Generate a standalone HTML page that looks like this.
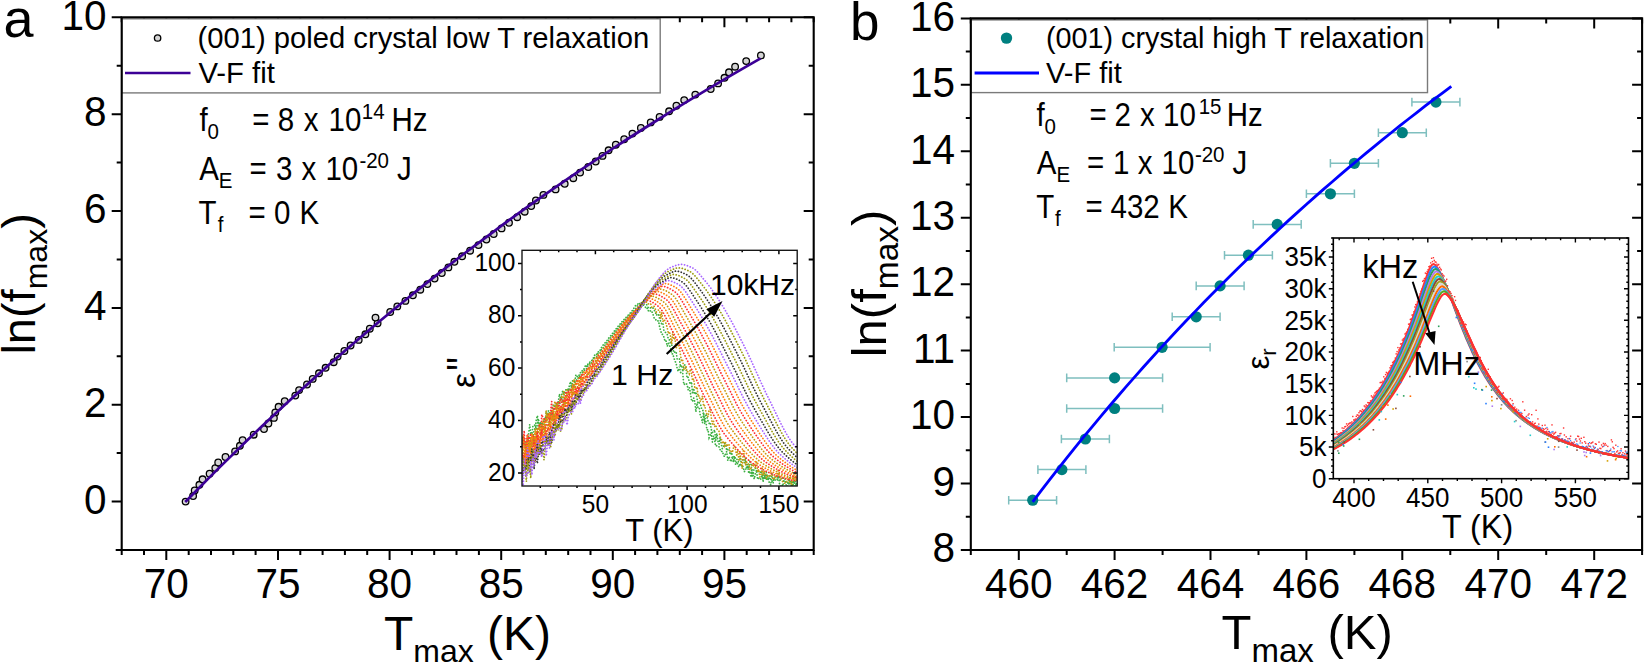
<!DOCTYPE html>
<html><head><meta charset="utf-8"><title>V-F fit figure</title>
<style>html,body{margin:0;padding:0;background:#fff;overflow:hidden}svg{display:block}</style>
</head><body>
<svg width="1644" height="663" viewBox="0 0 1644 663" font-family="'Liberation Sans', Arial, sans-serif">
<rect width="1644" height="663" fill="#fff"/>
<path d="M111.7 501.6H121.7M803.7 501.6H813.7M111.7 404.7H121.7M803.7 404.7H813.7M111.7 307.9H121.7M803.7 307.9H813.7M111.7 211.0H121.7M803.7 211.0H813.7M111.7 114.2H121.7M803.7 114.2H813.7M111.7 17.3H121.7M803.7 17.3H813.7M116.7 550.0H121.7M808.7 550.0H813.7M116.7 453.1H121.7M808.7 453.1H813.7M116.7 356.3H121.7M808.7 356.3H813.7M116.7 259.4H121.7M808.7 259.4H813.7M116.7 162.6H121.7M808.7 162.6H813.7M116.7 65.7H121.7M808.7 65.7H813.7M166.3 550.0V560.0M166.3 17.3V27.3M278.0 550.0V560.0M278.0 17.3V27.3M389.6 550.0V560.0M389.6 17.3V27.3M501.2 550.0V560.0M501.2 17.3V27.3M612.8 550.0V560.0M612.8 17.3V27.3M724.4 550.0V560.0M724.4 17.3V27.3M121.7 550.0V555.0M121.7 17.3V22.3M144.0 550.0V555.0M144.0 17.3V22.3M188.7 550.0V555.0M188.7 17.3V22.3M211.0 550.0V555.0M211.0 17.3V22.3M233.3 550.0V555.0M233.3 17.3V22.3M255.6 550.0V555.0M255.6 17.3V22.3M300.3 550.0V555.0M300.3 17.3V22.3M322.6 550.0V555.0M322.6 17.3V22.3M344.9 550.0V555.0M344.9 17.3V22.3M367.2 550.0V555.0M367.2 17.3V22.3M411.9 550.0V555.0M411.9 17.3V22.3M434.2 550.0V555.0M434.2 17.3V22.3M456.5 550.0V555.0M456.5 17.3V22.3M478.9 550.0V555.0M478.9 17.3V22.3M523.5 550.0V555.0M523.5 17.3V22.3M545.8 550.0V555.0M545.8 17.3V22.3M568.2 550.0V555.0M568.2 17.3V22.3M590.5 550.0V555.0M590.5 17.3V22.3M635.1 550.0V555.0M635.1 17.3V22.3M657.4 550.0V555.0M657.4 17.3V22.3M679.8 550.0V555.0M679.8 17.3V22.3M702.1 550.0V555.0M702.1 17.3V22.3M746.7 550.0V555.0M746.7 17.3V22.3M769.1 550.0V555.0M769.1 17.3V22.3M791.4 550.0V555.0M791.4 17.3V22.3M813.7 550.0V555.0M813.7 17.3V22.3" stroke="#000" stroke-width="2" fill="none"/>
<rect x="121.7" y="18.8" width="538.5" height="74.1" fill="#fff" stroke="#7a7a7a" stroke-width="1.4"/>
<path d="M115.7 550.0H813.7V17.3H121.7V550.5" stroke="#000" stroke-width="2.1" fill="none" stroke-linejoin="miter"/>
<g fill="#d4d4d4" stroke="#000" stroke-width="1.3"><circle cx="185.6" cy="501.6" r="3.3"/><circle cx="193.1" cy="496.0" r="3.3"/><circle cx="194.7" cy="490.4" r="3.3"/><circle cx="199.4" cy="484.8" r="3.3"/><circle cx="202.6" cy="479.3" r="3.3"/><circle cx="209.6" cy="473.7" r="3.3"/><circle cx="215.3" cy="468.1" r="3.3"/><circle cx="218.2" cy="462.5" r="3.3"/><circle cx="225.5" cy="457.0" r="3.3"/><circle cx="235.1" cy="451.4" r="3.3"/><circle cx="239.9" cy="445.8" r="3.3"/><circle cx="242.6" cy="440.2" r="3.3"/><circle cx="253.7" cy="434.7" r="3.3"/><circle cx="264.0" cy="429.1" r="3.3"/><circle cx="268.4" cy="423.5" r="3.3"/><circle cx="273.9" cy="417.9" r="3.3"/><circle cx="275.3" cy="412.4" r="3.3"/><circle cx="278.6" cy="406.8" r="3.3"/><circle cx="284.7" cy="401.2" r="3.3"/><circle cx="295.3" cy="395.6" r="3.3"/><circle cx="299.1" cy="390.1" r="3.3"/><circle cx="307.0" cy="384.5" r="3.3"/><circle cx="312.7" cy="378.9" r="3.3"/><circle cx="319.0" cy="373.3" r="3.3"/><circle cx="325.6" cy="367.8" r="3.3"/><circle cx="333.7" cy="362.2" r="3.3"/><circle cx="337.6" cy="356.6" r="3.3"/><circle cx="344.4" cy="351.0" r="3.3"/><circle cx="350.6" cy="345.5" r="3.3"/><circle cx="358.7" cy="339.9" r="3.3"/><circle cx="365.4" cy="334.3" r="3.3"/><circle cx="369.8" cy="328.7" r="3.3"/><circle cx="377.6" cy="323.2" r="3.3"/><circle cx="375.5" cy="317.6" r="3.3"/><circle cx="390.2" cy="312.0" r="3.3"/><circle cx="397.3" cy="306.4" r="3.3"/><circle cx="405.4" cy="300.9" r="3.3"/><circle cx="412.9" cy="295.3" r="3.3"/><circle cx="420.3" cy="289.7" r="3.3"/><circle cx="427.4" cy="284.1" r="3.3"/><circle cx="434.6" cy="278.6" r="3.3"/><circle cx="441.8" cy="273.0" r="3.3"/><circle cx="448.4" cy="267.4" r="3.3"/><circle cx="454.4" cy="261.8" r="3.3"/><circle cx="462.1" cy="256.3" r="3.3"/><circle cx="470.1" cy="250.7" r="3.3"/><circle cx="478.5" cy="245.1" r="3.3"/><circle cx="486.4" cy="239.5" r="3.3"/><circle cx="493.7" cy="234.0" r="3.3"/><circle cx="501.6" cy="228.4" r="3.3"/><circle cx="509.0" cy="222.8" r="3.3"/><circle cx="517.2" cy="217.2" r="3.3"/><circle cx="524.7" cy="211.7" r="3.3"/><circle cx="531.2" cy="206.1" r="3.3"/><circle cx="535.9" cy="200.5" r="3.3"/><circle cx="543.4" cy="194.9" r="3.3"/><circle cx="555.6" cy="189.4" r="3.3"/><circle cx="564.7" cy="183.8" r="3.3"/><circle cx="573.3" cy="178.2" r="3.3"/><circle cx="580.1" cy="172.6" r="3.3"/><circle cx="588.3" cy="167.0" r="3.3"/><circle cx="595.7" cy="161.5" r="3.3"/><circle cx="602.5" cy="155.9" r="3.3"/><circle cx="608.6" cy="150.3" r="3.3"/><circle cx="615.8" cy="144.7" r="3.3"/><circle cx="624.2" cy="139.2" r="3.3"/><circle cx="632.4" cy="133.6" r="3.3"/><circle cx="640.9" cy="128.0" r="3.3"/><circle cx="650.7" cy="122.4" r="3.3"/><circle cx="659.6" cy="116.9" r="3.3"/><circle cx="669.1" cy="111.3" r="3.3"/><circle cx="676.4" cy="105.7" r="3.3"/><circle cx="684.2" cy="100.1" r="3.3"/><circle cx="695.3" cy="94.6" r="3.3"/><circle cx="710.7" cy="89.0" r="3.3"/><circle cx="718.1" cy="83.4" r="3.3"/><circle cx="724.5" cy="77.8" r="3.3"/><circle cx="729.0" cy="72.3" r="3.3"/><circle cx="735.1" cy="66.7" r="3.3"/><circle cx="746.2" cy="61.1" r="3.3"/><circle cx="760.9" cy="55.5" r="3.3"/></g>
<polyline fill="none" stroke="#3c0096" stroke-width="2.7" stroke-linejoin="round" points="185.2,502.0 192.6,494.5 200.0,487.0 207.5,479.4 215.0,471.9 222.6,464.4 230.3,456.9 238.0,449.4 245.7,441.8 253.6,434.3 261.4,426.8 269.4,419.3 277.4,411.8 285.5,404.2 293.6,396.7 301.9,389.2 310.2,381.7 318.5,374.2 327.0,366.6 335.5,359.1 344.1,351.6 352.8,344.1 361.5,336.6 370.4,329.0 379.3,321.5 388.4,314.0 397.5,306.5 406.7,299.0 416.0,291.4 425.4,283.9 434.9,276.4 444.5,268.9 454.2,261.3 464.0,253.8 473.9,246.3 483.9,238.8 494.0,231.3 504.2,223.7 514.6,216.2 525.0,208.7 535.6,201.2 546.3,193.7 557.1,186.1 568.0,178.6 579.0,171.1 590.2,163.6 601.5,156.1 612.9,148.5 624.5,141.0 636.1,133.5 648.0,126.0 659.9,118.5 672.0,110.9 684.2,103.4 696.6,95.9 709.1,88.4 721.8,80.9 734.5,73.3 747.5,65.8 760.6,58.3"/>
<circle cx="157.6" cy="38" r="3.2" fill="#d4d4d4" stroke="#000" stroke-width="1.3"/>
<path d="M125 73H190.5" stroke="#3c0096" stroke-width="2.6"/>
<text x="197.6" y="47.6" font-size="29.2">(001) poled crystal low T relaxation</text>
<text x="198.4" y="83.2" font-size="29.3">V-F fit</text>
<text transform="translate(199.5,131.1) scale(1,1.12)" font-size="29.5">f</text>
<text transform="translate(207.4,139.1) scale(1,1.08)" font-size="20.5">0</text>
<text transform="translate(252.2,131.1) scale(1,1.12)" font-size="29.5">=</text>
<text transform="translate(277.7,131.1) scale(1,1.12)" font-size="29.5">8</text>
<text transform="translate(303.7,131.1) scale(1,1.12)" font-size="29.5">x</text>
<text transform="translate(328.5,131.1) scale(1,1.12)" font-size="29.5">10</text>
<text transform="translate(361.8,119.3) scale(1,1.08)" font-size="20.5">14</text>
<text transform="translate(391.4,131.1) scale(1,1.12)" font-size="29.5">Hz</text>
<text transform="translate(199.3,180.0) scale(1,1.12)" font-size="29.5">A</text>
<text transform="translate(218.7,188.0) scale(1,1.08)" font-size="20.5">E</text>
<text transform="translate(249.4,180.0) scale(1,1.12)" font-size="29.5">=</text>
<text transform="translate(275.9,180.0) scale(1,1.12)" font-size="29.5">3</text>
<text transform="translate(301.5,180.0) scale(1,1.12)" font-size="29.5">x</text>
<text transform="translate(325.4,180.0) scale(1,1.12)" font-size="29.5">10</text>
<text transform="translate(359.4,168.2) scale(1,1.08)" font-size="20.5">-20</text>
<text transform="translate(397.1,180.0) scale(1,1.12)" font-size="29.5">J</text>
<text transform="translate(198.4,223.6) scale(1,1.12)" font-size="29.5">T</text>
<text transform="translate(217.8,231.6) scale(1,1.08)" font-size="20.5">f</text>
<text transform="translate(248.4,223.6) scale(1,1.12)" font-size="29.5">=</text>
<text transform="translate(274.1,223.6) scale(1,1.12)" font-size="29.5">0</text>
<text transform="translate(299.4,223.6) scale(1,1.12)" font-size="29.5">K</text>
<rect x="522.0" y="250.3" width="275.2" height="235.7" fill="#fff"/>
<clipPath id="cia"><rect x="522.0" y="250.3" width="275.2" height="235.7"/></clipPath>
<g clip-path="url(#cia)" fill="none" stroke-width="1.75" stroke-linecap="round" stroke-dasharray="0.1 2.9"><path d="M522.0 445.2 L523.1 441.8 L524.2 444.0 L525.3 446.1 L526.4 441.2 L527.5 442.6 L528.6 434.0 L529.7 424.5 L530.8 434.0 L531.9 433.3 L533.0 425.4 L534.1 425.0 L535.2 425.2 L536.3 429.6 L537.4 423.6 L538.5 418.6 L539.6 428.1 L540.7 422.4 L541.8 428.4 L542.9 424.1 L544.0 425.4 L545.1 416.6 L546.2 420.0 L547.3 411.8 L548.4 411.0 L549.5 411.1 L550.6 419.5 L551.7 409.8 L552.8 406.3 L553.9 404.3 L555.0 409.1 L556.1 403.7 L557.2 404.0 L558.3 401.9 L559.4 394.0 L560.5 399.0 L561.6 395.1 L562.7 390.9 L563.8 394.2 L564.9 391.5 L566.0 389.6 L567.1 388.5 L568.2 390.8 L569.3 386.1 L570.4 381.6 L571.5 387.7 L572.6 380.6 L573.7 381.1 L574.8 381.6 L575.9 374.6 L577.0 376.1 L578.1 378.7 L579.2 374.9 L580.3 372.7 L581.4 372.7 L582.5 369.9 L583.6 369.8 L584.7 367.3 L585.8 364.9 L586.9 366.6 L588.0 364.0 L589.1 363.5 L590.2 361.4 L591.4 361.4 L592.5 359.4 L593.6 357.6 L594.7 355.2 L595.8 353.7 L596.9 354.3 L598.0 352.4 L599.1 350.1 L600.2 350.2 L601.3 347.9 L602.4 346.4 L603.5 344.4 L604.6 343.3 L605.7 342.2 L606.8 340.8 L607.9 339.4 L609.0 337.7 L610.1 336.6 L611.2 335.1 L612.3 333.7 L613.4 332.3 L614.5 330.9 L615.6 329.5 L616.7 328.1 L617.8 326.7 L618.9 325.4 L620.0 324.1 L621.1 322.8 L622.2 321.5 L623.3 320.3 L624.4 319.1 L625.5 318.0 L626.6 316.8 L627.7 315.7 L628.8 314.6 L629.9 313.4 L631.0 312.2 L632.1 310.9 L633.2 309.4 L634.3 307.5 L635.4 305.8 L636.5 304.5 L637.6 304.0 L638.7 304.1 L639.8 304.2 L640.9 304.6 L642.0 304.8 L643.1 304.6 L644.2 305.8 L645.3 306.9 L646.4 309.0 L647.5 308.2 L648.6 311.3 L649.7 311.8 L650.8 310.3 L651.9 311.6 L653.0 314.1 L654.1 318.0 L655.2 318.2 L656.3 320.9 L657.4 321.1 L658.5 320.8 L659.6 326.7 L660.7 331.0 L661.8 334.3 L662.9 334.6 L664.0 337.3 L665.1 341.6 L666.2 341.1 L667.3 346.3 L668.4 343.2 L669.5 345.5 L670.6 347.7 L671.7 354.1 L672.8 353.7 L673.9 357.8 L675.0 361.0 L676.1 363.2 L677.2 368.5 L678.3 371.5 L679.4 366.7 L680.5 372.3 L681.6 373.3 L682.7 373.0 L683.8 384.7 L684.9 383.9 L686.0 383.0 L687.1 384.7 L688.2 389.8 L689.3 387.5 L690.4 392.8 L691.5 400.1 L692.6 401.5 L693.7 398.0 L694.8 401.6 L695.9 412.0 L697.0 403.2 L698.1 408.0 L699.2 407.7 L700.3 415.8 L701.4 417.7 L702.5 422.8 L703.6 412.5 L704.7 424.0 L705.8 420.2 L706.9 430.0 L708.0 429.4 L709.1 437.7 L710.2 435.4 L711.3 432.6 L712.4 442.1 L713.5 435.9 L714.6 440.0 L715.7 446.2 L716.8 445.7 L717.9 446.8 L719.0 446.7 L720.1 449.5 L721.2 451.7 L722.3 451.1 L723.4 454.7 L724.5 456.7 L725.6 453.6 L726.7 451.5 L727.8 460.7 L729.0 456.5 L730.1 459.7 L731.2 461.8 L732.3 456.5 L733.4 462.1 L734.5 456.1 L735.6 464.7 L736.7 461.6 L737.8 464.5 L738.9 467.1 L740.0 463.3 L741.1 466.5 L742.2 464.7 L743.3 467.6 L744.4 471.8 L745.5 469.0 L746.6 469.1 L747.7 466.6 L748.8 473.5 L749.9 471.1 L751.0 477.3 L752.1 469.7 L753.2 476.1 L754.3 479.0 L755.4 473.5 L756.5 470.0 L757.6 479.4 L758.7 478.4 L759.8 477.6 L760.9 479.3 L762.0 474.6 L763.1 479.1 L764.2 479.1 L765.3 475.1 L766.4 480.0 L767.5 476.3 L768.6 481.5 L769.7 482.6 L770.8 485.1 L771.9 472.8 L773.0 480.5 L774.1 478.9 L775.2 480.1 L776.3 479.7 L777.4 480.3 L778.5 474.3 L779.6 484.5 L780.7 486.5 L781.8 484.8 L782.9 486.1 L784.0 479.2 L785.1 479.1 L786.2 485.3 L787.3 486.9 L788.4 483.6 L789.5 477.7 L790.6 492.2 L791.7 481.0 L792.8 486.5 L793.9 479.5 L795.0 486.8 L796.1 484.2 L797.2 488.5" stroke="#3cb043"/><path d="M522.0 453.8 L523.1 436.7 L524.2 439.4 L525.3 446.1 L526.4 447.5 L527.5 452.1 L528.6 440.8 L529.7 436.6 L530.8 435.0 L531.9 433.2 L533.0 437.4 L534.1 429.8 L535.2 428.3 L536.3 419.7 L537.4 415.5 L538.5 425.0 L539.6 427.0 L540.7 422.2 L541.8 423.8 L542.9 423.3 L544.0 418.8 L545.1 422.3 L546.2 413.5 L547.3 415.5 L548.4 412.8 L549.5 413.4 L550.6 414.3 L551.7 413.9 L552.8 409.6 L553.9 409.4 L555.0 404.9 L556.1 404.4 L557.2 407.9 L558.3 401.3 L559.4 404.8 L560.5 400.8 L561.6 398.3 L562.7 402.6 L563.8 394.4 L564.9 392.9 L566.0 392.5 L567.1 391.9 L568.2 390.5 L569.3 390.8 L570.4 387.7 L571.5 387.1 L572.6 384.3 L573.7 386.1 L574.8 381.5 L575.9 380.5 L577.0 379.8 L578.1 379.1 L579.2 375.9 L580.3 378.7 L581.4 373.5 L582.5 372.6 L583.6 371.2 L584.7 369.7 L585.8 369.9 L586.9 368.0 L588.0 365.4 L589.1 364.3 L590.2 363.2 L591.4 363.8 L592.5 360.2 L593.6 358.3 L594.7 357.1 L595.8 356.4 L596.9 356.4 L598.0 353.2 L599.1 352.6 L600.2 352.6 L601.3 349.5 L602.4 349.0 L603.5 347.4 L604.6 345.7 L605.7 343.7 L606.8 342.8 L607.9 341.2 L609.0 339.6 L610.1 338.3 L611.2 337.0 L612.3 335.6 L613.4 334.2 L614.5 332.8 L615.6 331.4 L616.7 330.0 L617.8 328.6 L618.9 327.2 L620.0 325.8 L621.1 324.5 L622.2 323.1 L623.3 321.8 L624.4 320.6 L625.5 319.4 L626.6 318.2 L627.7 317.1 L628.8 316.0 L629.9 314.9 L631.0 313.8 L632.1 312.7 L633.2 311.5 L634.3 310.3 L635.4 309.0 L636.5 307.4 L637.6 305.5 L638.7 304.3 L639.8 303.3 L640.9 302.2 L642.0 303.0 L643.1 303.9 L644.2 304.0 L645.3 304.2 L646.4 304.1 L647.5 306.1 L648.6 308.1 L649.7 307.5 L650.8 308.0 L651.9 308.8 L653.0 308.1 L654.1 310.4 L655.2 311.0 L656.3 315.4 L657.4 314.2 L658.5 314.1 L659.6 318.4 L660.7 321.6 L661.8 324.2 L662.9 323.3 L664.0 331.3 L665.1 332.0 L666.2 333.0 L667.3 334.6 L668.4 339.5 L669.5 339.9 L670.6 343.6 L671.7 344.8 L672.8 347.7 L673.9 352.8 L675.0 351.9 L676.1 351.5 L677.2 359.4 L678.3 359.5 L679.4 358.9 L680.5 367.0 L681.6 365.1 L682.7 371.7 L683.8 366.5 L684.9 364.8 L686.0 368.1 L687.1 378.1 L688.2 377.3 L689.3 381.8 L690.4 384.3 L691.5 381.8 L692.6 394.0 L693.7 388.3 L694.8 394.5 L695.9 391.9 L697.0 398.4 L698.1 403.7 L699.2 402.8 L700.3 403.5 L701.4 408.1 L702.5 408.7 L703.6 414.3 L704.7 422.0 L705.8 413.9 L706.9 416.8 L708.0 420.9 L709.1 423.4 L710.2 422.3 L711.3 429.5 L712.4 432.4 L713.5 432.6 L714.6 429.8 L715.7 440.4 L716.8 433.3 L717.9 441.1 L719.0 444.1 L720.1 437.4 L721.2 443.4 L722.3 448.7 L723.4 446.8 L724.5 443.6 L725.6 443.9 L726.7 450.6 L727.8 448.9 L729.0 449.0 L730.1 454.7 L731.2 452.4 L732.3 454.8 L733.4 457.5 L734.5 458.4 L735.6 457.5 L736.7 458.6 L737.8 461.6 L738.9 462.0 L740.0 457.6 L741.1 461.6 L742.2 460.1 L743.3 459.9 L744.4 462.7 L745.5 457.8 L746.6 469.0 L747.7 464.2 L748.8 468.7 L749.9 461.9 L751.0 463.0 L752.1 476.1 L753.2 473.3 L754.3 468.2 L755.4 468.3 L756.5 469.0 L757.6 472.3 L758.7 471.0 L759.8 470.8 L760.9 473.7 L762.0 470.4 L763.1 482.1 L764.2 472.7 L765.3 478.8 L766.4 472.4 L767.5 476.9 L768.6 479.5 L769.7 475.6 L770.8 480.3 L771.9 480.7 L773.0 483.3 L774.1 478.4 L775.2 476.9 L776.3 475.4 L777.4 479.7 L778.5 476.0 L779.6 479.7 L780.7 480.4 L781.8 478.4 L782.9 476.9 L784.0 481.9 L785.1 481.8 L786.2 481.7 L787.3 481.1 L788.4 484.6 L789.5 478.2 L790.6 483.2 L791.7 480.4 L792.8 485.0 L793.9 481.1 L795.0 481.1 L796.1 484.0 L797.2 475.9" stroke="#3cb043"/><path d="M522.0 446.5 L523.1 435.9 L524.2 440.3 L525.3 449.7 L526.4 446.7 L527.5 440.3 L528.6 441.2 L529.7 439.6 L530.8 439.8 L531.9 446.9 L533.0 435.6 L534.1 445.0 L535.2 428.6 L536.3 433.1 L537.4 431.5 L538.5 427.5 L539.6 423.6 L540.7 431.0 L541.8 431.3 L542.9 426.6 L544.0 430.0 L545.1 423.6 L546.2 410.7 L547.3 421.5 L548.4 412.8 L549.5 420.3 L550.6 412.0 L551.7 413.3 L552.8 411.0 L553.9 407.2 L555.0 401.3 L556.1 405.9 L557.2 404.8 L558.3 407.3 L559.4 400.4 L560.5 401.8 L561.6 396.9 L562.7 398.3 L563.8 391.4 L564.9 401.3 L566.0 394.9 L567.1 390.2 L568.2 392.3 L569.3 392.2 L570.4 389.5 L571.5 390.9 L572.6 385.9 L573.7 379.3 L574.8 381.1 L575.9 384.8 L577.0 383.0 L578.1 380.7 L579.2 376.7 L580.3 378.8 L581.4 377.2 L582.5 373.2 L583.6 372.0 L584.7 372.6 L585.8 372.3 L586.9 371.4 L588.0 368.8 L589.1 369.2 L590.2 364.3 L591.4 364.4 L592.5 361.9 L593.6 359.2 L594.7 358.6 L595.8 359.2 L596.9 356.2 L598.0 354.7 L599.1 354.6 L600.2 353.3 L601.3 351.4 L602.4 350.7 L603.5 348.0 L604.6 348.0 L605.7 346.1 L606.8 344.4 L607.9 342.9 L609.0 341.4 L610.1 340.0 L611.2 338.6 L612.3 337.1 L613.4 335.7 L614.5 334.3 L615.6 332.8 L616.7 331.4 L617.8 330.0 L618.9 328.6 L620.0 327.2 L621.1 325.8 L622.2 324.4 L623.3 323.1 L624.4 321.7 L625.5 320.4 L626.6 319.2 L627.7 318.0 L628.8 316.8 L629.9 315.7 L631.0 314.6 L632.1 313.5 L633.2 312.5 L634.3 311.4 L635.4 310.3 L636.5 309.2 L637.6 307.8 L638.7 306.7 L639.8 305.3 L640.9 303.9 L642.0 302.1 L643.1 301.7 L644.2 302.8 L645.3 302.8 L646.4 302.0 L647.5 302.4 L648.6 304.0 L649.7 303.3 L650.8 304.0 L651.9 307.5 L653.0 306.6 L654.1 306.4 L655.2 308.7 L656.3 312.0 L657.4 310.4 L658.5 310.1 L659.6 310.3 L660.7 319.0 L661.8 312.0 L662.9 321.5 L664.0 319.5 L665.1 321.1 L666.2 324.0 L667.3 328.2 L668.4 333.7 L669.5 331.5 L670.6 337.1 L671.7 344.1 L672.8 331.7 L673.9 339.7 L675.0 338.5 L676.1 348.8 L677.2 343.8 L678.3 345.5 L679.4 347.7 L680.5 355.1 L681.6 361.4 L682.7 360.2 L683.8 369.3 L684.9 369.9 L686.0 366.1 L687.1 372.1 L688.2 371.5 L689.3 373.7 L690.4 369.1 L691.5 373.6 L692.6 380.6 L693.7 378.7 L694.8 387.9 L695.9 388.7 L697.0 386.9 L698.1 396.6 L699.2 395.7 L700.3 401.6 L701.4 399.0 L702.5 396.1 L703.6 406.4 L704.7 405.3 L705.8 411.2 L706.9 414.3 L708.0 416.8 L709.1 409.9 L710.2 409.0 L711.3 417.6 L712.4 423.9 L713.5 421.2 L714.6 426.8 L715.7 425.0 L716.8 428.7 L717.9 430.6 L719.0 431.3 L720.1 437.0 L721.2 437.9 L722.3 443.8 L723.4 440.9 L724.5 445.5 L725.6 442.5 L726.7 446.6 L727.8 444.2 L729.0 444.3 L730.1 451.9 L731.2 451.0 L732.3 452.6 L733.4 448.0 L734.5 445.9 L735.6 449.9 L736.7 455.1 L737.8 450.0 L738.9 461.2 L740.0 451.9 L741.1 460.2 L742.2 468.4 L743.3 450.9 L744.4 455.5 L745.5 465.2 L746.6 462.0 L747.7 464.2 L748.8 463.9 L749.9 470.1 L751.0 468.1 L752.1 464.9 L753.2 466.4 L754.3 463.7 L755.4 468.1 L756.5 461.0 L757.6 472.0 L758.7 469.2 L759.8 477.1 L760.9 475.4 L762.0 467.1 L763.1 475.4 L764.2 470.9 L765.3 473.4 L766.4 477.2 L767.5 475.3 L768.6 476.3 L769.7 476.7 L770.8 472.9 L771.9 473.6 L773.0 478.2 L774.1 479.8 L775.2 476.1 L776.3 477.8 L777.4 474.3 L778.5 469.1 L779.6 475.6 L780.7 478.9 L781.8 479.6 L782.9 482.2 L784.0 482.7 L785.1 483.3 L786.2 481.4 L787.3 481.8 L788.4 478.0 L789.5 482.1 L790.6 481.6 L791.7 485.3 L792.8 475.7 L793.9 479.8 L795.0 475.6 L796.1 479.1 L797.2 476.9" stroke="#c89a10"/><path d="M522.0 452.5 L523.1 444.8 L524.2 430.6 L525.3 455.2 L526.4 438.5 L527.5 434.1 L528.6 441.0 L529.7 437.7 L530.8 433.4 L531.9 443.5 L533.0 435.4 L534.1 441.0 L535.2 437.9 L536.3 435.6 L537.4 431.2 L538.5 428.0 L539.6 424.9 L540.7 433.2 L541.8 414.5 L542.9 417.5 L544.0 418.5 L545.1 422.5 L546.2 420.0 L547.3 415.9 L548.4 415.4 L549.5 423.4 L550.6 411.7 L551.7 401.5 L552.8 420.1 L553.9 407.3 L555.0 408.5 L556.1 409.1 L557.2 402.2 L558.3 410.2 L559.4 404.0 L560.5 398.1 L561.6 402.4 L562.7 401.7 L563.8 398.5 L564.9 398.8 L566.0 391.4 L567.1 397.3 L568.2 390.8 L569.3 395.3 L570.4 388.8 L571.5 389.5 L572.6 394.3 L573.7 386.6 L574.8 387.8 L575.9 385.0 L577.0 379.5 L578.1 383.7 L579.2 382.2 L580.3 376.1 L581.4 377.3 L582.5 373.6 L583.6 374.3 L584.7 374.9 L585.8 372.3 L586.9 369.1 L588.0 368.1 L589.1 368.0 L590.2 366.6 L591.4 365.3 L592.5 364.4 L593.6 360.5 L594.7 361.0 L595.8 360.6 L596.9 358.6 L598.0 356.3 L599.1 355.1 L600.2 354.2 L601.3 353.1 L602.4 351.3 L603.5 350.6 L604.6 349.0 L605.7 346.9 L606.8 345.9 L607.9 344.3 L609.0 342.7 L610.1 341.4 L611.2 340.0 L612.3 338.5 L613.4 337.0 L614.5 335.6 L615.6 334.1 L616.7 332.6 L617.8 331.2 L618.9 329.7 L620.0 328.3 L621.1 326.9 L622.2 325.5 L623.3 324.1 L624.4 322.7 L625.5 321.4 L626.6 320.1 L627.7 318.8 L628.8 317.5 L629.9 316.3 L631.0 315.1 L632.1 314.0 L633.2 312.9 L634.3 311.8 L635.4 310.8 L636.5 309.8 L637.6 308.7 L638.7 307.7 L639.8 306.6 L640.9 305.4 L642.0 303.9 L643.1 302.3 L644.2 301.0 L645.3 300.3 L646.4 300.2 L647.5 300.4 L648.6 300.6 L649.7 301.0 L650.8 301.4 L651.9 302.0 L653.0 302.6 L654.1 303.3 L655.2 304.1 L656.3 304.8 L657.4 305.7 L658.5 306.5 L659.6 307.5 L660.7 308.8 L661.8 310.4 L662.9 312.1 L664.0 314.1 L665.1 316.1 L666.2 318.3 L667.3 320.6 L668.4 322.8 L669.5 325.1 L670.6 327.4 L671.7 329.6 L672.8 331.7 L673.9 333.8 L675.0 335.9 L676.1 338.0 L677.2 340.1 L678.3 342.3 L679.4 344.5 L680.5 346.7 L681.6 348.9 L682.7 351.1 L683.8 353.3 L684.9 355.5 L686.0 357.8 L687.1 360.0 L688.2 362.2 L689.3 364.5 L690.4 366.8 L691.5 369.0 L692.6 371.3 L693.7 373.7 L694.8 376.0 L695.9 378.4 L697.0 380.8 L698.1 383.1 L699.2 385.5 L700.3 387.9 L701.4 390.2 L702.5 392.5 L703.6 394.8 L704.7 397.1 L705.8 399.3 L706.9 401.5 L708.0 403.7 L709.1 405.8 L710.2 408.0 L711.3 410.3 L712.4 412.5 L713.5 414.7 L714.6 416.9 L715.7 419.1 L716.8 421.2 L717.9 423.3 L719.0 425.3 L720.1 427.2 L721.2 429.1 L722.3 430.9 L723.4 432.5 L724.5 434.1 L725.6 435.5 L726.7 436.9 L727.8 438.3 L729.0 439.7 L730.1 441.0 L731.2 442.3 L732.3 443.6 L733.4 444.9 L734.5 446.1 L735.6 447.3 L736.7 448.5 L737.8 449.7 L738.9 450.9 L740.0 452.0 L741.1 453.2 L742.2 454.3 L743.3 455.3 L744.4 456.4 L745.5 457.4 L746.6 458.4 L747.7 459.4 L748.8 460.3 L749.9 461.2 L751.0 462.1 L752.1 463.0 L753.2 463.8 L754.3 464.6 L755.4 465.3 L756.5 466.0 L757.6 466.7 L758.7 467.3 L759.8 467.9 L760.9 468.5 L762.0 469.1 L763.1 469.7 L764.2 470.3 L765.3 470.8 L766.4 471.4 L767.5 471.9 L768.6 472.4 L769.7 472.9 L770.8 473.4 L771.9 473.9 L773.0 474.4 L774.1 474.8 L775.2 475.3 L776.3 475.7 L777.4 476.1 L778.5 476.5 L779.6 476.9 L780.7 477.2 L781.8 477.6 L782.9 477.9 L784.0 478.2 L785.1 478.5 L786.2 478.8 L787.3 479.1 L788.4 479.4 L789.5 479.7 L790.6 479.9 L791.7 480.1 L792.8 480.4 L793.9 480.6 L795.0 480.8 L796.1 481.0 L797.2 481.2" stroke="#ff3030"/><path d="M522.0 457.2 L523.1 436.1 L524.2 449.7 L525.3 453.2 L526.4 442.7 L527.5 435.3 L528.6 442.4 L529.7 451.5 L530.8 440.7 L531.9 433.6 L533.0 443.3 L534.1 443.4 L535.2 431.7 L536.3 434.8 L537.4 439.6 L538.5 433.9 L539.6 433.9 L540.7 426.8 L541.8 426.2 L542.9 419.7 L544.0 420.6 L545.1 429.9 L546.2 419.5 L547.3 416.1 L548.4 416.9 L549.5 413.2 L550.6 418.8 L551.7 419.2 L552.8 410.4 L553.9 417.0 L555.0 419.9 L556.1 406.6 L557.2 411.8 L558.3 408.9 L559.4 411.3 L560.5 409.6 L561.6 407.5 L562.7 403.5 L563.8 399.8 L564.9 406.4 L566.0 395.9 L567.1 400.0 L568.2 398.1 L569.3 392.0 L570.4 392.6 L571.5 394.8 L572.6 385.2 L573.7 390.3 L574.8 386.4 L575.9 385.2 L577.0 381.4 L578.1 383.9 L579.2 379.7 L580.3 381.7 L581.4 377.0 L582.5 378.9 L583.6 376.9 L584.7 372.1 L585.8 373.1 L586.9 372.1 L588.0 367.9 L589.1 369.0 L590.2 369.0 L591.4 365.8 L592.5 366.4 L593.6 362.7 L594.7 361.3 L595.8 361.4 L596.9 360.0 L598.0 358.0 L599.1 356.7 L600.2 355.8 L601.3 353.6 L602.4 353.4 L603.5 351.3 L604.6 349.9 L605.7 348.5 L606.8 346.9 L607.9 345.8 L609.0 344.1 L610.1 342.8 L611.2 341.4 L612.3 339.9 L613.4 338.4 L614.5 336.9 L615.6 335.3 L616.7 333.8 L617.8 332.3 L618.9 330.8 L620.0 329.4 L621.1 327.9 L622.2 326.4 L623.3 325.0 L624.4 323.6 L625.5 322.2 L626.6 320.8 L627.7 319.5 L628.8 318.1 L629.9 316.8 L631.0 315.6 L632.1 314.3 L633.2 313.1 L634.3 312.0 L635.4 310.9 L636.5 309.9 L637.6 308.9 L638.7 307.9 L639.8 306.9 L640.9 305.9 L642.0 304.8 L643.1 303.8 L644.2 302.5 L645.3 301.0 L646.4 299.6 L647.5 298.7 L648.6 298.3 L649.7 298.4 L650.8 298.6 L651.9 298.9 L653.0 299.3 L654.1 299.8 L655.2 300.4 L656.3 301.0 L657.4 301.7 L658.5 302.5 L659.6 303.3 L660.7 304.1 L661.8 305.0 L662.9 306.1 L664.0 307.5 L665.1 309.1 L666.2 310.9 L667.3 312.9 L668.4 315.0 L669.5 317.1 L670.6 319.3 L671.7 321.6 L672.8 323.8 L673.9 325.9 L675.0 328.1 L676.1 330.1 L677.2 332.1 L678.3 334.2 L679.4 336.3 L680.5 338.4 L681.6 340.5 L682.7 342.6 L683.8 344.8 L684.9 346.9 L686.0 349.1 L687.1 351.3 L688.2 353.5 L689.3 355.7 L690.4 357.9 L691.5 360.1 L692.6 362.4 L693.7 364.6 L694.8 366.9 L695.9 369.2 L697.0 371.5 L698.1 373.8 L699.2 376.1 L700.3 378.5 L701.4 380.8 L702.5 383.2 L703.6 385.5 L704.7 387.8 L705.8 390.1 L706.9 392.4 L708.0 394.6 L709.1 396.8 L710.2 399.0 L711.3 401.2 L712.4 403.3 L713.5 405.5 L714.6 407.8 L715.7 410.0 L716.8 412.2 L717.9 414.4 L719.0 416.5 L720.1 418.7 L721.2 420.7 L722.3 422.7 L723.4 424.7 L724.5 426.5 L725.6 428.3 L726.7 429.9 L727.8 431.5 L729.0 432.9 L730.1 434.4 L731.2 435.8 L732.3 437.3 L733.4 438.6 L734.5 440.0 L735.6 441.3 L736.7 442.6 L737.8 443.9 L738.9 445.2 L740.0 446.5 L741.1 447.7 L742.2 448.9 L743.3 450.1 L744.4 451.3 L745.5 452.5 L746.6 453.6 L747.7 454.8 L748.8 455.8 L749.9 456.9 L751.0 457.9 L752.1 458.9 L753.2 459.9 L754.3 460.8 L755.4 461.7 L756.5 462.6 L757.6 463.4 L758.7 464.2 L759.8 464.9 L760.9 465.6 L762.0 466.3 L763.1 466.9 L764.2 467.5 L765.3 468.2 L766.4 468.8 L767.5 469.4 L768.6 470.0 L769.7 470.5 L770.8 471.1 L771.9 471.6 L773.0 472.2 L774.1 472.7 L775.2 473.2 L776.3 473.7 L777.4 474.2 L778.5 474.6 L779.6 475.1 L780.7 475.5 L781.8 475.9 L782.9 476.3 L784.0 476.7 L785.1 477.1 L786.2 477.4 L787.3 477.7 L788.4 478.0 L789.5 478.4 L790.6 478.6 L791.7 478.9 L792.8 479.2 L793.9 479.5 L795.0 479.7 L796.1 480.0 L797.2 480.2" stroke="#ff7f0e"/><path d="M522.0 459.7 L523.1 448.8 L524.2 462.7 L525.3 451.3 L526.4 445.0 L527.5 450.8 L528.6 445.7 L529.7 452.7 L530.8 436.9 L531.9 437.0 L533.0 440.8 L534.1 450.9 L535.2 445.5 L536.3 433.0 L537.4 427.6 L538.5 433.5 L539.6 426.8 L540.7 434.5 L541.8 430.5 L542.9 427.8 L544.0 424.2 L545.1 431.9 L546.2 419.0 L547.3 416.0 L548.4 425.7 L549.5 425.2 L550.6 416.6 L551.7 419.5 L552.8 425.1 L553.9 411.3 L555.0 412.6 L556.1 413.7 L557.2 403.1 L558.3 409.0 L559.4 410.8 L560.5 406.6 L561.6 409.0 L562.7 406.6 L563.8 401.6 L564.9 403.1 L566.0 401.3 L567.1 393.9 L568.2 394.8 L569.3 393.6 L570.4 392.9 L571.5 391.6 L572.6 387.9 L573.7 390.0 L574.8 384.5 L575.9 389.3 L577.0 386.4 L578.1 387.3 L579.2 383.8 L580.3 380.9 L581.4 377.9 L582.5 380.2 L583.6 377.7 L584.7 376.9 L585.8 376.1 L586.9 375.3 L588.0 372.2 L589.1 373.0 L590.2 369.3 L591.4 368.0 L592.5 367.2 L593.6 366.1 L594.7 364.9 L595.8 360.7 L596.9 361.8 L598.0 358.2 L599.1 357.5 L600.2 356.6 L601.3 355.6 L602.4 353.1 L603.5 351.5 L604.6 351.1 L605.7 349.5 L606.8 347.8 L607.9 346.6 L609.0 345.0 L610.1 343.9 L611.2 342.4 L612.3 341.1 L613.4 339.6 L614.5 338.1 L615.6 336.6 L616.7 335.0 L617.8 333.5 L618.9 332.0 L620.0 330.4 L621.1 328.9 L622.2 327.4 L623.3 325.9 L624.4 324.4 L625.5 322.9 L626.6 321.5 L627.7 320.1 L628.8 318.8 L629.9 317.4 L631.0 316.0 L632.1 314.7 L633.2 313.4 L634.3 312.2 L635.4 311.0 L636.5 309.8 L637.6 308.7 L638.7 307.7 L639.8 306.7 L640.9 305.8 L642.0 304.8 L643.1 303.8 L644.2 302.9 L645.3 301.9 L646.4 300.8 L647.5 299.4 L648.6 298.1 L649.7 296.9 L650.8 296.3 L651.9 296.3 L653.0 296.4 L654.1 296.6 L655.2 297.0 L656.3 297.4 L657.4 298.0 L658.5 298.6 L659.6 299.2 L660.7 299.9 L661.8 300.7 L662.9 301.5 L664.0 302.3 L665.1 303.3 L666.2 304.6 L667.3 306.0 L668.4 307.7 L669.5 309.6 L670.6 311.5 L671.7 313.6 L672.8 315.7 L673.9 317.9 L675.0 320.0 L676.1 322.1 L677.2 324.2 L678.3 326.2 L679.4 328.2 L680.5 330.2 L681.6 332.2 L682.7 334.3 L683.8 336.4 L684.9 338.5 L686.0 340.6 L687.1 342.7 L688.2 344.8 L689.3 347.0 L690.4 349.1 L691.5 351.3 L692.6 353.5 L693.7 355.6 L694.8 357.8 L695.9 360.0 L697.0 362.3 L698.1 364.5 L699.2 366.8 L700.3 369.1 L701.4 371.4 L702.5 373.7 L703.6 376.0 L704.7 378.4 L705.8 380.7 L706.9 383.0 L708.0 385.3 L709.1 387.5 L710.2 389.8 L711.3 392.0 L712.4 394.2 L713.5 396.3 L714.6 398.5 L715.7 400.7 L716.8 402.9 L717.9 405.1 L719.0 407.3 L720.1 409.5 L721.2 411.7 L722.3 413.9 L723.4 416.0 L724.5 418.1 L725.6 420.1 L726.7 422.0 L727.8 423.8 L729.0 425.6 L730.1 427.2 L731.2 428.8 L732.3 430.3 L733.4 431.8 L734.5 433.3 L735.6 434.8 L736.7 436.2 L737.8 437.6 L738.9 439.0 L740.0 440.4 L741.1 441.7 L742.2 443.1 L743.3 444.4 L744.4 445.7 L745.5 447.0 L746.6 448.3 L747.7 449.5 L748.8 450.7 L749.9 451.9 L751.0 453.1 L752.1 454.3 L753.2 455.4 L754.3 456.5 L755.4 457.5 L756.5 458.5 L757.6 459.5 L758.7 460.5 L759.8 461.4 L760.9 462.2 L762.0 463.0 L763.1 463.8 L764.2 464.5 L765.3 465.2 L766.4 465.9 L767.5 466.6 L768.6 467.2 L769.7 467.9 L770.8 468.5 L771.9 469.1 L773.0 469.7 L774.1 470.3 L775.2 470.9 L776.3 471.4 L777.4 472.0 L778.5 472.5 L779.6 473.0 L780.7 473.5 L781.8 474.0 L782.9 474.5 L784.0 474.9 L785.1 475.3 L786.2 475.8 L787.3 476.1 L788.4 476.5 L789.5 476.9 L790.6 477.2 L791.7 477.5 L792.8 477.9 L793.9 478.2 L795.0 478.5 L796.1 478.8 L797.2 479.0" stroke="#c89a10"/><path d="M522.0 455.5 L523.1 456.4 L524.2 460.3 L525.3 463.0 L526.4 457.4 L527.5 441.0 L528.6 436.8 L529.7 443.8 L530.8 439.4 L531.9 448.3 L533.0 444.4 L534.1 441.1 L535.2 447.4 L536.3 445.6 L537.4 438.3 L538.5 439.3 L539.6 441.6 L540.7 432.5 L541.8 434.0 L542.9 426.0 L544.0 429.1 L545.1 428.7 L546.2 425.0 L547.3 424.9 L548.4 425.6 L549.5 423.0 L550.6 416.7 L551.7 415.9 L552.8 412.1 L553.9 422.6 L555.0 416.2 L556.1 415.0 L557.2 411.6 L558.3 412.6 L559.4 411.5 L560.5 405.9 L561.6 406.6 L562.7 409.6 L563.8 400.5 L564.9 400.2 L566.0 403.5 L567.1 398.1 L568.2 401.0 L569.3 394.6 L570.4 396.7 L571.5 396.7 L572.6 394.1 L573.7 393.6 L574.8 389.9 L575.9 388.5 L577.0 387.4 L578.1 387.2 L579.2 391.7 L580.3 383.2 L581.4 385.3 L582.5 380.2 L583.6 377.4 L584.7 377.4 L585.8 377.0 L586.9 375.3 L588.0 373.8 L589.1 372.9 L590.2 371.4 L591.4 370.3 L592.5 366.7 L593.6 366.4 L594.7 364.1 L595.8 363.7 L596.9 361.9 L598.0 360.6 L599.1 358.7 L600.2 357.1 L601.3 356.0 L602.4 354.9 L603.5 353.5 L604.6 351.2 L605.7 350.4 L606.8 349.0 L607.9 347.3 L609.0 346.0 L610.1 344.7 L611.2 343.4 L612.3 341.9 L613.4 340.6 L614.5 339.1 L615.6 337.7 L616.7 336.2 L617.8 334.7 L618.9 333.1 L620.0 331.5 L621.1 329.9 L622.2 328.4 L623.3 326.8 L624.4 325.2 L625.5 323.7 L626.6 322.2 L627.7 320.7 L628.8 319.3 L629.9 317.9 L631.0 316.5 L632.1 315.1 L633.2 313.8 L634.3 312.4 L635.4 311.1 L636.5 309.8 L637.6 308.6 L638.7 307.5 L639.8 306.4 L640.9 305.3 L642.0 304.3 L643.1 303.4 L644.2 302.5 L645.3 301.6 L646.4 300.7 L647.5 299.7 L648.6 298.7 L649.7 297.6 L650.8 296.3 L651.9 295.1 L653.0 294.2 L654.1 294.0 L655.2 294.0 L656.3 294.2 L657.4 294.5 L658.5 294.9 L659.6 295.4 L660.7 296.0 L661.8 296.6 L662.9 297.3 L664.0 298.0 L665.1 298.7 L666.2 299.5 L667.3 300.4 L668.4 301.5 L669.5 302.9 L670.6 304.4 L671.7 306.1 L672.8 308.0 L673.9 310.0 L675.0 312.0 L676.1 314.1 L677.2 316.1 L678.3 318.2 L679.4 320.3 L680.5 322.3 L681.6 324.2 L682.7 326.1 L683.8 328.1 L684.9 330.1 L686.0 332.1 L687.1 334.2 L688.2 336.2 L689.3 338.3 L690.4 340.4 L691.5 342.5 L692.6 344.6 L693.7 346.7 L694.8 348.9 L695.9 351.0 L697.0 353.2 L698.1 355.3 L699.2 357.5 L700.3 359.7 L701.4 362.0 L702.5 364.2 L703.6 366.5 L704.7 368.8 L705.8 371.1 L706.9 373.4 L708.0 375.7 L709.1 378.0 L710.2 380.3 L711.3 382.6 L712.4 384.8 L713.5 387.0 L714.6 389.2 L715.7 391.4 L716.8 393.5 L717.9 395.7 L719.0 397.9 L720.1 400.1 L721.2 402.3 L722.3 404.6 L723.4 406.8 L724.5 409.0 L725.6 411.1 L726.7 413.2 L727.8 415.3 L729.0 417.3 L730.1 419.2 L731.2 421.1 L732.3 422.8 L733.4 424.5 L734.5 426.1 L735.6 427.7 L736.7 429.2 L737.8 430.8 L738.9 432.3 L740.0 433.8 L741.1 435.2 L742.2 436.7 L743.3 438.1 L744.4 439.5 L745.5 440.9 L746.6 442.3 L747.7 443.7 L748.8 445.0 L749.9 446.4 L751.0 447.7 L752.1 449.0 L753.2 450.2 L754.3 451.5 L755.4 452.7 L756.5 453.9 L757.6 455.0 L758.7 456.1 L759.8 457.2 L760.9 458.2 L762.0 459.2 L763.1 460.1 L764.2 461.0 L765.3 461.9 L766.4 462.6 L767.5 463.4 L768.6 464.1 L769.7 464.9 L770.8 465.6 L771.9 466.3 L773.0 466.9 L774.1 467.6 L775.2 468.3 L776.3 468.9 L777.4 469.5 L778.5 470.1 L779.6 470.7 L780.7 471.3 L781.8 471.8 L782.9 472.4 L784.0 472.9 L785.1 473.4 L786.2 473.9 L787.3 474.3 L788.4 474.8 L789.5 475.2 L790.6 475.6 L791.7 476.0 L792.8 476.3 L793.9 476.7 L795.0 477.0 L796.1 477.4 L797.2 477.7" stroke="#ff3030"/><path d="M522.0 457.5 L523.1 459.1 L524.2 458.3 L525.3 468.3 L526.4 450.5 L527.5 441.5 L528.6 462.5 L529.7 442.4 L530.8 451.7 L531.9 433.2 L533.0 443.2 L534.1 445.5 L535.2 437.0 L536.3 439.0 L537.4 443.8 L538.5 435.6 L539.6 440.7 L540.7 445.8 L541.8 425.3 L542.9 435.5 L544.0 435.0 L545.1 428.8 L546.2 435.7 L547.3 432.8 L548.4 427.2 L549.5 425.6 L550.6 421.6 L551.7 415.9 L552.8 421.0 L553.9 415.8 L555.0 414.1 L556.1 419.1 L557.2 413.0 L558.3 415.9 L559.4 407.6 L560.5 408.5 L561.6 408.7 L562.7 411.7 L563.8 405.8 L564.9 407.1 L566.0 401.4 L567.1 402.5 L568.2 403.0 L569.3 396.9 L570.4 396.1 L571.5 397.9 L572.6 392.2 L573.7 394.3 L574.8 392.8 L575.9 390.4 L577.0 390.8 L578.1 388.6 L579.2 386.6 L580.3 382.1 L581.4 380.9 L582.5 382.5 L583.6 378.1 L584.7 379.3 L585.8 377.3 L586.9 375.2 L588.0 374.6 L589.1 370.6 L590.2 371.9 L591.4 372.0 L592.5 367.9 L593.6 368.1 L594.7 366.5 L595.8 367.2 L596.9 362.5 L598.0 361.2 L599.1 359.8 L600.2 358.2 L601.3 356.4 L602.4 355.8 L603.5 353.9 L604.6 353.0 L605.7 351.4 L606.8 349.6 L607.9 348.3 L609.0 347.2 L610.1 345.5 L611.2 344.2 L612.3 342.8 L613.4 341.4 L614.5 340.0 L615.6 338.5 L616.7 337.1 L617.8 335.6 L618.9 334.1 L620.0 332.6 L621.1 331.0 L622.2 329.4 L623.3 327.8 L624.4 326.2 L625.5 324.6 L626.6 323.0 L627.7 321.4 L628.8 319.8 L629.9 318.3 L631.0 316.9 L632.1 315.5 L633.2 314.1 L634.3 312.7 L635.4 311.3 L636.5 310.0 L637.6 308.6 L638.7 307.4 L639.8 306.1 L640.9 305.0 L642.0 303.8 L643.1 302.8 L644.2 301.8 L645.3 300.9 L646.4 300.0 L647.5 299.1 L648.6 298.2 L649.7 297.3 L650.8 296.4 L651.9 295.5 L653.0 294.3 L654.1 293.1 L655.2 292.1 L656.3 291.6 L657.4 291.6 L658.5 291.7 L659.6 292.0 L660.7 292.3 L661.8 292.7 L662.9 293.2 L664.0 293.8 L665.1 294.5 L666.2 295.1 L667.3 295.8 L668.4 296.6 L669.5 297.4 L670.6 298.4 L671.7 299.6 L672.8 301.0 L673.9 302.6 L675.0 304.4 L676.1 306.2 L677.2 308.2 L678.3 310.2 L679.4 312.2 L680.5 314.2 L681.6 316.2 L682.7 318.1 L683.8 320.0 L684.9 321.9 L686.0 323.9 L687.1 325.8 L688.2 327.8 L689.3 329.7 L690.4 331.8 L691.5 333.8 L692.6 335.8 L693.7 337.9 L694.8 339.9 L695.9 342.0 L697.0 344.1 L698.1 346.2 L699.2 348.4 L700.3 350.5 L701.4 352.7 L702.5 354.8 L703.6 357.0 L704.7 359.3 L705.8 361.5 L706.9 363.8 L708.0 366.0 L709.1 368.3 L710.2 370.6 L711.3 372.9 L712.4 375.2 L713.5 377.4 L714.6 379.7 L715.7 381.9 L716.8 384.1 L717.9 386.3 L719.0 388.4 L720.1 390.6 L721.2 392.8 L722.3 395.0 L723.4 397.2 L724.5 399.4 L725.6 401.7 L726.7 403.9 L727.8 406.1 L729.0 408.2 L730.1 410.3 L731.2 412.4 L732.3 414.4 L733.4 416.3 L734.5 418.2 L735.6 419.9 L736.7 421.6 L737.8 423.3 L738.9 425.0 L740.0 426.6 L741.1 428.2 L742.2 429.7 L743.3 431.3 L744.4 432.8 L745.5 434.3 L746.6 435.8 L747.7 437.2 L748.8 438.7 L749.9 440.2 L751.0 441.6 L752.1 443.1 L753.2 444.5 L754.3 445.9 L755.4 447.2 L756.5 448.5 L757.6 449.9 L758.7 451.1 L759.8 452.4 L760.9 453.6 L762.0 454.7 L763.1 455.8 L764.2 456.9 L765.3 457.9 L766.4 458.9 L767.5 459.8 L768.6 460.7 L769.7 461.5 L770.8 462.3 L771.9 463.1 L773.0 463.8 L774.1 464.6 L775.2 465.3 L776.3 466.0 L777.4 466.7 L778.5 467.4 L779.6 468.1 L780.7 468.7 L781.8 469.4 L782.9 470.0 L784.0 470.6 L785.1 471.1 L786.2 471.7 L787.3 472.2 L788.4 472.8 L789.5 473.3 L790.6 473.7 L791.7 474.2 L792.8 474.6 L793.9 475.0 L795.0 475.4 L796.1 475.8 L797.2 476.2" stroke="#ff7f0e"/><path d="M522.0 460.5 L523.1 457.8 L524.2 461.7 L525.3 453.0 L526.4 456.4 L527.5 460.2 L528.6 452.3 L529.7 439.9 L530.8 454.1 L531.9 442.0 L533.0 439.6 L534.1 437.8 L535.2 449.6 L536.3 432.7 L537.4 441.8 L538.5 442.4 L539.6 441.0 L540.7 435.4 L541.8 436.9 L542.9 436.7 L544.0 428.3 L545.1 436.4 L546.2 436.1 L547.3 426.1 L548.4 424.8 L549.5 421.4 L550.6 428.8 L551.7 418.3 L552.8 419.2 L553.9 412.8 L555.0 423.0 L556.1 416.0 L557.2 416.5 L558.3 419.8 L559.4 415.3 L560.5 407.7 L561.6 411.7 L562.7 411.2 L563.8 404.9 L564.9 403.4 L566.0 402.1 L567.1 405.9 L568.2 402.5 L569.3 398.2 L570.4 401.3 L571.5 400.0 L572.6 394.8 L573.7 391.7 L574.8 396.4 L575.9 398.0 L577.0 393.9 L578.1 391.5 L579.2 388.3 L580.3 385.4 L581.4 385.3 L582.5 384.8 L583.6 381.9 L584.7 382.2 L585.8 379.4 L586.9 378.8 L588.0 373.0 L589.1 374.0 L590.2 374.5 L591.4 373.2 L592.5 371.1 L593.6 370.7 L594.7 368.3 L595.8 366.7 L596.9 363.9 L598.0 363.4 L599.1 362.0 L600.2 360.7 L601.3 359.0 L602.4 356.9 L603.5 355.4 L604.6 353.4 L605.7 352.5 L606.8 350.5 L607.9 349.2 L609.0 347.8 L610.1 346.5 L611.2 345.0 L612.3 343.4 L613.4 342.0 L614.5 340.6 L615.6 339.2 L616.7 337.8 L617.8 336.4 L618.9 334.9 L620.0 333.5 L621.1 332.0 L622.2 330.5 L623.3 328.9 L624.4 327.3 L625.5 325.6 L626.6 323.9 L627.7 322.3 L628.8 320.6 L629.9 319.0 L631.0 317.4 L632.1 315.8 L633.2 314.3 L634.3 312.9 L635.4 311.5 L636.5 310.1 L637.6 308.7 L638.7 307.4 L639.8 306.0 L640.9 304.7 L642.0 303.5 L643.1 302.3 L644.2 301.2 L645.3 300.1 L646.4 299.1 L647.5 298.2 L648.6 297.3 L649.7 296.5 L650.8 295.6 L651.9 294.8 L653.0 293.9 L654.1 293.1 L655.2 292.0 L656.3 290.9 L657.4 289.9 L658.5 289.2 L659.6 289.0 L660.7 289.1 L661.8 289.3 L662.9 289.6 L664.0 289.9 L665.1 290.4 L666.2 290.9 L667.3 291.5 L668.4 292.2 L669.5 292.8 L670.6 293.5 L671.7 294.3 L672.8 295.2 L673.9 296.3 L675.0 297.6 L676.1 299.0 L677.2 300.7 L678.3 302.4 L679.4 304.3 L680.5 306.2 L681.6 308.1 L682.7 310.1 L683.8 312.0 L684.9 313.9 L686.0 315.8 L687.1 317.6 L688.2 319.5 L689.3 321.4 L690.4 323.3 L691.5 325.2 L692.6 327.2 L693.7 329.2 L694.8 331.2 L695.9 333.2 L697.0 335.2 L698.1 337.2 L699.2 339.3 L700.3 341.4 L701.4 343.4 L702.5 345.5 L703.6 347.7 L704.7 349.8 L705.8 352.0 L706.9 354.2 L708.0 356.4 L709.1 358.6 L710.2 360.8 L711.3 363.1 L712.4 365.4 L713.5 367.6 L714.6 369.9 L715.7 372.1 L716.8 374.4 L717.9 376.6 L719.0 378.8 L720.1 381.0 L721.2 383.2 L722.3 385.3 L723.4 387.5 L724.5 389.7 L725.6 391.9 L726.7 394.2 L727.8 396.4 L729.0 398.6 L730.1 400.8 L731.2 403.0 L732.3 405.2 L733.4 407.3 L734.5 409.4 L735.6 411.4 L736.7 413.4 L737.8 415.2 L738.9 417.0 L740.0 418.8 L741.1 420.5 L742.2 422.2 L743.3 423.9 L744.4 425.5 L745.5 427.1 L746.6 428.7 L747.7 430.3 L748.8 431.9 L749.9 433.4 L751.0 435.0 L752.1 436.5 L753.2 438.1 L754.3 439.6 L755.4 441.1 L756.5 442.6 L757.6 444.0 L758.7 445.4 L759.8 446.9 L760.9 448.2 L762.0 449.6 L763.1 450.9 L764.2 452.1 L765.3 453.3 L766.4 454.5 L767.5 455.6 L768.6 456.7 L769.7 457.7 L770.8 458.6 L771.9 459.5 L773.0 460.3 L774.1 461.2 L775.2 462.0 L776.3 462.8 L777.4 463.6 L778.5 464.4 L779.6 465.1 L780.7 465.8 L781.8 466.6 L782.9 467.3 L784.0 467.9 L785.1 468.6 L786.2 469.2 L787.3 469.9 L788.4 470.5 L789.5 471.0 L790.6 471.6 L791.7 472.1 L792.8 472.6 L793.9 473.1 L795.0 473.6 L796.1 474.0 L797.2 474.4" stroke="#c89a10"/><path d="M522.0 455.3 L523.1 459.9 L524.2 453.3 L525.3 467.2 L526.4 466.9 L527.5 450.7 L528.6 463.0 L529.7 455.0 L530.8 452.5 L531.9 453.5 L533.0 452.0 L534.1 440.2 L535.2 460.9 L536.3 440.7 L537.4 431.9 L538.5 442.8 L539.6 441.7 L540.7 436.6 L541.8 429.8 L542.9 443.4 L544.0 435.8 L545.1 435.7 L546.2 431.0 L547.3 431.4 L548.4 427.6 L549.5 430.7 L550.6 426.9 L551.7 428.1 L552.8 426.3 L553.9 422.5 L555.0 420.9 L556.1 423.2 L557.2 411.7 L558.3 416.4 L559.4 419.3 L560.5 409.5 L561.6 414.3 L562.7 408.8 L563.8 409.2 L564.9 407.0 L566.0 406.0 L567.1 406.8 L568.2 403.7 L569.3 397.1 L570.4 406.9 L571.5 399.6 L572.6 397.3 L573.7 399.4 L574.8 398.6 L575.9 389.4 L577.0 393.4 L578.1 387.0 L579.2 388.6 L580.3 388.1 L581.4 385.9 L582.5 384.2 L583.6 381.9 L584.7 381.6 L585.8 380.6 L586.9 379.1 L588.0 376.2 L589.1 375.5 L590.2 376.2 L591.4 374.2 L592.5 371.7 L593.6 371.1 L594.7 369.4 L595.8 368.3 L596.9 366.1 L598.0 364.1 L599.1 362.2 L600.2 361.3 L601.3 358.6 L602.4 358.2 L603.5 355.3 L604.6 354.6 L605.7 353.2 L606.8 351.9 L607.9 350.8 L609.0 348.7 L610.1 347.1 L611.2 345.5 L612.3 344.2 L613.4 342.7 L614.5 341.2 L615.6 339.8 L616.7 338.4 L617.8 337.0 L618.9 335.6 L620.0 334.1 L621.1 332.7 L622.2 331.2 L623.3 329.7 L624.4 328.2 L625.5 326.6 L626.6 325.0 L627.7 323.3 L628.8 321.6 L629.9 319.9 L631.0 318.2 L632.1 316.5 L633.2 314.8 L634.3 313.2 L635.4 311.7 L636.5 310.2 L637.6 308.8 L638.7 307.4 L639.8 306.0 L640.9 304.6 L642.0 303.3 L643.1 302.0 L644.2 300.7 L645.3 299.5 L646.4 298.3 L647.5 297.2 L648.6 296.2 L649.7 295.3 L650.8 294.4 L651.9 293.6 L653.0 292.8 L654.1 292.0 L655.2 291.2 L656.3 290.4 L657.4 289.5 L658.5 288.5 L659.6 287.6 L660.7 286.8 L661.8 286.3 L662.9 286.3 L664.0 286.5 L665.1 286.7 L666.2 287.0 L667.3 287.5 L668.4 287.9 L669.5 288.5 L670.6 289.1 L671.7 289.7 L672.8 290.4 L673.9 291.1 L675.0 291.9 L676.1 292.9 L677.2 294.0 L678.3 295.4 L679.4 296.9 L680.5 298.6 L681.6 300.3 L682.7 302.1 L683.8 304.0 L684.9 305.9 L686.0 307.7 L687.1 309.6 L688.2 311.4 L689.3 313.2 L690.4 315.0 L691.5 316.9 L692.6 318.7 L693.7 320.6 L694.8 322.5 L695.9 324.4 L697.0 326.4 L698.1 328.3 L699.2 330.3 L700.3 332.3 L701.4 334.3 L702.5 336.4 L703.6 338.4 L704.7 340.5 L705.8 342.5 L706.9 344.6 L708.0 346.8 L709.1 348.9 L710.2 351.1 L711.3 353.3 L712.4 355.5 L713.5 357.7 L714.6 360.0 L715.7 362.2 L716.8 364.5 L717.9 366.7 L719.0 368.9 L720.1 371.2 L721.2 373.4 L722.3 375.6 L723.4 377.7 L724.5 379.9 L725.6 382.1 L726.7 384.3 L727.8 386.5 L729.0 388.7 L730.1 391.0 L731.2 393.2 L732.3 395.5 L733.4 397.7 L734.5 399.9 L735.6 402.1 L736.7 404.2 L737.8 406.3 L738.9 408.3 L740.0 410.3 L741.1 412.2 L742.2 414.0 L743.3 415.8 L744.4 417.6 L745.5 419.4 L746.6 421.1 L747.7 422.8 L748.8 424.5 L749.9 426.1 L751.0 427.8 L752.1 429.4 L753.2 431.0 L754.3 432.7 L755.4 434.3 L756.5 435.9 L757.6 437.5 L758.7 439.1 L759.8 440.6 L760.9 442.2 L762.0 443.7 L763.1 445.2 L764.2 446.6 L765.3 448.0 L766.4 449.3 L767.5 450.7 L768.6 451.9 L769.7 453.1 L770.8 454.3 L771.9 455.4 L773.0 456.4 L774.1 457.4 L775.2 458.3 L776.3 459.2 L777.4 460.1 L778.5 460.9 L779.6 461.8 L780.7 462.6 L781.8 463.4 L782.9 464.2 L784.0 465.0 L785.1 465.7 L786.2 466.4 L787.3 467.1 L788.4 467.8 L789.5 468.5 L790.6 469.1 L791.7 469.8 L792.8 470.4 L793.9 470.9 L795.0 471.5 L796.1 472.0 L797.2 472.5" stroke="#ff3030"/><path d="M522.0 464.0 L523.1 462.9 L524.2 463.9 L525.3 450.6 L526.4 461.4 L527.5 462.0 L528.6 448.5 L529.7 446.4 L530.8 451.7 L531.9 462.7 L533.0 454.7 L534.1 446.4 L535.2 448.5 L536.3 438.8 L537.4 453.4 L538.5 441.1 L539.6 446.6 L540.7 435.4 L541.8 441.1 L542.9 434.4 L544.0 441.1 L545.1 443.2 L546.2 440.4 L547.3 436.6 L548.4 437.0 L549.5 426.0 L550.6 424.0 L551.7 426.9 L552.8 430.5 L553.9 425.1 L555.0 425.5 L556.1 415.8 L557.2 418.4 L558.3 416.2 L559.4 417.9 L560.5 421.8 L561.6 416.1 L562.7 415.7 L563.8 409.6 L564.9 409.1 L566.0 410.3 L567.1 407.7 L568.2 401.0 L569.3 406.5 L570.4 404.9 L571.5 401.8 L572.6 401.5 L573.7 399.5 L574.8 395.9 L575.9 391.9 L577.0 397.9 L578.1 392.8 L579.2 391.2 L580.3 390.0 L581.4 388.7 L582.5 387.4 L583.6 383.8 L584.7 384.6 L585.8 382.6 L586.9 380.9 L588.0 379.3 L589.1 378.1 L590.2 375.3 L591.4 375.0 L592.5 373.3 L593.6 372.0 L594.7 371.3 L595.8 369.6 L596.9 368.2 L598.0 365.7 L599.1 364.7 L600.2 363.2 L601.3 360.9 L602.4 359.2 L603.5 358.5 L604.6 355.6 L605.7 354.6 L606.8 353.0 L607.9 351.1 L609.0 349.7 L610.1 348.2 L611.2 346.4 L612.3 345.0 L613.4 343.4 L614.5 341.9 L615.6 340.4 L616.7 338.9 L617.8 337.5 L618.9 336.0 L620.0 334.6 L621.1 333.2 L622.2 331.8 L623.3 330.3 L624.4 328.8 L625.5 327.3 L626.6 325.8 L627.7 324.2 L628.8 322.6 L629.9 320.9 L631.0 319.1 L632.1 317.4 L633.2 315.6 L634.3 313.9 L635.4 312.2 L636.5 310.5 L637.6 308.9 L638.7 307.4 L639.8 306.0 L640.9 304.6 L642.0 303.2 L643.1 301.8 L644.2 300.4 L645.3 299.1 L646.4 297.8 L647.5 296.5 L648.6 295.4 L649.7 294.3 L650.8 293.2 L651.9 292.3 L653.0 291.4 L654.1 290.6 L655.2 289.8 L656.3 289.1 L657.4 288.3 L658.5 287.6 L659.6 286.8 L660.7 286.0 L661.8 285.0 L662.9 284.2 L664.0 283.7 L665.1 283.5 L666.2 283.6 L667.3 283.8 L668.4 284.1 L669.5 284.4 L670.6 284.9 L671.7 285.4 L672.8 285.9 L673.9 286.5 L675.0 287.1 L676.1 287.8 L677.2 288.5 L678.3 289.4 L679.4 290.5 L680.5 291.7 L681.6 293.1 L682.7 294.7 L683.8 296.3 L684.9 298.1 L686.0 299.8 L687.1 301.6 L688.2 303.4 L689.3 305.2 L690.4 307.0 L691.5 308.8 L692.6 310.5 L693.7 312.3 L694.8 314.1 L695.9 315.9 L697.0 317.7 L698.1 319.6 L699.2 321.5 L700.3 323.4 L701.4 325.3 L702.5 327.3 L703.6 329.3 L704.7 331.2 L705.8 333.2 L706.9 335.3 L708.0 337.3 L709.1 339.4 L710.2 341.5 L711.3 343.6 L712.4 345.7 L713.5 347.9 L714.6 350.1 L715.7 352.3 L716.8 354.5 L717.9 356.7 L719.0 358.9 L720.1 361.2 L721.2 363.4 L722.3 365.6 L723.4 367.8 L724.5 370.0 L725.6 372.2 L726.7 374.3 L727.8 376.5 L729.0 378.7 L730.1 380.9 L731.2 383.1 L732.3 385.4 L733.4 387.6 L734.5 389.9 L735.6 392.2 L736.7 394.4 L737.8 396.6 L738.9 398.8 L740.0 401.0 L741.1 403.1 L742.2 405.1 L743.3 407.1 L744.4 409.1 L745.5 411.0 L746.6 412.8 L747.7 414.7 L748.8 416.5 L749.9 418.3 L751.0 420.1 L752.1 421.8 L753.2 423.5 L754.3 425.2 L755.4 426.9 L756.5 428.7 L757.6 430.4 L758.7 432.1 L759.8 433.8 L760.9 435.4 L762.0 437.1 L763.1 438.7 L764.2 440.3 L765.3 441.9 L766.4 443.5 L767.5 445.0 L768.6 446.4 L769.7 447.8 L770.8 449.2 L771.9 450.5 L773.0 451.8 L774.1 453.0 L775.2 454.1 L776.3 455.1 L777.4 456.1 L778.5 457.1 L779.6 458.0 L780.7 459.0 L781.8 459.9 L782.9 460.7 L784.0 461.6 L785.1 462.4 L786.2 463.3 L787.3 464.1 L788.4 464.9 L789.5 465.6 L790.6 466.4 L791.7 467.1 L792.8 467.8 L793.9 468.4 L795.0 469.1 L796.1 469.7 L797.2 470.3" stroke="#ff7f0e"/><path d="M522.0 468.2 L523.1 470.9 L524.2 458.2 L525.3 471.8 L526.4 462.7 L527.5 447.2 L528.6 457.9 L529.7 454.1 L530.8 456.5 L531.9 461.3 L533.0 453.3 L534.1 449.5 L535.2 456.2 L536.3 447.3 L537.4 441.2 L538.5 440.9 L539.6 453.4 L540.7 448.8 L541.8 450.6 L542.9 436.0 L544.0 436.9 L545.1 435.2 L546.2 441.1 L547.3 440.9 L548.4 434.0 L549.5 432.5 L550.6 435.1 L551.7 429.5 L552.8 426.1 L553.9 426.2 L555.0 429.4 L556.1 431.6 L557.2 423.0 L558.3 419.7 L559.4 419.6 L560.5 418.5 L561.6 417.8 L562.7 411.8 L563.8 412.7 L564.9 410.8 L566.0 412.5 L567.1 410.0 L568.2 406.4 L569.3 408.1 L570.4 407.3 L571.5 403.5 L572.6 398.4 L573.7 399.5 L574.8 395.3 L575.9 397.4 L577.0 396.3 L578.1 397.0 L579.2 393.9 L580.3 388.7 L581.4 389.3 L582.5 387.2 L583.6 385.8 L584.7 385.5 L585.8 384.3 L586.9 382.3 L588.0 380.1 L589.1 378.9 L590.2 377.4 L591.4 376.3 L592.5 375.7 L593.6 373.7 L594.7 372.7 L595.8 369.6 L596.9 370.4 L598.0 367.4 L599.1 364.2 L600.2 364.3 L601.3 363.0 L602.4 360.8 L603.5 358.7 L604.6 357.6 L605.7 355.7 L606.8 354.2 L607.9 352.6 L609.0 350.4 L610.1 349.2 L611.2 347.6 L612.3 345.9 L613.4 344.3 L614.5 342.7 L615.6 341.1 L616.7 339.5 L617.8 338.0 L618.9 336.5 L620.0 335.0 L621.1 333.6 L622.2 332.2 L623.3 330.7 L624.4 329.3 L625.5 327.8 L626.6 326.4 L627.7 324.9 L628.8 323.3 L629.9 321.7 L631.0 320.1 L632.1 318.4 L633.2 316.6 L634.3 314.8 L635.4 313.0 L636.5 311.2 L637.6 309.5 L638.7 307.7 L639.8 306.1 L640.9 304.5 L642.0 303.0 L643.1 301.6 L644.2 300.2 L645.3 298.8 L646.4 297.4 L647.5 296.1 L648.6 294.8 L649.7 293.5 L650.8 292.3 L651.9 291.1 L653.0 290.1 L654.1 289.1 L655.2 288.2 L656.3 287.4 L657.4 286.7 L658.5 286.0 L659.6 285.3 L660.7 284.6 L661.8 283.9 L662.9 283.1 L664.0 282.3 L665.1 281.5 L666.2 280.9 L667.3 280.6 L668.4 280.6 L669.5 280.7 L670.6 281.0 L671.7 281.3 L672.8 281.7 L673.9 282.1 L675.0 282.7 L676.1 283.2 L677.2 283.8 L678.3 284.4 L679.4 285.1 L680.5 285.9 L681.6 286.8 L682.7 288.0 L683.8 289.3 L684.9 290.7 L686.0 292.3 L687.1 293.9 L688.2 295.6 L689.3 297.3 L690.4 299.0 L691.5 300.7 L692.6 302.5 L693.7 304.2 L694.8 305.9 L695.9 307.6 L697.0 309.3 L698.1 311.1 L699.2 312.9 L700.3 314.7 L701.4 316.5 L702.5 318.4 L703.6 320.3 L704.7 322.2 L705.8 324.1 L706.9 326.0 L708.0 328.0 L709.1 330.0 L710.2 332.0 L711.3 334.0 L712.4 336.0 L713.5 338.1 L714.6 340.2 L715.7 342.3 L716.8 344.5 L717.9 346.7 L719.0 348.9 L720.1 351.0 L721.2 353.3 L722.3 355.5 L723.4 357.7 L724.5 359.9 L725.6 362.1 L726.7 364.3 L727.8 366.5 L729.0 368.6 L730.1 370.8 L731.2 373.0 L732.3 375.2 L733.4 377.4 L734.5 379.7 L735.6 381.9 L736.7 384.2 L737.8 386.5 L738.9 388.8 L740.0 391.0 L741.1 393.3 L742.2 395.5 L743.3 397.6 L744.4 399.8 L745.5 401.9 L746.6 403.9 L747.7 405.9 L748.8 407.9 L749.9 409.8 L751.0 411.7 L752.1 413.6 L753.2 415.5 L754.3 417.3 L755.4 419.1 L756.5 420.9 L757.6 422.7 L758.7 424.5 L759.8 426.3 L760.9 428.1 L762.0 429.8 L763.1 431.6 L764.2 433.4 L765.3 435.1 L766.4 436.8 L767.5 438.5 L768.6 440.2 L769.7 441.8 L770.8 443.4 L771.9 444.9 L773.0 446.3 L774.1 447.8 L775.2 449.1 L776.3 450.4 L777.4 451.6 L778.5 452.8 L779.6 453.9 L780.7 454.9 L781.8 455.9 L782.9 456.9 L784.0 457.8 L785.1 458.8 L786.2 459.7 L787.3 460.6 L788.4 461.5 L789.5 462.4 L790.6 463.2 L791.7 464.0 L792.8 464.8 L793.9 465.6 L795.0 466.3 L796.1 467.0 L797.2 467.7" stroke="#a866ff"/><path d="M522.0 476.1 L523.1 469.5 L524.2 469.0 L525.3 466.8 L526.4 470.0 L527.5 458.8 L528.6 458.8 L529.7 456.7 L530.8 460.7 L531.9 448.8 L533.0 454.0 L534.1 469.2 L535.2 456.0 L536.3 451.4 L537.4 444.6 L538.5 450.0 L539.6 448.4 L540.7 449.1 L541.8 441.1 L542.9 445.2 L544.0 444.6 L545.1 443.8 L546.2 436.4 L547.3 439.9 L548.4 443.5 L549.5 432.1 L550.6 436.2 L551.7 430.4 L552.8 429.0 L553.9 424.3 L555.0 423.6 L556.1 428.2 L557.2 425.0 L558.3 427.3 L559.4 415.3 L560.5 417.9 L561.6 413.2 L562.7 417.1 L563.8 420.9 L564.9 408.4 L566.0 411.3 L567.1 409.7 L568.2 408.4 L569.3 405.4 L570.4 404.3 L571.5 408.2 L572.6 400.2 L573.7 402.6 L574.8 401.0 L575.9 394.9 L577.0 395.3 L578.1 396.4 L579.2 397.8 L580.3 392.6 L581.4 390.5 L582.5 390.1 L583.6 390.4 L584.7 388.2 L585.8 387.3 L586.9 383.7 L588.0 381.4 L589.1 379.7 L590.2 380.3 L591.4 377.7 L592.5 375.8 L593.6 375.4 L594.7 373.5 L595.8 370.1 L596.9 370.1 L598.0 368.1 L599.1 367.4 L600.2 365.5 L601.3 364.8 L602.4 362.3 L603.5 360.2 L604.6 358.2 L605.7 356.9 L606.8 355.4 L607.9 353.9 L609.0 352.3 L610.1 350.5 L611.2 348.7 L612.3 347.1 L613.4 345.3 L614.5 343.7 L615.6 342.0 L616.7 340.3 L617.8 338.7 L618.9 337.1 L620.0 335.5 L621.1 334.0 L622.2 332.5 L623.3 331.0 L624.4 329.6 L625.5 328.1 L626.6 326.7 L627.7 325.2 L628.8 323.8 L629.9 322.3 L631.0 320.7 L632.1 319.2 L633.2 317.5 L634.3 315.8 L635.4 314.0 L636.5 312.2 L637.6 310.3 L638.7 308.5 L639.8 306.7 L640.9 304.9 L642.0 303.2 L643.1 301.5 L644.2 300.0 L645.3 298.5 L646.4 297.1 L647.5 295.7 L648.6 294.3 L649.7 292.9 L650.8 291.6 L651.9 290.3 L653.0 289.1 L654.1 287.9 L655.2 286.8 L656.3 285.8 L657.4 284.9 L658.5 284.1 L659.6 283.4 L660.7 282.7 L661.8 282.1 L662.9 281.4 L664.0 280.7 L665.1 280.1 L666.2 279.4 L667.3 278.7 L668.4 278.1 L669.5 277.7 L670.6 277.6 L671.7 277.6 L672.8 277.8 L673.9 278.1 L675.0 278.4 L676.1 278.8 L677.2 279.3 L678.3 279.8 L679.4 280.4 L680.5 281.0 L681.6 281.6 L682.7 282.3 L683.8 283.2 L684.9 284.2 L686.0 285.4 L687.1 286.7 L688.2 288.2 L689.3 289.7 L690.4 291.3 L691.5 292.9 L692.6 294.6 L693.7 296.2 L694.8 297.9 L695.9 299.5 L697.0 301.2 L698.1 302.8 L699.2 304.5 L700.3 306.2 L701.4 307.9 L702.5 309.7 L703.6 311.5 L704.7 313.3 L705.8 315.1 L706.9 316.9 L708.0 318.8 L709.1 320.7 L710.2 322.6 L711.3 324.5 L712.4 326.5 L713.5 328.5 L714.6 330.5 L715.7 332.5 L716.8 334.6 L717.9 336.7 L719.0 338.8 L720.1 340.9 L721.2 343.1 L722.3 345.3 L723.4 347.4 L724.5 349.6 L725.6 351.8 L726.7 354.0 L727.8 356.2 L729.0 358.4 L730.1 360.6 L731.2 362.8 L732.3 364.9 L733.4 367.1 L734.5 369.3 L735.6 371.5 L736.7 373.8 L737.8 376.0 L738.9 378.3 L740.0 380.6 L741.1 382.9 L742.2 385.2 L743.3 387.5 L744.4 389.8 L745.5 392.0 L746.6 394.2 L747.7 396.4 L748.8 398.5 L749.9 400.6 L751.0 402.7 L752.1 404.7 L753.2 406.7 L754.3 408.7 L755.4 410.6 L756.5 412.6 L757.6 414.4 L758.7 416.3 L759.8 418.2 L760.9 420.1 L762.0 422.0 L763.1 423.8 L764.2 425.7 L765.3 427.6 L766.4 429.5 L767.5 431.3 L768.6 433.1 L769.7 434.9 L770.8 436.7 L771.9 438.4 L773.0 440.1 L774.1 441.7 L775.2 443.3 L776.3 444.8 L777.4 446.3 L778.5 447.7 L779.6 449.0 L780.7 450.3 L781.8 451.5 L782.9 452.6 L784.0 453.6 L785.1 454.7 L786.2 455.7 L787.3 456.7 L788.4 457.7 L789.5 458.7 L790.6 459.6 L791.7 460.5 L792.8 461.4 L793.9 462.3 L795.0 463.1 L796.1 464.0 L797.2 464.8" stroke="#333333"/><path d="M522.0 475.9 L523.1 472.0 L524.2 468.5 L525.3 465.3 L526.4 475.6 L527.5 473.6 L528.6 464.3 L529.7 458.2 L530.8 457.6 L531.9 453.2 L533.0 449.6 L534.1 453.0 L535.2 454.5 L536.3 458.7 L537.4 456.8 L538.5 452.9 L539.6 447.7 L540.7 446.6 L541.8 446.3 L542.9 445.7 L544.0 440.6 L545.1 441.2 L546.2 439.4 L547.3 438.0 L548.4 440.4 L549.5 441.0 L550.6 433.1 L551.7 432.0 L552.8 433.2 L553.9 432.4 L555.0 420.7 L556.1 430.7 L557.2 427.2 L558.3 424.0 L559.4 427.3 L560.5 421.3 L561.6 414.2 L562.7 415.5 L563.8 414.8 L564.9 413.4 L566.0 413.2 L567.1 409.3 L568.2 410.9 L569.3 410.1 L570.4 407.2 L571.5 403.7 L572.6 403.7 L573.7 401.4 L574.8 406.1 L575.9 397.5 L577.0 393.8 L578.1 394.5 L579.2 396.3 L580.3 395.8 L581.4 392.4 L582.5 393.0 L583.6 388.8 L584.7 389.2 L585.8 385.6 L586.9 383.6 L588.0 386.6 L589.1 382.1 L590.2 381.7 L591.4 381.0 L592.5 378.5 L593.6 376.6 L594.7 373.9 L595.8 374.5 L596.9 370.9 L598.0 368.8 L599.1 368.2 L600.2 366.7 L601.3 365.4 L602.4 364.3 L603.5 361.9 L604.6 360.3 L605.7 358.6 L606.8 356.4 L607.9 355.2 L609.0 353.5 L610.1 351.7 L611.2 350.2 L612.3 348.4 L613.4 346.6 L614.5 344.8 L615.6 343.1 L616.7 341.3 L617.8 339.6 L618.9 337.9 L620.0 336.3 L621.1 334.6 L622.2 333.0 L623.3 331.4 L624.4 329.9 L625.5 328.4 L626.6 326.9 L627.7 325.5 L628.8 324.0 L629.9 322.6 L631.0 321.1 L632.1 319.6 L633.2 318.0 L634.3 316.5 L635.4 314.8 L636.5 313.1 L637.6 311.3 L638.7 309.5 L639.8 307.6 L640.9 305.7 L642.0 303.8 L643.1 301.9 L644.2 300.1 L645.3 298.4 L646.4 296.8 L647.5 295.3 L648.6 293.9 L649.7 292.5 L650.8 291.1 L651.9 289.7 L653.0 288.3 L654.1 287.0 L655.2 285.8 L656.3 284.6 L657.4 283.5 L658.5 282.4 L659.6 281.5 L660.7 280.7 L661.8 279.9 L662.9 279.3 L664.0 278.7 L665.1 278.1 L666.2 277.4 L667.3 276.9 L668.4 276.3 L669.5 275.6 L670.6 275.1 L671.7 274.6 L672.8 274.4 L673.9 274.4 L675.0 274.6 L676.1 274.8 L677.2 275.1 L678.3 275.5 L679.4 275.9 L680.5 276.4 L681.6 276.9 L682.7 277.5 L683.8 278.0 L684.9 278.7 L686.0 279.4 L687.1 280.4 L688.2 281.5 L689.3 282.7 L690.4 284.0 L691.5 285.5 L692.6 287.0 L693.7 288.5 L694.8 290.1 L695.9 291.7 L697.0 293.2 L698.1 294.8 L699.2 296.4 L700.3 298.0 L701.4 299.6 L702.5 301.2 L703.6 302.9 L704.7 304.6 L705.8 306.3 L706.9 308.1 L708.0 309.8 L709.1 311.6 L710.2 313.4 L711.3 315.3 L712.4 317.1 L713.5 319.0 L714.6 320.9 L715.7 322.9 L716.8 324.9 L717.9 326.8 L719.0 328.9 L720.1 330.9 L721.2 333.0 L722.3 335.1 L723.4 337.2 L724.5 339.4 L725.6 341.5 L726.7 343.7 L727.8 345.9 L729.0 348.0 L730.1 350.2 L731.2 352.4 L732.3 354.6 L733.4 356.8 L734.5 358.9 L735.6 361.1 L736.7 363.3 L737.8 365.5 L738.9 367.7 L740.0 370.0 L741.1 372.3 L742.2 374.6 L743.3 376.9 L744.4 379.2 L745.5 381.6 L746.6 383.9 L747.7 386.2 L748.8 388.4 L749.9 390.7 L751.0 392.9 L752.1 395.1 L753.2 397.3 L754.3 399.4 L755.4 401.5 L756.5 403.6 L757.6 405.6 L758.7 407.6 L759.8 409.6 L760.9 411.6 L762.0 413.5 L763.1 415.5 L764.2 417.5 L765.3 419.4 L766.4 421.4 L767.5 423.4 L768.6 425.4 L769.7 427.3 L770.8 429.3 L771.9 431.2 L773.0 433.0 L774.1 434.9 L775.2 436.7 L776.3 438.4 L777.4 440.1 L778.5 441.8 L779.6 443.3 L780.7 444.9 L781.8 446.3 L782.9 447.7 L784.0 448.9 L785.1 450.1 L786.2 451.3 L787.3 452.4 L788.4 453.5 L789.5 454.6 L790.6 455.6 L791.7 456.6 L792.8 457.6 L793.9 458.6 L795.0 459.6 L796.1 460.5 L797.2 461.4" stroke="#9a9a10"/><path d="M522.0 479.5 L523.1 468.3 L524.2 466.6 L525.3 469.8 L526.4 467.5 L527.5 458.4 L528.6 459.6 L529.7 472.1 L530.8 462.2 L531.9 460.2 L533.0 455.3 L534.1 459.3 L535.2 460.3 L536.3 457.8 L537.4 463.5 L538.5 452.7 L539.6 454.3 L540.7 447.5 L541.8 453.5 L542.9 449.2 L544.0 450.3 L545.1 449.3 L546.2 439.7 L547.3 443.5 L548.4 438.1 L549.5 443.4 L550.6 436.8 L551.7 442.7 L552.8 436.2 L553.9 434.8 L555.0 429.1 L556.1 429.2 L557.2 429.0 L558.3 423.9 L559.4 424.8 L560.5 422.1 L561.6 419.8 L562.7 421.0 L563.8 420.0 L564.9 416.5 L566.0 417.1 L567.1 413.1 L568.2 409.6 L569.3 408.8 L570.4 410.5 L571.5 411.1 L572.6 406.5 L573.7 405.2 L574.8 400.9 L575.9 402.7 L577.0 400.8 L578.1 397.4 L579.2 398.3 L580.3 396.1 L581.4 391.4 L582.5 390.4 L583.6 390.4 L584.7 389.5 L585.8 389.8 L586.9 386.2 L588.0 385.4 L589.1 383.7 L590.2 383.0 L591.4 380.9 L592.5 379.6 L593.6 377.6 L594.7 375.1 L595.8 374.5 L596.9 374.5 L598.0 372.3 L599.1 371.1 L600.2 368.9 L601.3 366.6 L602.4 365.1 L603.5 363.9 L604.6 361.9 L605.7 360.5 L606.8 359.0 L607.9 357.1 L609.0 355.2 L610.1 353.2 L611.2 351.6 L612.3 349.7 L613.4 347.9 L614.5 346.1 L615.6 344.3 L616.7 342.5 L617.8 340.7 L618.9 339.0 L620.0 337.2 L621.1 335.5 L622.2 333.7 L623.3 332.0 L624.4 330.4 L625.5 328.8 L626.6 327.2 L627.7 325.7 L628.8 324.2 L629.9 322.7 L631.0 321.2 L632.1 319.8 L633.2 318.3 L634.3 316.8 L635.4 315.3 L636.5 313.7 L637.6 312.1 L638.7 310.4 L639.8 308.6 L640.9 306.7 L642.0 304.8 L643.1 302.8 L644.2 300.9 L645.3 298.9 L646.4 297.1 L647.5 295.3 L648.6 293.6 L649.7 292.0 L650.8 290.6 L651.9 289.1 L653.0 287.7 L654.1 286.3 L655.2 284.9 L656.3 283.6 L657.4 282.3 L658.5 281.1 L659.6 280.0 L660.7 278.9 L661.8 278.0 L662.9 277.1 L664.0 276.4 L665.1 275.7 L666.2 275.1 L667.3 274.6 L668.4 274.0 L669.5 273.4 L670.6 272.9 L671.7 272.4 L672.8 271.9 L673.9 271.5 L675.0 271.2 L676.1 271.2 L677.2 271.3 L678.3 271.4 L679.4 271.7 L680.5 272.0 L681.6 272.4 L682.7 272.9 L683.8 273.3 L684.9 273.9 L686.0 274.4 L687.1 275.0 L688.2 275.7 L689.3 276.5 L690.4 277.5 L691.5 278.6 L692.6 279.9 L693.7 281.2 L694.8 282.6 L695.9 284.1 L697.0 285.6 L698.1 287.1 L699.2 288.5 L700.3 290.0 L701.4 291.5 L702.5 293.0 L703.6 294.6 L704.7 296.2 L705.8 297.8 L706.9 299.4 L708.0 301.1 L709.1 302.8 L710.2 304.5 L711.3 306.2 L712.4 308.0 L713.5 309.8 L714.6 311.6 L715.7 313.4 L716.8 315.3 L717.9 317.2 L719.0 319.1 L720.1 321.0 L721.2 323.0 L722.3 325.0 L723.4 327.1 L724.5 329.1 L725.6 331.2 L726.7 333.3 L727.8 335.4 L729.0 337.6 L730.1 339.7 L731.2 341.9 L732.3 344.1 L733.4 346.2 L734.5 348.4 L735.6 350.6 L736.7 352.8 L737.8 354.9 L738.9 357.1 L740.0 359.3 L741.1 361.5 L742.2 363.8 L743.3 366.1 L744.4 368.4 L745.5 370.7 L746.6 373.1 L747.7 375.4 L748.8 377.8 L749.9 380.1 L751.0 382.5 L752.1 384.8 L753.2 387.1 L754.3 389.4 L755.4 391.6 L756.5 393.8 L757.6 396.1 L758.7 398.2 L759.8 400.4 L760.9 402.5 L762.0 404.6 L763.1 406.6 L764.2 408.7 L765.3 410.7 L766.4 412.8 L767.5 414.8 L768.6 416.9 L769.7 419.0 L770.8 421.1 L771.9 423.1 L773.0 425.2 L774.1 427.2 L775.2 429.2 L776.3 431.1 L777.4 433.1 L778.5 434.9 L779.6 436.8 L780.7 438.5 L781.8 440.2 L782.9 441.8 L784.0 443.4 L785.1 444.9 L786.2 446.3 L787.3 447.6 L788.4 448.8 L789.5 450.0 L790.6 451.2 L791.7 452.3 L792.8 453.4 L793.9 454.5 L795.0 455.6 L796.1 456.6 L797.2 457.6" stroke="#333333"/><path d="M522.0 476.9 L523.1 457.6 L524.2 470.0 L525.3 469.9 L526.4 481.6 L527.5 459.5 L528.6 470.0 L529.7 467.4 L530.8 478.2 L531.9 458.1 L533.0 456.3 L534.1 464.0 L535.2 458.6 L536.3 455.6 L537.4 451.2 L538.5 454.4 L539.6 444.6 L540.7 453.3 L541.8 453.7 L542.9 451.5 L544.0 459.9 L545.1 450.2 L546.2 440.4 L547.3 442.3 L548.4 445.7 L549.5 439.2 L550.6 447.7 L551.7 438.9 L552.8 434.2 L553.9 432.1 L555.0 436.3 L556.1 428.4 L557.2 423.6 L558.3 430.3 L559.4 424.8 L560.5 431.0 L561.6 430.7 L562.7 420.8 L563.8 421.0 L564.9 419.0 L566.0 419.7 L567.1 417.2 L568.2 412.5 L569.3 408.6 L570.4 412.1 L571.5 414.0 L572.6 405.3 L573.7 405.4 L574.8 403.7 L575.9 403.3 L577.0 397.3 L578.1 400.4 L579.2 398.0 L580.3 400.9 L581.4 397.0 L582.5 395.6 L583.6 392.9 L584.7 390.9 L585.8 391.0 L586.9 386.0 L588.0 388.2 L589.1 385.9 L590.2 383.6 L591.4 383.7 L592.5 380.2 L593.6 378.7 L594.7 378.0 L595.8 374.6 L596.9 374.6 L598.0 372.9 L599.1 372.1 L600.2 370.9 L601.3 368.7 L602.4 366.9 L603.5 365.3 L604.6 363.2 L605.7 362.5 L606.8 360.4 L607.9 358.8 L609.0 356.5 L610.1 355.0 L611.2 353.2 L612.3 351.4 L613.4 349.5 L614.5 347.6 L615.6 345.8 L616.7 343.9 L617.8 342.1 L618.9 340.2 L620.0 338.4 L621.1 336.5 L622.2 334.7 L623.3 332.9 L624.4 331.2 L625.5 329.4 L626.6 327.7 L627.7 326.1 L628.8 324.4 L629.9 322.9 L631.0 321.4 L632.1 319.9 L633.2 318.4 L634.3 316.9 L635.4 315.4 L636.5 313.9 L637.6 312.4 L638.7 310.8 L639.8 309.2 L640.9 307.5 L642.0 305.7 L643.1 303.8 L644.2 301.9 L645.3 299.9 L646.4 297.9 L647.5 295.9 L648.6 293.9 L649.7 292.1 L650.8 290.3 L651.9 288.6 L653.0 287.1 L654.1 285.7 L655.2 284.2 L656.3 282.8 L657.4 281.4 L658.5 280.1 L659.6 278.8 L660.7 277.5 L661.8 276.4 L662.9 275.3 L664.0 274.3 L665.1 273.4 L666.2 272.6 L667.3 272.0 L668.4 271.4 L669.5 270.9 L670.6 270.4 L671.7 269.9 L672.8 269.4 L673.9 269.0 L675.0 268.6 L676.1 268.2 L677.2 268.0 L678.3 267.9 L679.4 267.9 L680.5 268.0 L681.6 268.2 L682.7 268.5 L683.8 268.9 L684.9 269.3 L686.0 269.7 L687.1 270.2 L688.2 270.7 L689.3 271.2 L690.4 271.8 L691.5 272.6 L692.6 273.5 L693.7 274.5 L694.8 275.7 L695.9 276.9 L697.0 278.3 L698.1 279.6 L699.2 281.0 L700.3 282.4 L701.4 283.8 L702.5 285.2 L703.6 286.6 L704.7 288.1 L705.8 289.5 L706.9 291.0 L708.0 292.6 L709.1 294.2 L710.2 295.8 L711.3 297.4 L712.4 299.0 L713.5 300.7 L714.6 302.4 L715.7 304.2 L716.8 305.9 L717.9 307.7 L719.0 309.5 L720.1 311.3 L721.2 313.2 L722.3 315.1 L723.4 317.1 L724.5 319.0 L725.6 321.0 L726.7 323.1 L727.8 325.1 L729.0 327.2 L730.1 329.3 L731.2 331.4 L732.3 333.5 L733.4 335.6 L734.5 337.8 L735.6 339.9 L736.7 342.1 L737.8 344.3 L738.9 346.4 L740.0 348.6 L741.1 350.8 L742.2 353.0 L743.3 355.2 L744.4 357.4 L745.5 359.7 L746.6 362.1 L747.7 364.4 L748.8 366.8 L749.9 369.1 L751.0 371.5 L752.1 373.9 L753.2 376.3 L754.3 378.7 L755.4 381.1 L756.5 383.4 L757.6 385.8 L758.7 388.1 L759.8 390.4 L760.9 392.7 L762.0 394.9 L763.1 397.1 L764.2 399.3 L765.3 401.5 L766.4 403.6 L767.5 405.7 L768.6 407.9 L769.7 410.0 L770.8 412.2 L771.9 414.4 L773.0 416.6 L774.1 418.7 L775.2 420.9 L776.3 423.0 L777.4 425.1 L778.5 427.2 L779.6 429.3 L780.7 431.3 L781.8 433.2 L782.9 435.1 L784.0 436.9 L785.1 438.7 L786.2 440.3 L787.3 441.9 L788.4 443.5 L789.5 444.9 L790.6 446.2 L791.7 447.5 L792.8 448.7 L793.9 449.9 L795.0 451.1 L796.1 452.3 L797.2 453.4" stroke="#9a9a10"/><path d="M522.0 460.5 L523.1 487.4 L524.2 467.3 L525.3 470.2 L526.4 476.4 L527.5 471.8 L528.6 472.8 L529.7 468.2 L530.8 461.3 L531.9 475.1 L533.0 457.1 L534.1 465.3 L535.2 453.2 L536.3 457.8 L537.4 452.0 L538.5 454.1 L539.6 450.1 L540.7 453.9 L541.8 456.9 L542.9 448.0 L544.0 446.5 L545.1 438.6 L546.2 456.1 L547.3 446.4 L548.4 439.4 L549.5 448.0 L550.6 442.1 L551.7 430.9 L552.8 432.5 L553.9 440.1 L555.0 429.7 L556.1 429.3 L557.2 429.4 L558.3 429.3 L559.4 428.3 L560.5 430.5 L561.6 427.7 L562.7 422.2 L563.8 422.5 L564.9 415.8 L566.0 420.8 L567.1 425.0 L568.2 417.6 L569.3 414.3 L570.4 412.5 L571.5 411.7 L572.6 412.3 L573.7 405.3 L574.8 408.6 L575.9 404.0 L577.0 404.5 L578.1 404.7 L579.2 398.1 L580.3 403.8 L581.4 399.1 L582.5 395.3 L583.6 395.0 L584.7 391.8 L585.8 391.5 L586.9 390.4 L588.0 385.4 L589.1 387.0 L590.2 385.4 L591.4 384.8 L592.5 382.9 L593.6 380.0 L594.7 378.6 L595.8 377.5 L596.9 376.5 L598.0 374.0 L599.1 373.9 L600.2 371.5 L601.3 369.9 L602.4 368.5 L603.5 366.5 L604.6 365.1 L605.7 363.5 L606.8 361.2 L607.9 359.8 L609.0 358.1 L610.1 356.5 L611.2 354.7 L612.3 352.9 L613.4 351.1 L614.5 349.3 L615.6 347.4 L616.7 345.5 L617.8 343.6 L618.9 341.7 L620.0 339.8 L621.1 337.8 L622.2 335.9 L623.3 334.1 L624.4 332.2 L625.5 330.3 L626.6 328.5 L627.7 326.7 L628.8 325.0 L629.9 323.3 L631.0 321.6 L632.1 320.0 L633.2 318.4 L634.3 316.9 L635.4 315.4 L636.5 313.9 L637.6 312.4 L638.7 310.9 L639.8 309.4 L640.9 307.8 L642.0 306.2 L643.1 304.5 L644.2 302.8 L645.3 300.9 L646.4 298.9 L647.5 296.9 L648.6 294.8 L649.7 292.8 L650.8 290.8 L651.9 288.8 L653.0 286.9 L654.1 285.2 L655.2 283.6 L656.3 282.1 L657.4 280.7 L658.5 279.3 L659.6 277.8 L660.7 276.5 L661.8 275.1 L662.9 273.9 L664.0 272.7 L665.1 271.5 L666.2 270.5 L667.3 269.6 L668.4 268.8 L669.5 268.1 L670.6 267.6 L671.7 267.1 L672.8 266.6 L673.9 266.2 L675.0 265.7 L676.1 265.4 L677.2 265.0 L678.3 264.8 L679.4 264.6 L680.5 264.5 L681.6 264.4 L682.7 264.5 L683.8 264.7 L684.9 264.9 L686.0 265.2 L687.1 265.6 L688.2 266.0 L689.3 266.5 L690.4 266.9 L691.5 267.4 L692.6 267.9 L693.7 268.6 L694.8 269.4 L695.9 270.4 L697.0 271.4 L698.1 272.6 L699.2 273.8 L700.3 275.1 L701.4 276.4 L702.5 277.8 L703.6 279.1 L704.7 280.4 L705.8 281.7 L706.9 283.0 L708.0 284.4 L709.1 285.9 L710.2 287.3 L711.3 288.8 L712.4 290.4 L713.5 291.9 L714.6 293.5 L715.7 295.1 L716.8 296.8 L717.9 298.5 L719.0 300.2 L720.1 301.9 L721.2 303.6 L722.3 305.4 L723.4 307.2 L724.5 309.1 L725.6 311.0 L726.7 312.9 L727.8 314.9 L729.0 316.9 L730.1 318.9 L731.2 320.9 L732.3 322.9 L733.4 325.0 L734.5 327.1 L735.6 329.2 L736.7 331.3 L737.8 333.5 L738.9 335.6 L740.0 337.8 L741.1 340.0 L742.2 342.1 L743.3 344.3 L744.4 346.5 L745.5 348.7 L746.6 350.9 L747.7 353.2 L748.8 355.5 L749.9 357.9 L751.0 360.2 L752.1 362.6 L753.2 365.1 L754.3 367.5 L755.4 369.9 L756.5 372.4 L757.6 374.8 L758.7 377.2 L759.8 379.7 L760.9 382.1 L762.0 384.5 L763.1 386.9 L764.2 389.2 L765.3 391.6 L766.4 393.9 L767.5 396.1 L768.6 398.3 L769.7 400.5 L770.8 402.8 L771.9 405.0 L773.0 407.3 L774.1 409.6 L775.2 411.9 L776.3 414.1 L777.4 416.4 L778.5 418.7 L779.6 420.9 L780.7 423.1 L781.8 425.3 L782.9 427.4 L784.0 429.5 L785.1 431.5 L786.2 433.4 L787.3 435.3 L788.4 437.1 L789.5 438.8 L790.6 440.5 L791.7 442.0 L792.8 443.5 L793.9 444.8 L795.0 446.1 L796.1 447.4 L797.2 448.7" stroke="#a866ff"/></g>
<path d="M518.0 472.9H522.0M793.2 472.9H797.2M518.0 420.5H522.0M793.2 420.5H797.2M518.0 368.1H522.0M793.2 368.1H797.2M518.0 315.8H522.0M793.2 315.8H797.2M518.0 263.4H522.0M793.2 263.4H797.2M520.0 446.7H522.0M795.2 446.7H797.2M520.0 394.3H522.0M795.2 394.3H797.2M520.0 342.0H522.0M795.2 342.0H797.2M520.0 289.6H522.0M795.2 289.6H797.2M595.4 486.0V490.0M595.4 250.3V254.3M687.1 486.0V490.0M687.1 250.3V254.3M778.9 486.0V490.0M778.9 250.3V254.3M540.3 486.0V488.0M540.3 250.3V252.3M558.7 486.0V488.0M558.7 250.3V252.3M577.0 486.0V488.0M577.0 250.3V252.3M613.7 486.0V488.0M613.7 250.3V252.3M632.1 486.0V488.0M632.1 250.3V252.3M650.4 486.0V488.0M650.4 250.3V252.3M668.8 486.0V488.0M668.8 250.3V252.3M705.5 486.0V488.0M705.5 250.3V252.3M723.8 486.0V488.0M723.8 250.3V252.3M742.2 486.0V488.0M742.2 250.3V252.3M760.5 486.0V488.0M760.5 250.3V252.3" stroke="#000" stroke-width="1.5" fill="none"/>
<rect x="522.0" y="250.3" width="275.2" height="235.7" fill="none" stroke="#111" stroke-width="1.35"/>
<text transform="translate(515.3,480.5) scale(1,1.035)" font-size="24.5" text-anchor="end">20</text>
<text transform="translate(515.3,428.1) scale(1,1.035)" font-size="24.5" text-anchor="end">40</text>
<text transform="translate(515.3,375.8) scale(1,1.035)" font-size="24.5" text-anchor="end">60</text>
<text transform="translate(515.3,323.4) scale(1,1.035)" font-size="24.5" text-anchor="end">80</text>
<text transform="translate(515.3,271.0) scale(1,1.035)" font-size="24.5" text-anchor="end">100</text>
<text transform="translate(595.4,512.9) scale(1,1.035)" font-size="24.5" text-anchor="middle">50</text>
<text transform="translate(687.1,512.9) scale(1,1.035)" font-size="24.5" text-anchor="middle">100</text>
<text transform="translate(778.9,512.9) scale(1,1.035)" font-size="24.5" text-anchor="middle">150</text>
<text x="659.4" y="540.9" font-size="31" text-anchor="middle">T (K)</text>
<text transform="translate(475,388) rotate(-90)" font-size="34">ε</text>
<text transform="translate(478.8,371.1) rotate(-90) scale(1,1.25)" font-size="37">''</text>
<path d="M666.7 354L711 312.5" stroke="#000" stroke-width="2.2"/>
<path d="M722.5 301L706.3 309.2L714.2 316.8Z" fill="#000"/>
<text x="710.0" y="295.3" font-size="30">10kHz</text>
<text x="611.0" y="384.8" font-size="30.3">1 Hz</text>
<text transform="translate(106.5,513.8) scale(1,1.035)" font-size="40.5" text-anchor="end">0</text>
<text transform="translate(106.5,416.9) scale(1,1.035)" font-size="40.5" text-anchor="end">2</text>
<text transform="translate(106.5,320.1) scale(1,1.035)" font-size="40.5" text-anchor="end">4</text>
<text transform="translate(106.5,223.2) scale(1,1.035)" font-size="40.5" text-anchor="end">6</text>
<text transform="translate(106.5,126.4) scale(1,1.035)" font-size="40.5" text-anchor="end">8</text>
<text transform="translate(106.5,29.5) scale(1,1.035)" font-size="40.5" text-anchor="end">10</text>
<text transform="translate(166.3,598.4) scale(1,1.035)" font-size="40.5" text-anchor="middle">70</text>
<text transform="translate(278.0,598.4) scale(1,1.035)" font-size="40.5" text-anchor="middle">75</text>
<text transform="translate(389.6,598.4) scale(1,1.035)" font-size="40.5" text-anchor="middle">80</text>
<text transform="translate(501.2,598.4) scale(1,1.035)" font-size="40.5" text-anchor="middle">85</text>
<text transform="translate(612.8,598.4) scale(1,1.035)" font-size="40.5" text-anchor="middle">90</text>
<text transform="translate(724.4,598.4) scale(1,1.035)" font-size="40.5" text-anchor="middle">95</text>
<text x="384" y="649.7" font-size="48">T<tspan font-size="32" dy="12">max</tspan><tspan dy="-12"> (K)</tspan></text>
<text transform="translate(34.8,354.6) rotate(-90)" font-size="47">ln(f<tspan font-size="32" dy="12">max</tspan><tspan dy="-12">)</tspan></text>
<text x="3.5" y="36.5" font-size="54">a</text>
<path d="M960.8 550.0H970.8M1632.1 550.0H1642.1M960.8 483.6H970.8M1632.1 483.6H1642.1M960.8 417.1H970.8M1632.1 417.1H1642.1M960.8 350.6H970.8M1632.1 350.6H1642.1M960.8 284.2H970.8M1632.1 284.2H1642.1M960.8 217.8H970.8M1632.1 217.8H1642.1M960.8 151.3H970.8M1632.1 151.3H1642.1M960.8 84.8H970.8M1632.1 84.8H1642.1M960.8 18.4H970.8M1632.1 18.4H1642.1M965.8 516.8H970.8M1637.1 516.8H1642.1M965.8 450.3H970.8M1637.1 450.3H1642.1M965.8 383.9H970.8M1637.1 383.9H1642.1M965.8 317.4H970.8M1637.1 317.4H1642.1M965.8 251.0H970.8M1637.1 251.0H1642.1M965.8 184.5H970.8M1637.1 184.5H1642.1M965.8 118.1H970.8M1637.1 118.1H1642.1M965.8 51.6H970.8M1637.1 51.6H1642.1M1018.8 550.0V560.0M1018.8 18.4V28.4M1114.6 550.0V560.0M1114.6 18.4V28.4M1210.5 550.0V560.0M1210.5 18.4V28.4M1306.4 550.0V560.0M1306.4 18.4V28.4M1402.3 550.0V560.0M1402.3 18.4V28.4M1498.2 550.0V560.0M1498.2 18.4V28.4M1594.2 550.0V560.0M1594.2 18.4V28.4M970.8 550.0V555.0M970.8 18.4V23.4M1066.7 550.0V555.0M1066.7 18.4V23.4M1162.6 550.0V555.0M1162.6 18.4V23.4M1258.5 550.0V555.0M1258.5 18.4V23.4M1354.4 550.0V555.0M1354.4 18.4V23.4M1450.3 550.0V555.0M1450.3 18.4V23.4M1546.2 550.0V555.0M1546.2 18.4V23.4M1642.1 550.0V555.0M1642.1 18.4V23.4" stroke="#000" stroke-width="2" fill="none"/>
<rect x="970.8" y="19.9" width="456.7" height="72.7" fill="#fff" stroke="#7a7a7a" stroke-width="1.4"/>
<path d="M964.8 550.0H1642.1V18.4H970.8V550.5" stroke="#000" stroke-width="2.1" fill="none"/>
<path d="M1411.9 102.1H1459.9M1411.9 97.8V106.4M1459.9 97.8V106.4M1378.4 132.7H1426.3M1378.4 128.4V137.0M1426.3 128.4V137.0M1330.4 163.3H1378.4M1330.4 159.0V167.6M1378.4 159.0V167.6M1306.4 193.8H1354.4M1306.4 189.5V198.1M1354.4 189.5V198.1M1253.2 224.4H1301.2M1253.2 220.1V228.7M1301.2 220.1V228.7M1224.5 255.2H1272.4M1224.5 250.9V259.5M1272.4 250.9V259.5M1196.2 285.9H1244.1M1196.2 281.6V290.2M1244.1 281.6V290.2M1172.2 316.8H1220.1M1172.2 312.5V321.1M1220.1 312.5V321.1M1114.2 347.3H1210.1M1114.2 343.0V351.6M1210.1 343.0V351.6M1066.7 377.9H1162.6M1066.7 373.6V382.2M1162.6 373.6V382.2M1066.7 408.5H1162.6M1066.7 404.2V412.8M1162.6 404.2V412.8M1061.4 439.0H1109.4M1061.4 434.7V443.3M1109.4 434.7V443.3M1037.9 469.6H1085.9M1037.9 465.3V473.9M1085.9 465.3V473.9M1008.7 500.2H1056.6M1008.7 495.9V504.5M1056.6 495.9V504.5" stroke="#7fbfbf" stroke-width="1.5" fill="none"/>
<g fill="#008080"><circle cx="1435.9" cy="102.1" r="5.6"/><circle cx="1402.3" cy="132.7" r="5.6"/><circle cx="1354.4" cy="163.3" r="5.6"/><circle cx="1330.4" cy="193.8" r="5.6"/><circle cx="1277.2" cy="224.4" r="5.6"/><circle cx="1248.4" cy="255.2" r="5.6"/><circle cx="1220.1" cy="285.9" r="5.6"/><circle cx="1196.2" cy="316.8" r="5.6"/><circle cx="1162.1" cy="347.3" r="5.6"/><circle cx="1114.6" cy="377.9" r="5.6"/><circle cx="1114.6" cy="408.5" r="5.6"/><circle cx="1085.4" cy="439.0" r="5.6"/><circle cx="1061.9" cy="469.6" r="5.6"/><circle cx="1032.7" cy="500.2" r="5.6"/></g>
<polyline fill="none" stroke="#0000ff" stroke-width="2.8" stroke-linejoin="round" points="1032.7,501.9 1041.2,490.7 1049.7,479.6 1058.3,468.6 1066.8,457.8 1075.4,447.2 1083.9,436.7 1092.5,426.3 1101.0,416.1 1109.5,406.0 1118.1,396.0 1126.6,386.1 1135.2,376.4 1143.7,366.8 1152.3,357.3 1160.8,347.9 1169.3,338.7 1177.9,329.5 1186.4,320.5 1195.0,311.6 1203.5,302.8 1212.1,294.1 1220.6,285.5 1229.1,277.0 1237.7,268.6 1246.2,260.2 1254.8,252.0 1263.3,243.9 1271.9,235.9 1280.4,228.0 1288.9,220.1 1297.5,212.4 1306.0,204.7 1314.6,197.1 1323.1,189.6 1331.7,182.2 1340.2,174.9 1348.7,167.6 1357.3,160.5 1365.8,153.4 1374.4,146.3 1382.9,139.4 1391.5,132.5 1400.0,125.7 1408.5,119.0 1417.1,112.3 1425.6,105.7 1434.2,99.2 1442.7,92.8 1451.3,86.4"/>
<circle cx="1006.5" cy="38.1" r="5.7" fill="#008080"/>
<path d="M974.6 73H1039" stroke="#0000ff" stroke-width="2.8"/>
<text x="1045.9" y="47.6" font-size="28.8">(001) crystal high T relaxation</text>
<text x="1046.1" y="82.6" font-size="29">V-F fit</text>
<text transform="translate(1036.4,126.0) scale(1,1.12)" font-size="29.5">f</text>
<text transform="translate(1044.4,134.0) scale(1,1.08)" font-size="20.5">0</text>
<text transform="translate(1089.4,126.0) scale(1,1.12)" font-size="29.5">=</text>
<text transform="translate(1114.4,126.0) scale(1,1.12)" font-size="29.5">2</text>
<text transform="translate(1139.9,126.0) scale(1,1.12)" font-size="29.5">x</text>
<text transform="translate(1163.1,126.0) scale(1,1.12)" font-size="29.5">10</text>
<text transform="translate(1198.7,114.2) scale(1,1.08)" font-size="20.5">15</text>
<text transform="translate(1226.8,126.0) scale(1,1.12)" font-size="29.5">Hz</text>
<text transform="translate(1036.7,173.9) scale(1,1.12)" font-size="29.5">A</text>
<text transform="translate(1056.4,181.9) scale(1,1.08)" font-size="20.5">E</text>
<text transform="translate(1087.1,173.9) scale(1,1.12)" font-size="29.5">=</text>
<text transform="translate(1113.0,173.9) scale(1,1.12)" font-size="29.5">1</text>
<text transform="translate(1137.7,173.9) scale(1,1.12)" font-size="29.5">x</text>
<text transform="translate(1161.6,173.9) scale(1,1.12)" font-size="29.5">10</text>
<text transform="translate(1194.9,162.1) scale(1,1.08)" font-size="20.5">-20</text>
<text transform="translate(1232.5,173.9) scale(1,1.12)" font-size="29.5">J</text>
<text transform="translate(1036.3,217.6) scale(1,1.12)" font-size="29.5">T</text>
<text transform="translate(1055.0,225.6) scale(1,1.08)" font-size="20.5">f</text>
<text transform="translate(1085.5,217.6) scale(1,1.12)" font-size="29.5">=</text>
<text transform="translate(1110.5,217.6) scale(1,1.12)" font-size="29.5">432</text>
<text transform="translate(1168.2,217.6) scale(1,1.12)" font-size="29.5">K</text>
<rect x="1333.3" y="238.0" width="295.2" height="240.7" fill="#fff"/>
<clipPath id="cib"><rect x="1333.3" y="238.0" width="295.2" height="240.7"/></clipPath>
<g clip-path="url(#cib)" fill="none" stroke-width="2" stroke-linejoin="round"><path d="M1333.3 439.9 L1334.8 438.9 L1336.3 437.8 L1337.7 436.7 L1339.2 435.6 L1340.7 434.4 L1342.2 433.2 L1343.6 432.0 L1345.1 430.7 L1346.6 429.5 L1348.1 428.1 L1349.5 426.8 L1351.0 425.4 L1352.5 423.9 L1354.0 422.4 L1355.4 420.9 L1356.9 419.4 L1358.4 417.8 L1359.9 416.1 L1361.3 414.4 L1362.8 412.7 L1364.3 410.9 L1365.8 409.1 L1367.2 407.2 L1368.7 405.3 L1370.2 403.3 L1371.7 401.3 L1373.2 399.2 L1374.6 397.1 L1376.1 394.9 L1377.6 392.6 L1379.1 390.3 L1380.5 388.0 L1382.0 385.5 L1383.5 383.0 L1385.0 380.4 L1386.4 377.8 L1387.9 375.1 L1389.4 372.3 L1390.9 369.5 L1392.3 366.5 L1393.8 363.5 L1395.3 360.5 L1396.8 357.3 L1398.2 354.1 L1399.7 350.7 L1401.2 347.3 L1402.7 343.8 L1404.1 340.3 L1405.6 336.6 L1407.1 332.8 L1408.6 329.0 L1410.1 325.0 L1411.5 321.0 L1413.0 316.9 L1414.5 312.7 L1416.0 308.4 L1417.4 304.0 L1418.9 299.6 L1420.4 295.1 L1421.9 290.6 L1423.3 286.1 L1424.8 281.6 L1426.3 277.3 L1427.8 273.2 L1429.2 269.5 L1430.7 266.5 L1432.2 264.6 L1433.7 264.0 L1435.1 264.9 L1436.6 266.6 L1438.1 268.8 L1439.6 271.4 L1441.0 274.3 L1442.5 277.5 L1444.0 281.0 L1445.5 284.6 L1447.0 288.3 L1448.4 292.2 L1449.9 296.1 L1451.4 300.0 L1452.9 304.0 L1454.3 308.0 L1455.8 311.9 L1457.3 315.9 L1458.8 319.8 L1460.2 323.6 L1461.7 327.4 L1463.2 331.1 L1464.7 334.7 L1466.1 338.3 L1467.6 341.7 L1469.1 345.1 L1470.6 348.4 L1472.0 351.7 L1473.5 354.8 L1475.0 357.9 L1476.5 360.8 L1477.9 363.7 L1479.4 366.5 L1480.9 369.2 L1482.4 371.9 L1483.9 374.4 L1485.3 376.9 L1486.8 379.3 L1488.3 381.6 L1489.8 383.9 L1491.2 386.1 L1492.7 388.2 L1494.2 390.2 L1495.7 392.2 L1497.1 394.2 L1498.6 396.0 L1500.1 397.9 L1501.6 399.6 L1503.0 401.3 L1504.5 403.0 L1506.0 404.6 L1507.5 406.2 L1508.9 407.7 L1510.4 409.1 L1511.9 410.6 L1513.4 411.9 L1514.8 413.3 L1516.3 414.6 L1517.8 415.8 L1519.3 417.1 L1520.8 418.3 L1522.2 419.4 L1523.7 420.5 L1525.2 421.6 L1526.7 422.7 L1528.1 423.7 L1529.6 424.7 L1531.1 425.7 L1532.6 426.7 L1534.0 427.6 L1535.5 428.5 L1537.0 429.4 L1538.5 430.2 L1539.9 431.1 L1541.4 431.9 L1542.9 432.7 L1544.4 433.5 L1545.8 434.2 L1547.3 434.9 L1548.8 435.6 L1550.3 436.3 L1551.7 437.0 L1553.2 437.7 L1554.7 438.3 L1556.2 439.0 L1557.7 439.6 L1559.1 440.2 L1560.6 440.8 L1562.1 441.3 L1563.6 441.9 L1565.0 442.5 L1566.5 443.0 L1568.0 443.5 L1569.5 444.0 L1570.9 444.5 L1572.4 445.0 L1573.9 445.5 L1575.4 446.0 L1576.8 446.4 L1578.3 446.9 L1579.8 447.3 L1581.3 447.7 L1582.7 448.1 L1584.2 448.6 L1585.7 449.0 L1587.2 449.3 L1588.6 449.7 L1590.1 450.1 L1591.6 450.5 L1593.1 450.8 L1594.6 451.2 L1596.0 451.5 L1597.5 451.9 L1599.0 452.2 L1600.5 452.6 L1601.9 452.9 L1603.4 453.2 L1604.9 453.5 L1606.4 453.8 L1607.8 454.1 L1609.3 454.4 L1610.8 454.7 L1612.3 455.0 L1613.7 455.2 L1615.2 455.5 L1616.7 455.8 L1618.2 456.0 L1619.6 456.3 L1621.1 456.5 L1622.6 456.8 L1624.1 457.0 L1625.5 457.3 L1627.0 457.5 L1628.5 457.7" stroke="#ff3333"/><path d="M1333.3 440.8 L1334.8 439.8 L1336.3 438.7 L1337.7 437.7 L1339.2 436.6 L1340.7 435.4 L1342.2 434.3 L1343.6 433.1 L1345.1 431.8 L1346.6 430.6 L1348.1 429.3 L1349.5 427.9 L1351.0 426.6 L1352.5 425.2 L1354.0 423.7 L1355.4 422.3 L1356.9 420.7 L1358.4 419.2 L1359.9 417.6 L1361.3 415.9 L1362.8 414.2 L1364.3 412.5 L1365.8 410.7 L1367.2 408.9 L1368.7 407.0 L1370.2 405.1 L1371.7 403.1 L1373.2 401.1 L1374.6 399.0 L1376.1 396.9 L1377.6 394.7 L1379.1 392.4 L1380.5 390.1 L1382.0 387.7 L1383.5 385.3 L1385.0 382.8 L1386.4 380.2 L1387.9 377.6 L1389.4 374.8 L1390.9 372.1 L1392.3 369.2 L1393.8 366.3 L1395.3 363.3 L1396.8 360.2 L1398.2 357.0 L1399.7 353.8 L1401.2 350.5 L1402.7 347.1 L1404.1 343.6 L1405.6 340.0 L1407.1 336.4 L1408.6 332.6 L1410.1 328.8 L1411.5 324.8 L1413.0 320.8 L1414.5 316.7 L1416.0 312.5 L1417.4 308.3 L1418.9 304.0 L1420.4 299.6 L1421.9 295.2 L1423.3 290.7 L1424.8 286.3 L1426.3 282.0 L1427.8 277.8 L1429.2 274.0 L1430.7 270.7 L1432.2 268.1 L1433.7 266.7 L1435.1 266.7 L1436.6 267.9 L1438.1 269.7 L1439.6 272.0 L1441.0 274.7 L1442.5 277.7 L1444.0 280.9 L1445.5 284.4 L1447.0 288.0 L1448.4 291.7 L1449.9 295.5 L1451.4 299.4 L1452.9 303.3 L1454.3 307.2 L1455.8 311.1 L1457.3 315.0 L1458.8 318.9 L1460.2 322.7 L1461.7 326.5 L1463.2 330.2 L1464.7 333.8 L1466.1 337.4 L1467.6 340.9 L1469.1 344.3 L1470.6 347.6 L1472.0 350.8 L1473.5 354.0 L1475.0 357.0 L1476.5 360.0 L1477.9 362.9 L1479.4 365.8 L1480.9 368.5 L1482.4 371.1 L1483.9 373.7 L1485.3 376.2 L1486.8 378.7 L1488.3 381.0 L1489.8 383.3 L1491.2 385.5 L1492.7 387.6 L1494.2 389.7 L1495.7 391.7 L1497.1 393.7 L1498.6 395.6 L1500.1 397.4 L1501.6 399.2 L1503.0 400.9 L1504.5 402.6 L1506.0 404.2 L1507.5 405.8 L1508.9 407.3 L1510.4 408.8 L1511.9 410.2 L1513.4 411.6 L1514.8 413.0 L1516.3 414.3 L1517.8 415.6 L1519.3 416.8 L1520.8 418.0 L1522.2 419.2 L1523.7 420.3 L1525.2 421.4 L1526.7 422.5 L1528.1 423.5 L1529.6 424.5 L1531.1 425.5 L1532.6 426.5 L1534.0 427.4 L1535.5 428.3 L1537.0 429.2 L1538.5 430.1 L1539.9 430.9 L1541.4 431.7 L1542.9 432.5 L1544.4 433.3 L1545.8 434.1 L1547.3 434.8 L1548.8 435.5 L1550.3 436.2 L1551.7 436.9 L1553.2 437.6 L1554.7 438.2 L1556.2 438.9 L1557.7 439.5 L1559.1 440.1 L1560.6 440.7 L1562.1 441.3 L1563.6 441.8 L1565.0 442.4 L1566.5 442.9 L1568.0 443.4 L1569.5 444.0 L1570.9 444.5 L1572.4 445.0 L1573.9 445.4 L1575.4 445.9 L1576.8 446.4 L1578.3 446.8 L1579.8 447.3 L1581.3 447.7 L1582.7 448.1 L1584.2 448.5 L1585.7 448.9 L1587.2 449.3 L1588.6 449.7 L1590.1 450.1 L1591.6 450.5 L1593.1 450.8 L1594.6 451.2 L1596.0 451.5 L1597.5 451.9 L1599.0 452.2 L1600.5 452.5 L1601.9 452.9 L1603.4 453.2 L1604.9 453.5 L1606.4 453.8 L1607.8 454.1 L1609.3 454.4 L1610.8 454.7 L1612.3 455.0 L1613.7 455.2 L1615.2 455.5 L1616.7 455.8 L1618.2 456.0 L1619.6 456.3 L1621.1 456.5 L1622.6 456.8 L1624.1 457.0 L1625.5 457.3 L1627.0 457.5 L1628.5 457.7" stroke="#2a7fff"/><path d="M1333.3 441.7 L1334.8 440.7 L1336.3 439.6 L1337.7 438.6 L1339.2 437.5 L1340.7 436.4 L1342.2 435.3 L1343.6 434.1 L1345.1 432.9 L1346.6 431.7 L1348.1 430.4 L1349.5 429.1 L1351.0 427.8 L1352.5 426.4 L1354.0 425.0 L1355.4 423.6 L1356.9 422.1 L1358.4 420.5 L1359.9 419.0 L1361.3 417.4 L1362.8 415.7 L1364.3 414.0 L1365.8 412.3 L1367.2 410.5 L1368.7 408.7 L1370.2 406.8 L1371.7 404.9 L1373.2 402.9 L1374.6 400.9 L1376.1 398.8 L1377.6 396.6 L1379.1 394.4 L1380.5 392.2 L1382.0 389.9 L1383.5 387.5 L1385.0 385.0 L1386.4 382.5 L1387.9 380.0 L1389.4 377.3 L1390.9 374.6 L1392.3 371.8 L1393.8 369.0 L1395.3 366.1 L1396.8 363.1 L1398.2 360.0 L1399.7 356.8 L1401.2 353.6 L1402.7 350.3 L1404.1 346.9 L1405.6 343.4 L1407.1 339.8 L1408.6 336.2 L1410.1 332.4 L1411.5 328.6 L1413.0 324.7 L1414.5 320.7 L1416.0 316.6 L1417.4 312.5 L1418.9 308.2 L1420.4 304.0 L1421.9 299.6 L1423.3 295.3 L1424.8 290.9 L1426.3 286.7 L1427.8 282.5 L1429.2 278.5 L1430.7 275.0 L1432.2 272.0 L1433.7 269.9 L1435.1 269.0 L1436.6 269.5 L1438.1 270.9 L1439.6 272.9 L1441.0 275.3 L1442.5 278.0 L1444.0 281.1 L1445.5 284.3 L1447.0 287.8 L1448.4 291.4 L1449.9 295.1 L1451.4 298.9 L1452.9 302.7 L1454.3 306.5 L1455.8 310.4 L1457.3 314.3 L1458.8 318.1 L1460.2 321.9 L1461.7 325.6 L1463.2 329.3 L1464.7 333.0 L1466.1 336.5 L1467.6 340.0 L1469.1 343.4 L1470.6 346.7 L1472.0 350.0 L1473.5 353.2 L1475.0 356.3 L1476.5 359.3 L1477.9 362.2 L1479.4 365.0 L1480.9 367.8 L1482.4 370.5 L1483.9 373.1 L1485.3 375.6 L1486.8 378.0 L1488.3 380.4 L1489.8 382.7 L1491.2 384.9 L1492.7 387.1 L1494.2 389.2 L1495.7 391.2 L1497.1 393.2 L1498.6 395.1 L1500.1 396.9 L1501.6 398.7 L1503.0 400.5 L1504.5 402.2 L1506.0 403.8 L1507.5 405.4 L1508.9 406.9 L1510.4 408.4 L1511.9 409.9 L1513.4 411.3 L1514.8 412.7 L1516.3 414.0 L1517.8 415.3 L1519.3 416.5 L1520.8 417.7 L1522.2 418.9 L1523.7 420.1 L1525.2 421.2 L1526.7 422.3 L1528.1 423.3 L1529.6 424.3 L1531.1 425.3 L1532.6 426.3 L1534.0 427.2 L1535.5 428.2 L1537.0 429.1 L1538.5 429.9 L1539.9 430.8 L1541.4 431.6 L1542.9 432.4 L1544.4 433.2 L1545.8 433.9 L1547.3 434.7 L1548.8 435.4 L1550.3 436.1 L1551.7 436.8 L1553.2 437.5 L1554.7 438.1 L1556.2 438.8 L1557.7 439.4 L1559.1 440.0 L1560.6 440.6 L1562.1 441.2 L1563.6 441.8 L1565.0 442.3 L1566.5 442.9 L1568.0 443.4 L1569.5 443.9 L1570.9 444.4 L1572.4 444.9 L1573.9 445.4 L1575.4 445.9 L1576.8 446.3 L1578.3 446.8 L1579.8 447.2 L1581.3 447.7 L1582.7 448.1 L1584.2 448.5 L1585.7 448.9 L1587.2 449.3 L1588.6 449.7 L1590.1 450.1 L1591.6 450.4 L1593.1 450.8 L1594.6 451.2 L1596.0 451.5 L1597.5 451.9 L1599.0 452.2 L1600.5 452.5 L1601.9 452.9 L1603.4 453.2 L1604.9 453.5 L1606.4 453.8 L1607.8 454.1 L1609.3 454.4 L1610.8 454.7 L1612.3 455.0 L1613.7 455.2 L1615.2 455.5 L1616.7 455.8 L1618.2 456.0 L1619.6 456.3 L1621.1 456.6 L1622.6 456.8 L1624.1 457.1 L1625.5 457.3 L1627.0 457.5 L1628.5 457.8" stroke="#2ca05a"/><path d="M1333.3 442.5 L1334.8 441.5 L1336.3 440.5 L1337.7 439.5 L1339.2 438.5 L1340.7 437.4 L1342.2 436.3 L1343.6 435.1 L1345.1 433.9 L1346.6 432.7 L1348.1 431.5 L1349.5 430.2 L1351.0 428.9 L1352.5 427.6 L1354.0 426.2 L1355.4 424.8 L1356.9 423.4 L1358.4 421.9 L1359.9 420.4 L1361.3 418.8 L1362.8 417.2 L1364.3 415.5 L1365.8 413.9 L1367.2 412.1 L1368.7 410.3 L1370.2 408.5 L1371.7 406.6 L1373.2 404.7 L1374.6 402.7 L1376.1 400.7 L1377.6 398.6 L1379.1 396.4 L1380.5 394.2 L1382.0 392.0 L1383.5 389.6 L1385.0 387.3 L1386.4 384.8 L1387.9 382.3 L1389.4 379.7 L1390.9 377.1 L1392.3 374.4 L1393.8 371.6 L1395.3 368.8 L1396.8 365.8 L1398.2 362.8 L1399.7 359.8 L1401.2 356.6 L1402.7 353.4 L1404.1 350.1 L1405.6 346.7 L1407.1 343.2 L1408.6 339.6 L1410.1 336.0 L1411.5 332.3 L1413.0 328.5 L1414.5 324.6 L1416.0 320.6 L1417.4 316.5 L1418.9 312.4 L1420.4 308.3 L1421.9 304.0 L1423.3 299.8 L1424.8 295.5 L1426.3 291.3 L1427.8 287.1 L1429.2 283.1 L1430.7 279.4 L1432.2 276.1 L1433.7 273.5 L1435.1 271.9 L1436.6 271.4 L1438.1 272.3 L1439.6 273.9 L1441.0 276.0 L1442.5 278.5 L1444.0 281.4 L1445.5 284.4 L1447.0 287.7 L1448.4 291.2 L1449.9 294.7 L1451.4 298.4 L1452.9 302.1 L1454.3 305.9 L1455.8 309.7 L1457.3 313.5 L1458.8 317.3 L1460.2 321.1 L1461.7 324.8 L1463.2 328.5 L1464.7 332.1 L1466.1 335.7 L1467.6 339.2 L1469.1 342.6 L1470.6 345.9 L1472.0 349.2 L1473.5 352.4 L1475.0 355.5 L1476.5 358.5 L1477.9 361.4 L1479.4 364.3 L1480.9 367.1 L1482.4 369.8 L1483.9 372.4 L1485.3 374.9 L1486.8 377.4 L1488.3 379.8 L1489.8 382.1 L1491.2 384.4 L1492.7 386.5 L1494.2 388.7 L1495.7 390.7 L1497.1 392.7 L1498.6 394.6 L1500.1 396.5 L1501.6 398.3 L1503.0 400.1 L1504.5 401.8 L1506.0 403.4 L1507.5 405.0 L1508.9 406.6 L1510.4 408.1 L1511.9 409.5 L1513.4 411.0 L1514.8 412.3 L1516.3 413.7 L1517.8 415.0 L1519.3 416.3 L1520.8 417.5 L1522.2 418.7 L1523.7 419.8 L1525.2 420.9 L1526.7 422.0 L1528.1 423.1 L1529.6 424.1 L1531.1 425.1 L1532.6 426.1 L1534.0 427.1 L1535.5 428.0 L1537.0 428.9 L1538.5 429.8 L1539.9 430.6 L1541.4 431.5 L1542.9 432.3 L1544.4 433.1 L1545.8 433.8 L1547.3 434.6 L1548.8 435.3 L1550.3 436.0 L1551.7 436.7 L1553.2 437.4 L1554.7 438.1 L1556.2 438.7 L1557.7 439.3 L1559.1 439.9 L1560.6 440.5 L1562.1 441.1 L1563.6 441.7 L1565.0 442.3 L1566.5 442.8 L1568.0 443.3 L1569.5 443.9 L1570.9 444.4 L1572.4 444.9 L1573.9 445.3 L1575.4 445.8 L1576.8 446.3 L1578.3 446.7 L1579.8 447.2 L1581.3 447.6 L1582.7 448.0 L1584.2 448.5 L1585.7 448.9 L1587.2 449.3 L1588.6 449.7 L1590.1 450.0 L1591.6 450.4 L1593.1 450.8 L1594.6 451.2 L1596.0 451.5 L1597.5 451.8 L1599.0 452.2 L1600.5 452.5 L1601.9 452.8 L1603.4 453.2 L1604.9 453.5 L1606.4 453.8 L1607.8 454.1 L1609.3 454.4 L1610.8 454.7 L1612.3 455.0 L1613.7 455.2 L1615.2 455.5 L1616.7 455.8 L1618.2 456.1 L1619.6 456.3 L1621.1 456.6 L1622.6 456.8 L1624.1 457.1 L1625.5 457.3 L1627.0 457.5 L1628.5 457.8" stroke="#b07cf0"/><path d="M1333.3 443.3 L1334.8 442.4 L1336.3 441.4 L1337.7 440.4 L1339.2 439.4 L1340.7 438.3 L1342.2 437.2 L1343.6 436.1 L1345.1 435.0 L1346.6 433.8 L1348.1 432.6 L1349.5 431.4 L1351.0 430.1 L1352.5 428.8 L1354.0 427.5 L1355.4 426.1 L1356.9 424.7 L1358.4 423.2 L1359.9 421.7 L1361.3 420.2 L1362.8 418.6 L1364.3 417.0 L1365.8 415.4 L1367.2 413.7 L1368.7 411.9 L1370.2 410.1 L1371.7 408.3 L1373.2 406.4 L1374.6 404.5 L1376.1 402.5 L1377.6 400.5 L1379.1 398.4 L1380.5 396.2 L1382.0 394.0 L1383.5 391.8 L1385.0 389.5 L1386.4 387.1 L1387.9 384.6 L1389.4 382.1 L1390.9 379.5 L1392.3 376.9 L1393.8 374.2 L1395.3 371.4 L1396.8 368.6 L1398.2 365.7 L1399.7 362.7 L1401.2 359.6 L1402.7 356.4 L1404.1 353.2 L1405.6 349.9 L1407.1 346.5 L1408.6 343.1 L1410.1 339.5 L1411.5 335.9 L1413.0 332.2 L1414.5 328.4 L1416.0 324.5 L1417.4 320.6 L1418.9 316.5 L1420.4 312.5 L1421.9 308.3 L1423.3 304.2 L1424.8 300.0 L1426.3 295.8 L1427.8 291.7 L1429.2 287.7 L1430.7 283.9 L1432.2 280.4 L1433.7 277.5 L1435.1 275.3 L1436.6 274.1 L1438.1 274.1 L1439.6 275.3 L1441.0 277.0 L1442.5 279.2 L1444.0 281.8 L1445.5 284.7 L1447.0 287.8 L1448.4 291.1 L1449.9 294.5 L1451.4 298.1 L1452.9 301.7 L1454.3 305.4 L1455.8 309.2 L1457.3 312.9 L1458.8 316.7 L1460.2 320.4 L1461.7 324.1 L1463.2 327.7 L1464.7 331.4 L1466.1 334.9 L1467.6 338.4 L1469.1 341.8 L1470.6 345.2 L1472.0 348.4 L1473.5 351.6 L1475.0 354.7 L1476.5 357.8 L1477.9 360.7 L1479.4 363.6 L1480.9 366.4 L1482.4 369.1 L1483.9 371.7 L1485.3 374.3 L1486.8 376.8 L1488.3 379.2 L1489.8 381.5 L1491.2 383.8 L1492.7 386.0 L1494.2 388.1 L1495.7 390.2 L1497.1 392.2 L1498.6 394.2 L1500.1 396.0 L1501.6 397.9 L1503.0 399.7 L1504.5 401.4 L1506.0 403.0 L1507.5 404.7 L1508.9 406.2 L1510.4 407.7 L1511.9 409.2 L1513.4 410.7 L1514.8 412.1 L1516.3 413.4 L1517.8 414.7 L1519.3 416.0 L1520.8 417.2 L1522.2 418.4 L1523.7 419.6 L1525.2 420.7 L1526.7 421.8 L1528.1 422.9 L1529.6 423.9 L1531.1 425.0 L1532.6 425.9 L1534.0 426.9 L1535.5 427.8 L1537.0 428.7 L1538.5 429.6 L1539.9 430.5 L1541.4 431.3 L1542.9 432.1 L1544.4 432.9 L1545.8 433.7 L1547.3 434.5 L1548.8 435.2 L1550.3 435.9 L1551.7 436.6 L1553.2 437.3 L1554.7 438.0 L1556.2 438.6 L1557.7 439.2 L1559.1 439.9 L1560.6 440.5 L1562.1 441.1 L1563.6 441.6 L1565.0 442.2 L1566.5 442.7 L1568.0 443.3 L1569.5 443.8 L1570.9 444.3 L1572.4 444.8 L1573.9 445.3 L1575.4 445.8 L1576.8 446.3 L1578.3 446.7 L1579.8 447.2 L1581.3 447.6 L1582.7 448.0 L1584.2 448.4 L1585.7 448.9 L1587.2 449.3 L1588.6 449.6 L1590.1 450.0 L1591.6 450.4 L1593.1 450.8 L1594.6 451.1 L1596.0 451.5 L1597.5 451.8 L1599.0 452.2 L1600.5 452.5 L1601.9 452.8 L1603.4 453.2 L1604.9 453.5 L1606.4 453.8 L1607.8 454.1 L1609.3 454.4 L1610.8 454.7 L1612.3 455.0 L1613.7 455.2 L1615.2 455.5 L1616.7 455.8 L1618.2 456.1 L1619.6 456.3 L1621.1 456.6 L1622.6 456.8 L1624.1 457.1 L1625.5 457.3 L1627.0 457.6 L1628.5 457.8" stroke="#d4a000"/><path d="M1333.3 444.1 L1334.8 443.2 L1336.3 442.3 L1337.7 441.3 L1339.2 440.3 L1340.7 439.2 L1342.2 438.2 L1343.6 437.1 L1345.1 436.0 L1346.6 434.8 L1348.1 433.7 L1349.5 432.5 L1351.0 431.2 L1352.5 430.0 L1354.0 428.6 L1355.4 427.3 L1356.9 425.9 L1358.4 424.5 L1359.9 423.1 L1361.3 421.6 L1362.8 420.0 L1364.3 418.5 L1365.8 416.9 L1367.2 415.2 L1368.7 413.5 L1370.2 411.8 L1371.7 410.0 L1373.2 408.1 L1374.6 406.3 L1376.1 404.3 L1377.6 402.3 L1379.1 400.3 L1380.5 398.2 L1382.0 396.1 L1383.5 393.9 L1385.0 391.6 L1386.4 389.3 L1387.9 386.9 L1389.4 384.5 L1390.9 381.9 L1392.3 379.4 L1393.8 376.7 L1395.3 374.0 L1396.8 371.3 L1398.2 368.4 L1399.7 365.5 L1401.2 362.5 L1402.7 359.4 L1404.1 356.3 L1405.6 353.1 L1407.1 349.8 L1408.6 346.4 L1410.1 342.9 L1411.5 339.4 L1413.0 335.8 L1414.5 332.1 L1416.0 328.3 L1417.4 324.5 L1418.9 320.6 L1420.4 316.6 L1421.9 312.6 L1423.3 308.5 L1424.8 304.4 L1426.3 300.3 L1427.8 296.2 L1429.2 292.2 L1430.7 288.3 L1432.2 284.7 L1433.7 281.6 L1435.1 279.0 L1436.6 277.2 L1438.1 276.4 L1439.6 276.9 L1441.0 278.3 L1442.5 280.2 L1444.0 282.5 L1445.5 285.1 L1447.0 288.0 L1448.4 291.1 L1449.9 294.4 L1451.4 297.9 L1452.9 301.4 L1454.3 305.0 L1455.8 308.7 L1457.3 312.3 L1458.8 316.0 L1460.2 319.7 L1461.7 323.4 L1463.2 327.0 L1464.7 330.6 L1466.1 334.2 L1467.6 337.6 L1469.1 341.1 L1470.6 344.4 L1472.0 347.7 L1473.5 350.9 L1475.0 354.0 L1476.5 357.1 L1477.9 360.0 L1479.4 362.9 L1480.9 365.7 L1482.4 368.5 L1483.9 371.1 L1485.3 373.7 L1486.8 376.2 L1488.3 378.6 L1489.8 381.0 L1491.2 383.3 L1492.7 385.5 L1494.2 387.6 L1495.7 389.7 L1497.1 391.7 L1498.6 393.7 L1500.1 395.6 L1501.6 397.5 L1503.0 399.2 L1504.5 401.0 L1506.0 402.7 L1507.5 404.3 L1508.9 405.9 L1510.4 407.4 L1511.9 408.9 L1513.4 410.4 L1514.8 411.8 L1516.3 413.1 L1517.8 414.4 L1519.3 415.7 L1520.8 417.0 L1522.2 418.2 L1523.7 419.4 L1525.2 420.5 L1526.7 421.6 L1528.1 422.7 L1529.6 423.8 L1531.1 424.8 L1532.6 425.8 L1534.0 426.7 L1535.5 427.7 L1537.0 428.6 L1538.5 429.5 L1539.9 430.4 L1541.4 431.2 L1542.9 432.0 L1544.4 432.8 L1545.8 433.6 L1547.3 434.4 L1548.8 435.1 L1550.3 435.8 L1551.7 436.5 L1553.2 437.2 L1554.7 437.9 L1556.2 438.5 L1557.7 439.2 L1559.1 439.8 L1560.6 440.4 L1562.1 441.0 L1563.6 441.6 L1565.0 442.1 L1566.5 442.7 L1568.0 443.2 L1569.5 443.8 L1570.9 444.3 L1572.4 444.8 L1573.9 445.3 L1575.4 445.8 L1576.8 446.2 L1578.3 446.7 L1579.8 447.1 L1581.3 447.6 L1582.7 448.0 L1584.2 448.4 L1585.7 448.8 L1587.2 449.2 L1588.6 449.6 L1590.1 450.0 L1591.6 450.4 L1593.1 450.8 L1594.6 451.1 L1596.0 451.5 L1597.5 451.8 L1599.0 452.2 L1600.5 452.5 L1601.9 452.8 L1603.4 453.2 L1604.9 453.5 L1606.4 453.8 L1607.8 454.1 L1609.3 454.4 L1610.8 454.7 L1612.3 455.0 L1613.7 455.3 L1615.2 455.5 L1616.7 455.8 L1618.2 456.1 L1619.6 456.3 L1621.1 456.6 L1622.6 456.8 L1624.1 457.1 L1625.5 457.3 L1627.0 457.6 L1628.5 457.8" stroke="#22cccc"/><path d="M1333.3 444.9 L1334.8 444.0 L1336.3 443.1 L1337.7 442.1 L1339.2 441.2 L1340.7 440.2 L1342.2 439.1 L1343.6 438.1 L1345.1 437.0 L1346.6 435.9 L1348.1 434.7 L1349.5 433.5 L1351.0 432.3 L1352.5 431.1 L1354.0 429.8 L1355.4 428.5 L1356.9 427.2 L1358.4 425.8 L1359.9 424.4 L1361.3 422.9 L1362.8 421.4 L1364.3 419.9 L1365.8 418.3 L1367.2 416.7 L1368.7 415.1 L1370.2 413.4 L1371.7 411.6 L1373.2 409.8 L1374.6 408.0 L1376.1 406.1 L1377.6 404.2 L1379.1 402.2 L1380.5 400.1 L1382.0 398.1 L1383.5 395.9 L1385.0 393.7 L1386.4 391.4 L1387.9 389.1 L1389.4 386.7 L1390.9 384.3 L1392.3 381.8 L1393.8 379.2 L1395.3 376.6 L1396.8 373.9 L1398.2 371.1 L1399.7 368.3 L1401.2 365.4 L1402.7 362.4 L1404.1 359.3 L1405.6 356.2 L1407.1 353.0 L1408.6 349.7 L1410.1 346.3 L1411.5 342.9 L1413.0 339.3 L1414.5 335.8 L1416.0 332.1 L1417.4 328.3 L1418.9 324.5 L1420.4 320.6 L1421.9 316.7 L1423.3 312.7 L1424.8 308.7 L1426.3 304.6 L1427.8 300.6 L1429.2 296.7 L1430.7 292.8 L1432.2 289.1 L1433.7 285.8 L1435.1 282.9 L1436.6 280.6 L1438.1 279.2 L1439.6 278.9 L1441.0 279.8 L1442.5 281.3 L1444.0 283.3 L1445.5 285.7 L1447.0 288.4 L1448.4 291.3 L1449.9 294.5 L1451.4 297.8 L1452.9 301.2 L1454.3 304.7 L1455.8 308.2 L1457.3 311.9 L1458.8 315.5 L1460.2 319.1 L1461.7 322.8 L1463.2 326.4 L1464.7 329.9 L1466.1 333.5 L1467.6 336.9 L1469.1 340.3 L1470.6 343.7 L1472.0 347.0 L1473.5 350.2 L1475.0 353.3 L1476.5 356.4 L1477.9 359.3 L1479.4 362.3 L1480.9 365.1 L1482.4 367.8 L1483.9 370.5 L1485.3 373.1 L1486.8 375.6 L1488.3 378.1 L1489.8 380.4 L1491.2 382.7 L1492.7 385.0 L1494.2 387.1 L1495.7 389.2 L1497.1 391.3 L1498.6 393.3 L1500.1 395.2 L1501.6 397.1 L1503.0 398.9 L1504.5 400.6 L1506.0 402.3 L1507.5 404.0 L1508.9 405.5 L1510.4 407.1 L1511.9 408.6 L1513.4 410.1 L1514.8 411.5 L1516.3 412.9 L1517.8 414.2 L1519.3 415.5 L1520.8 416.7 L1522.2 418.0 L1523.7 419.2 L1525.2 420.3 L1526.7 421.4 L1528.1 422.5 L1529.6 423.6 L1531.1 424.6 L1532.6 425.6 L1534.0 426.6 L1535.5 427.5 L1537.0 428.5 L1538.5 429.4 L1539.9 430.2 L1541.4 431.1 L1542.9 431.9 L1544.4 432.7 L1545.8 433.5 L1547.3 434.3 L1548.8 435.0 L1550.3 435.7 L1551.7 436.4 L1553.2 437.1 L1554.7 437.8 L1556.2 438.5 L1557.7 439.1 L1559.1 439.7 L1560.6 440.3 L1562.1 440.9 L1563.6 441.5 L1565.0 442.1 L1566.5 442.6 L1568.0 443.2 L1569.5 443.7 L1570.9 444.2 L1572.4 444.7 L1573.9 445.2 L1575.4 445.7 L1576.8 446.2 L1578.3 446.7 L1579.8 447.1 L1581.3 447.6 L1582.7 448.0 L1584.2 448.4 L1585.7 448.8 L1587.2 449.2 L1588.6 449.6 L1590.1 450.0 L1591.6 450.4 L1593.1 450.8 L1594.6 451.1 L1596.0 451.5 L1597.5 451.8 L1599.0 452.2 L1600.5 452.5 L1601.9 452.9 L1603.4 453.2 L1604.9 453.5 L1606.4 453.8 L1607.8 454.1 L1609.3 454.4 L1610.8 454.7 L1612.3 455.0 L1613.7 455.3 L1615.2 455.6 L1616.7 455.8 L1618.2 456.1 L1619.6 456.4 L1621.1 456.6 L1622.6 456.9 L1624.1 457.1 L1625.5 457.4 L1627.0 457.6 L1628.5 457.8" stroke="#8b4a3a"/><path d="M1333.3 445.7 L1334.8 444.8 L1336.3 443.9 L1337.7 443.0 L1339.2 442.0 L1340.7 441.1 L1342.2 440.0 L1343.6 439.0 L1345.1 438.0 L1346.6 436.9 L1348.1 435.7 L1349.5 434.6 L1351.0 433.4 L1352.5 432.2 L1354.0 431.0 L1355.4 429.7 L1356.9 428.4 L1358.4 427.0 L1359.9 425.7 L1361.3 424.2 L1362.8 422.8 L1364.3 421.3 L1365.8 419.8 L1367.2 418.2 L1368.7 416.6 L1370.2 414.9 L1371.7 413.2 L1373.2 411.5 L1374.6 409.7 L1376.1 407.9 L1377.6 406.0 L1379.1 404.0 L1380.5 402.0 L1382.0 400.0 L1383.5 397.9 L1385.0 395.8 L1386.4 393.6 L1387.9 391.3 L1389.4 389.0 L1390.9 386.6 L1392.3 384.2 L1393.8 381.7 L1395.3 379.1 L1396.8 376.5 L1398.2 373.8 L1399.7 371.0 L1401.2 368.2 L1402.7 365.3 L1404.1 362.3 L1405.6 359.2 L1407.1 356.1 L1408.6 352.9 L1410.1 349.6 L1411.5 346.3 L1413.0 342.8 L1414.5 339.3 L1416.0 335.8 L1417.4 332.1 L1418.9 328.4 L1420.4 324.6 L1421.9 320.7 L1423.3 316.9 L1424.8 312.9 L1426.3 309.0 L1427.8 305.0 L1429.2 301.1 L1430.7 297.2 L1432.2 293.5 L1433.7 290.1 L1435.1 287.0 L1436.6 284.4 L1438.1 282.5 L1439.6 281.5 L1441.0 281.6 L1442.5 282.7 L1444.0 284.4 L1445.5 286.5 L1447.0 288.9 L1448.4 291.7 L1449.9 294.6 L1451.4 297.8 L1452.9 301.1 L1454.3 304.5 L1455.8 307.9 L1457.3 311.5 L1458.8 315.0 L1460.2 318.6 L1461.7 322.2 L1463.2 325.8 L1464.7 329.3 L1466.1 332.8 L1467.6 336.3 L1469.1 339.7 L1470.6 343.0 L1472.0 346.3 L1473.5 349.5 L1475.0 352.6 L1476.5 355.7 L1477.9 358.7 L1479.4 361.6 L1480.9 364.4 L1482.4 367.2 L1483.9 369.9 L1485.3 372.5 L1486.8 375.0 L1488.3 377.5 L1489.8 379.9 L1491.2 382.2 L1492.7 384.5 L1494.2 386.7 L1495.7 388.8 L1497.1 390.8 L1498.6 392.8 L1500.1 394.8 L1501.6 396.7 L1503.0 398.5 L1504.5 400.2 L1506.0 401.9 L1507.5 403.6 L1508.9 405.2 L1510.4 406.8 L1511.9 408.3 L1513.4 409.8 L1514.8 411.2 L1516.3 412.6 L1517.8 413.9 L1519.3 415.2 L1520.8 416.5 L1522.2 417.7 L1523.7 418.9 L1525.2 420.1 L1526.7 421.2 L1528.1 422.3 L1529.6 423.4 L1531.1 424.4 L1532.6 425.4 L1534.0 426.4 L1535.5 427.4 L1537.0 428.3 L1538.5 429.2 L1539.9 430.1 L1541.4 431.0 L1542.9 431.8 L1544.4 432.6 L1545.8 433.4 L1547.3 434.2 L1548.8 434.9 L1550.3 435.7 L1551.7 436.4 L1553.2 437.1 L1554.7 437.7 L1556.2 438.4 L1557.7 439.0 L1559.1 439.7 L1560.6 440.3 L1562.1 440.9 L1563.6 441.5 L1565.0 442.0 L1566.5 442.6 L1568.0 443.2 L1569.5 443.7 L1570.9 444.2 L1572.4 444.7 L1573.9 445.2 L1575.4 445.7 L1576.8 446.2 L1578.3 446.6 L1579.8 447.1 L1581.3 447.5 L1582.7 448.0 L1584.2 448.4 L1585.7 448.8 L1587.2 449.2 L1588.6 449.6 L1590.1 450.0 L1591.6 450.4 L1593.1 450.8 L1594.6 451.1 L1596.0 451.5 L1597.5 451.8 L1599.0 452.2 L1600.5 452.5 L1601.9 452.9 L1603.4 453.2 L1604.9 453.5 L1606.4 453.8 L1607.8 454.1 L1609.3 454.4 L1610.8 454.7 L1612.3 455.0 L1613.7 455.3 L1615.2 455.6 L1616.7 455.8 L1618.2 456.1 L1619.6 456.4 L1621.1 456.6 L1622.6 456.9 L1624.1 457.1 L1625.5 457.4 L1627.0 457.6 L1628.5 457.9" stroke="#a0a020"/><path d="M1333.3 446.5 L1334.8 445.6 L1336.3 444.7 L1337.7 443.8 L1339.2 442.9 L1340.7 441.9 L1342.2 441.0 L1343.6 439.9 L1345.1 438.9 L1346.6 437.9 L1348.1 436.8 L1349.5 435.6 L1351.0 434.5 L1352.5 433.3 L1354.0 432.1 L1355.4 430.9 L1356.9 429.6 L1358.4 428.3 L1359.9 426.9 L1361.3 425.5 L1362.8 424.1 L1364.3 422.7 L1365.8 421.2 L1367.2 419.7 L1368.7 418.1 L1370.2 416.5 L1371.7 414.8 L1373.2 413.1 L1374.6 411.4 L1376.1 409.6 L1377.6 407.7 L1379.1 405.8 L1380.5 403.9 L1382.0 401.9 L1383.5 399.9 L1385.0 397.8 L1386.4 395.7 L1387.9 393.5 L1389.4 391.2 L1390.9 388.9 L1392.3 386.5 L1393.8 384.1 L1395.3 381.6 L1396.8 379.0 L1398.2 376.4 L1399.7 373.7 L1401.2 370.9 L1402.7 368.1 L1404.1 365.2 L1405.6 362.2 L1407.1 359.2 L1408.6 356.0 L1410.1 352.9 L1411.5 349.6 L1413.0 346.2 L1414.5 342.8 L1416.0 339.4 L1417.4 335.8 L1418.9 332.2 L1420.4 328.5 L1421.9 324.7 L1423.3 320.9 L1424.8 317.1 L1426.3 313.2 L1427.8 309.3 L1429.2 305.4 L1430.7 301.6 L1432.2 297.9 L1433.7 294.4 L1435.1 291.1 L1436.6 288.3 L1438.1 286.0 L1439.6 284.5 L1441.0 283.8 L1442.5 284.3 L1444.0 285.7 L1445.5 287.5 L1447.0 289.7 L1448.4 292.2 L1449.9 295.0 L1451.4 297.9 L1452.9 301.1 L1454.3 304.3 L1455.8 307.7 L1457.3 311.2 L1458.8 314.7 L1460.2 318.2 L1461.7 321.7 L1463.2 325.2 L1464.7 328.7 L1466.1 332.2 L1467.6 335.7 L1469.1 339.0 L1470.6 342.4 L1472.0 345.6 L1473.5 348.9 L1475.0 352.0 L1476.5 355.1 L1477.9 358.1 L1479.4 361.0 L1480.9 363.8 L1482.4 366.6 L1483.9 369.3 L1485.3 371.9 L1486.8 374.5 L1488.3 377.0 L1489.8 379.4 L1491.2 381.7 L1492.7 384.0 L1494.2 386.2 L1495.7 388.3 L1497.1 390.4 L1498.6 392.4 L1500.1 394.4 L1501.6 396.3 L1503.0 398.1 L1504.5 399.9 L1506.0 401.6 L1507.5 403.3 L1508.9 404.9 L1510.4 406.5 L1511.9 408.0 L1513.4 409.5 L1514.8 410.9 L1516.3 412.3 L1517.8 413.7 L1519.3 415.0 L1520.8 416.3 L1522.2 417.5 L1523.7 418.7 L1525.2 419.9 L1526.7 421.0 L1528.1 422.2 L1529.6 423.2 L1531.1 424.3 L1532.6 425.3 L1534.0 426.3 L1535.5 427.2 L1537.0 428.2 L1538.5 429.1 L1539.9 430.0 L1541.4 430.8 L1542.9 431.7 L1544.4 432.5 L1545.8 433.3 L1547.3 434.1 L1548.8 434.8 L1550.3 435.6 L1551.7 436.3 L1553.2 437.0 L1554.7 437.7 L1556.2 438.3 L1557.7 439.0 L1559.1 439.6 L1560.6 440.2 L1562.1 440.8 L1563.6 441.4 L1565.0 442.0 L1566.5 442.6 L1568.0 443.1 L1569.5 443.7 L1570.9 444.2 L1572.4 444.7 L1573.9 445.2 L1575.4 445.7 L1576.8 446.2 L1578.3 446.6 L1579.8 447.1 L1581.3 447.5 L1582.7 448.0 L1584.2 448.4 L1585.7 448.8 L1587.2 449.2 L1588.6 449.6 L1590.1 450.0 L1591.6 450.4 L1593.1 450.8 L1594.6 451.1 L1596.0 451.5 L1597.5 451.9 L1599.0 452.2 L1600.5 452.5 L1601.9 452.9 L1603.4 453.2 L1604.9 453.5 L1606.4 453.8 L1607.8 454.1 L1609.3 454.4 L1610.8 454.7 L1612.3 455.0 L1613.7 455.3 L1615.2 455.6 L1616.7 455.9 L1618.2 456.1 L1619.6 456.4 L1621.1 456.7 L1622.6 456.9 L1624.1 457.2 L1625.5 457.4 L1627.0 457.6 L1628.5 457.9" stroke="#d8d8d8"/><path d="M1333.3 447.2 L1334.8 446.4 L1336.3 445.5 L1337.7 444.6 L1339.2 443.7 L1340.7 442.8 L1342.2 441.8 L1343.6 440.9 L1345.1 439.9 L1346.6 438.8 L1348.1 437.8 L1349.5 436.7 L1351.0 435.5 L1352.5 434.4 L1354.0 433.2 L1355.4 432.0 L1356.9 430.8 L1358.4 429.5 L1359.9 428.2 L1361.3 426.8 L1362.8 425.4 L1364.3 424.0 L1365.8 422.6 L1367.2 421.1 L1368.7 419.5 L1370.2 418.0 L1371.7 416.4 L1373.2 414.7 L1374.6 413.0 L1376.1 411.3 L1377.6 409.5 L1379.1 407.6 L1380.5 405.7 L1382.0 403.8 L1383.5 401.8 L1385.0 399.8 L1386.4 397.7 L1387.9 395.6 L1389.4 393.4 L1390.9 391.1 L1392.3 388.8 L1393.8 386.4 L1395.3 384.0 L1396.8 381.5 L1398.2 378.9 L1399.7 376.3 L1401.2 373.6 L1402.7 370.8 L1404.1 368.0 L1405.6 365.1 L1407.1 362.2 L1408.6 359.1 L1410.1 356.0 L1411.5 352.8 L1413.0 349.6 L1414.5 346.3 L1416.0 342.9 L1417.4 339.4 L1418.9 335.9 L1420.4 332.3 L1421.9 328.6 L1423.3 324.9 L1424.8 321.2 L1426.3 317.4 L1427.8 313.6 L1429.2 309.7 L1430.7 306.0 L1432.2 302.3 L1433.7 298.7 L1435.1 295.4 L1436.6 292.3 L1438.1 289.8 L1439.6 287.8 L1441.0 286.6 L1442.5 286.3 L1444.0 287.2 L1445.5 288.7 L1447.0 290.6 L1448.4 292.9 L1449.9 295.4 L1451.4 298.2 L1452.9 301.2 L1454.3 304.4 L1455.8 307.6 L1457.3 311.0 L1458.8 314.4 L1460.2 317.8 L1461.7 321.3 L1463.2 324.8 L1464.7 328.2 L1466.1 331.7 L1467.6 335.1 L1469.1 338.5 L1470.6 341.8 L1472.0 345.0 L1473.5 348.2 L1475.0 351.4 L1476.5 354.5 L1477.9 357.5 L1479.4 360.4 L1480.9 363.3 L1482.4 366.0 L1483.9 368.8 L1485.3 371.4 L1486.8 374.0 L1488.3 376.5 L1489.8 378.9 L1491.2 381.2 L1492.7 383.5 L1494.2 385.7 L1495.7 387.9 L1497.1 390.0 L1498.6 392.0 L1500.1 394.0 L1501.6 395.9 L1503.0 397.7 L1504.5 399.5 L1506.0 401.3 L1507.5 403.0 L1508.9 404.6 L1510.4 406.2 L1511.9 407.7 L1513.4 409.2 L1514.8 410.7 L1516.3 412.1 L1517.8 413.5 L1519.3 414.8 L1520.8 416.1 L1522.2 417.3 L1523.7 418.5 L1525.2 419.7 L1526.7 420.9 L1528.1 422.0 L1529.6 423.1 L1531.1 424.1 L1532.6 425.2 L1534.0 426.1 L1535.5 427.1 L1537.0 428.1 L1538.5 429.0 L1539.9 429.9 L1541.4 430.7 L1542.9 431.6 L1544.4 432.4 L1545.8 433.2 L1547.3 434.0 L1548.8 434.8 L1550.3 435.5 L1551.7 436.2 L1553.2 436.9 L1554.7 437.6 L1556.2 438.3 L1557.7 438.9 L1559.1 439.6 L1560.6 440.2 L1562.1 440.8 L1563.6 441.4 L1565.0 442.0 L1566.5 442.5 L1568.0 443.1 L1569.5 443.6 L1570.9 444.2 L1572.4 444.7 L1573.9 445.2 L1575.4 445.7 L1576.8 446.1 L1578.3 446.6 L1579.8 447.1 L1581.3 447.5 L1582.7 448.0 L1584.2 448.4 L1585.7 448.8 L1587.2 449.2 L1588.6 449.6 L1590.1 450.0 L1591.6 450.4 L1593.1 450.8 L1594.6 451.2 L1596.0 451.5 L1597.5 451.9 L1599.0 452.2 L1600.5 452.6 L1601.9 452.9 L1603.4 453.2 L1604.9 453.5 L1606.4 453.9 L1607.8 454.2 L1609.3 454.5 L1610.8 454.8 L1612.3 455.1 L1613.7 455.3 L1615.2 455.6 L1616.7 455.9 L1618.2 456.2 L1619.6 456.4 L1621.1 456.7 L1622.6 456.9 L1624.1 457.2 L1625.5 457.4 L1627.0 457.7 L1628.5 457.9" stroke="#ff6a00"/><path d="M1333.3 448.0 L1334.8 447.2 L1336.3 446.3 L1337.7 445.4 L1339.2 444.6 L1340.7 443.7 L1342.2 442.7 L1343.6 441.8 L1345.1 440.8 L1346.6 439.8 L1348.1 438.7 L1349.5 437.7 L1351.0 436.6 L1352.5 435.5 L1354.0 434.3 L1355.4 433.1 L1356.9 431.9 L1358.4 430.7 L1359.9 429.4 L1361.3 428.1 L1362.8 426.7 L1364.3 425.4 L1365.8 423.9 L1367.2 422.5 L1368.7 421.0 L1370.2 419.5 L1371.7 417.9 L1373.2 416.3 L1374.6 414.6 L1376.1 412.9 L1377.6 411.2 L1379.1 409.4 L1380.5 407.5 L1382.0 405.7 L1383.5 403.7 L1385.0 401.7 L1386.4 399.7 L1387.9 397.6 L1389.4 395.5 L1390.9 393.3 L1392.3 391.0 L1393.8 388.7 L1395.3 386.3 L1396.8 383.9 L1398.2 381.4 L1399.7 378.9 L1401.2 376.2 L1402.7 373.6 L1404.1 370.8 L1405.6 368.0 L1407.1 365.1 L1408.6 362.2 L1410.1 359.1 L1411.5 356.0 L1413.0 352.9 L1414.5 349.6 L1416.0 346.3 L1417.4 343.0 L1418.9 339.5 L1420.4 336.0 L1421.9 332.4 L1423.3 328.8 L1424.8 325.2 L1426.3 321.4 L1427.8 317.7 L1429.2 314.0 L1430.7 310.3 L1432.2 306.6 L1433.7 303.0 L1435.1 299.6 L1436.6 296.5 L1438.1 293.7 L1439.6 291.4 L1441.0 289.7 L1442.5 288.9 L1444.0 289.0 L1445.5 290.1 L1447.0 291.7 L1448.4 293.7 L1449.9 296.1 L1451.4 298.7 L1452.9 301.5 L1454.3 304.5 L1455.8 307.6 L1457.3 310.9 L1458.8 314.2 L1460.2 317.5 L1461.7 320.9 L1463.2 324.4 L1464.7 327.8 L1466.1 331.2 L1467.6 334.6 L1469.1 337.9 L1470.6 341.2 L1472.0 344.5 L1473.5 347.7 L1475.0 350.8 L1476.5 353.9 L1477.9 356.9 L1479.4 359.8 L1480.9 362.7 L1482.4 365.5 L1483.9 368.2 L1485.3 370.9 L1486.8 373.4 L1488.3 376.0 L1489.8 378.4 L1491.2 380.8 L1492.7 383.1 L1494.2 385.3 L1495.7 387.5 L1497.1 389.6 L1498.6 391.6 L1500.1 393.6 L1501.6 395.5 L1503.0 397.4 L1504.5 399.2 L1506.0 400.9 L1507.5 402.6 L1508.9 404.3 L1510.4 405.9 L1511.9 407.5 L1513.4 409.0 L1514.8 410.4 L1516.3 411.8 L1517.8 413.2 L1519.3 414.6 L1520.8 415.9 L1522.2 417.1 L1523.7 418.4 L1525.2 419.5 L1526.7 420.7 L1528.1 421.8 L1529.6 422.9 L1531.1 424.0 L1532.6 425.0 L1534.0 426.0 L1535.5 427.0 L1537.0 427.9 L1538.5 428.9 L1539.9 429.8 L1541.4 430.6 L1542.9 431.5 L1544.4 432.3 L1545.8 433.1 L1547.3 433.9 L1548.8 434.7 L1550.3 435.4 L1551.7 436.2 L1553.2 436.9 L1554.7 437.6 L1556.2 438.2 L1557.7 438.9 L1559.1 439.5 L1560.6 440.2 L1562.1 440.8 L1563.6 441.4 L1565.0 441.9 L1566.5 442.5 L1568.0 443.1 L1569.5 443.6 L1570.9 444.1 L1572.4 444.7 L1573.9 445.2 L1575.4 445.7 L1576.8 446.1 L1578.3 446.6 L1579.8 447.1 L1581.3 447.5 L1582.7 448.0 L1584.2 448.4 L1585.7 448.8 L1587.2 449.2 L1588.6 449.6 L1590.1 450.0 L1591.6 450.4 L1593.1 450.8 L1594.6 451.2 L1596.0 451.5 L1597.5 451.9 L1599.0 452.2 L1600.5 452.6 L1601.9 452.9 L1603.4 453.2 L1604.9 453.6 L1606.4 453.9 L1607.8 454.2 L1609.3 454.5 L1610.8 454.8 L1612.3 455.1 L1613.7 455.4 L1615.2 455.6 L1616.7 455.9 L1618.2 456.2 L1619.6 456.5 L1621.1 456.7 L1622.6 457.0 L1624.1 457.2 L1625.5 457.5 L1627.0 457.7 L1628.5 458.0" stroke="#5aa0ff"/><path d="M1333.3 448.7 L1334.8 447.9 L1336.3 447.1 L1337.7 446.2 L1339.2 445.4 L1340.7 444.5 L1342.2 443.6 L1343.6 442.6 L1345.1 441.7 L1346.6 440.7 L1348.1 439.7 L1349.5 438.7 L1351.0 437.6 L1352.5 436.5 L1354.0 435.4 L1355.4 434.2 L1356.9 433.0 L1358.4 431.8 L1359.9 430.6 L1361.3 429.3 L1362.8 428.0 L1364.3 426.7 L1365.8 425.3 L1367.2 423.9 L1368.7 422.4 L1370.2 420.9 L1371.7 419.4 L1373.2 417.8 L1374.6 416.2 L1376.1 414.5 L1377.6 412.8 L1379.1 411.1 L1380.5 409.3 L1382.0 407.5 L1383.5 405.6 L1385.0 403.7 L1386.4 401.7 L1387.9 399.6 L1389.4 397.6 L1390.9 395.4 L1392.3 393.2 L1393.8 391.0 L1395.3 388.7 L1396.8 386.3 L1398.2 383.9 L1399.7 381.4 L1401.2 378.8 L1402.7 376.2 L1404.1 373.5 L1405.6 370.8 L1407.1 368.0 L1408.6 365.1 L1410.1 362.2 L1411.5 359.2 L1413.0 356.1 L1414.5 352.9 L1416.0 349.7 L1417.4 346.4 L1418.9 343.1 L1420.4 339.7 L1421.9 336.2 L1423.3 332.7 L1424.8 329.1 L1426.3 325.5 L1427.8 321.8 L1429.2 318.1 L1430.7 314.5 L1432.2 310.8 L1433.7 307.3 L1435.1 303.9 L1436.6 300.6 L1438.1 297.7 L1439.6 295.1 L1441.0 293.1 L1442.5 291.8 L1444.0 291.3 L1445.5 291.8 L1447.0 293.0 L1448.4 294.8 L1449.9 296.9 L1451.4 299.3 L1452.9 301.9 L1454.3 304.7 L1455.8 307.7 L1457.3 310.9 L1458.8 314.1 L1460.2 317.4 L1461.7 320.7 L1463.2 324.0 L1464.7 327.4 L1466.1 330.8 L1467.6 334.1 L1469.1 337.4 L1470.6 340.7 L1472.0 344.0 L1473.5 347.1 L1475.0 350.3 L1476.5 353.4 L1477.9 356.4 L1479.4 359.3 L1480.9 362.2 L1482.4 365.0 L1483.9 367.7 L1485.3 370.4 L1486.8 373.0 L1488.3 375.5 L1489.8 377.9 L1491.2 380.3 L1492.7 382.6 L1494.2 384.9 L1495.7 387.1 L1497.1 389.2 L1498.6 391.2 L1500.1 393.2 L1501.6 395.2 L1503.0 397.0 L1504.5 398.9 L1506.0 400.6 L1507.5 402.3 L1508.9 404.0 L1510.4 405.6 L1511.9 407.2 L1513.4 408.7 L1514.8 410.2 L1516.3 411.6 L1517.8 413.0 L1519.3 414.4 L1520.8 415.7 L1522.2 416.9 L1523.7 418.2 L1525.2 419.4 L1526.7 420.5 L1528.1 421.7 L1529.6 422.8 L1531.1 423.8 L1532.6 424.9 L1534.0 425.9 L1535.5 426.9 L1537.0 427.8 L1538.5 428.8 L1539.9 429.7 L1541.4 430.5 L1542.9 431.4 L1544.4 432.2 L1545.8 433.1 L1547.3 433.8 L1548.8 434.6 L1550.3 435.4 L1551.7 436.1 L1553.2 436.8 L1554.7 437.5 L1556.2 438.2 L1557.7 438.8 L1559.1 439.5 L1560.6 440.1 L1562.1 440.7 L1563.6 441.3 L1565.0 441.9 L1566.5 442.5 L1568.0 443.1 L1569.5 443.6 L1570.9 444.1 L1572.4 444.6 L1573.9 445.2 L1575.4 445.6 L1576.8 446.1 L1578.3 446.6 L1579.8 447.1 L1581.3 447.5 L1582.7 448.0 L1584.2 448.4 L1585.7 448.8 L1587.2 449.2 L1588.6 449.6 L1590.1 450.0 L1591.6 450.4 L1593.1 450.8 L1594.6 451.2 L1596.0 451.5 L1597.5 451.9 L1599.0 452.3 L1600.5 452.6 L1601.9 452.9 L1603.4 453.3 L1604.9 453.6 L1606.4 453.9 L1607.8 454.2 L1609.3 454.5 L1610.8 454.8 L1612.3 455.1 L1613.7 455.4 L1615.2 455.7 L1616.7 456.0 L1618.2 456.2 L1619.6 456.5 L1621.1 456.8 L1622.6 457.0 L1624.1 457.3 L1625.5 457.5 L1627.0 457.7 L1628.5 458.0" stroke="#55aa22"/><path d="M1333.3 449.4 L1334.8 448.6 L1336.3 447.8 L1337.7 447.0 L1339.2 446.2 L1340.7 445.3 L1342.2 444.4 L1343.6 443.5 L1345.1 442.6 L1346.6 441.6 L1348.1 440.6 L1349.5 439.6 L1351.0 438.6 L1352.5 437.5 L1354.0 436.4 L1355.4 435.3 L1356.9 434.2 L1358.4 433.0 L1359.9 431.8 L1361.3 430.5 L1362.8 429.2 L1364.3 427.9 L1365.8 426.6 L1367.2 425.2 L1368.7 423.8 L1370.2 422.3 L1371.7 420.8 L1373.2 419.3 L1374.6 417.7 L1376.1 416.1 L1377.6 414.5 L1379.1 412.8 L1380.5 411.0 L1382.0 409.2 L1383.5 407.4 L1385.0 405.5 L1386.4 403.6 L1387.9 401.6 L1389.4 399.6 L1390.9 397.5 L1392.3 395.4 L1393.8 393.2 L1395.3 390.9 L1396.8 388.6 L1398.2 386.3 L1399.7 383.9 L1401.2 381.4 L1402.7 378.8 L1404.1 376.2 L1405.6 373.6 L1407.1 370.8 L1408.6 368.0 L1410.1 365.2 L1411.5 362.2 L1413.0 359.2 L1414.5 356.2 L1416.0 353.0 L1417.4 349.8 L1418.9 346.6 L1420.4 343.3 L1421.9 339.9 L1423.3 336.4 L1424.8 332.9 L1426.3 329.4 L1427.8 325.8 L1429.2 322.2 L1430.7 318.6 L1432.2 315.0 L1433.7 311.5 L1435.1 308.1 L1436.6 304.8 L1438.1 301.8 L1439.6 299.0 L1441.0 296.7 L1442.5 295.0 L1444.0 294.0 L1445.5 293.8 L1447.0 294.6 L1448.4 296.0 L1449.9 297.9 L1451.4 300.0 L1452.9 302.5 L1454.3 305.1 L1455.8 308.0 L1457.3 311.0 L1458.8 314.1 L1460.2 317.3 L1461.7 320.5 L1463.2 323.8 L1464.7 327.1 L1466.1 330.4 L1467.6 333.7 L1469.1 337.0 L1470.6 340.3 L1472.0 343.5 L1473.5 346.7 L1475.0 349.8 L1476.5 352.8 L1477.9 355.9 L1479.4 358.8 L1480.9 361.7 L1482.4 364.5 L1483.9 367.2 L1485.3 369.9 L1486.8 372.5 L1488.3 375.0 L1489.8 377.5 L1491.2 379.9 L1492.7 382.2 L1494.2 384.5 L1495.7 386.7 L1497.1 388.8 L1498.6 390.9 L1500.1 392.9 L1501.6 394.8 L1503.0 396.7 L1504.5 398.5 L1506.0 400.3 L1507.5 402.0 L1508.9 403.7 L1510.4 405.4 L1511.9 406.9 L1513.4 408.5 L1514.8 409.9 L1516.3 411.4 L1517.8 412.8 L1519.3 414.1 L1520.8 415.5 L1522.2 416.8 L1523.7 418.0 L1525.2 419.2 L1526.7 420.4 L1528.1 421.5 L1529.6 422.6 L1531.1 423.7 L1532.6 424.8 L1534.0 425.8 L1535.5 426.8 L1537.0 427.7 L1538.5 428.7 L1539.9 429.6 L1541.4 430.5 L1542.9 431.3 L1544.4 432.2 L1545.8 433.0 L1547.3 433.8 L1548.8 434.6 L1550.3 435.3 L1551.7 436.0 L1553.2 436.8 L1554.7 437.5 L1556.2 438.1 L1557.7 438.8 L1559.1 439.5 L1560.6 440.1 L1562.1 440.7 L1563.6 441.3 L1565.0 441.9 L1566.5 442.5 L1568.0 443.0 L1569.5 443.6 L1570.9 444.1 L1572.4 444.6 L1573.9 445.2 L1575.4 445.6 L1576.8 446.1 L1578.3 446.6 L1579.8 447.1 L1581.3 447.5 L1582.7 448.0 L1584.2 448.4 L1585.7 448.8 L1587.2 449.3 L1588.6 449.7 L1590.1 450.1 L1591.6 450.4 L1593.1 450.8 L1594.6 451.2 L1596.0 451.6 L1597.5 451.9 L1599.0 452.3 L1600.5 452.6 L1601.9 453.0 L1603.4 453.3 L1604.9 453.6 L1606.4 453.9 L1607.8 454.2 L1609.3 454.6 L1610.8 454.8 L1612.3 455.1 L1613.7 455.4 L1615.2 455.7 L1616.7 456.0 L1618.2 456.3 L1619.6 456.5 L1621.1 456.8 L1622.6 457.0 L1624.1 457.3 L1625.5 457.5 L1627.0 457.8 L1628.5 458.0" stroke="#ff3030"/></g>
<g clip-path="url(#cib)" fill="#ff3333"><rect x="1332.6" y="437.2" width="1.4" height="1.4"/><rect x="1333.5" y="433.2" width="1.4" height="1.4"/><rect x="1334.4" y="436.7" width="1.4" height="1.4"/><rect x="1335.3" y="433.3" width="1.4" height="1.4"/><rect x="1336.1" y="431.1" width="1.4" height="1.4"/><rect x="1337.0" y="433.6" width="1.4" height="1.4"/><rect x="1337.9" y="433.1" width="1.4" height="1.4"/><rect x="1338.8" y="433.1" width="1.4" height="1.4"/><rect x="1339.7" y="432.2" width="1.4" height="1.4"/><rect x="1340.6" y="431.9" width="1.4" height="1.4"/><rect x="1341.5" y="427.3" width="1.4" height="1.4"/><rect x="1342.3" y="429.9" width="1.4" height="1.4"/><rect x="1343.2" y="427.6" width="1.4" height="1.4"/><rect x="1344.1" y="426.1" width="1.4" height="1.4"/><rect x="1345.0" y="425.8" width="1.4" height="1.4"/><rect x="1345.9" y="423.2" width="1.4" height="1.4"/><rect x="1346.8" y="424.9" width="1.4" height="1.4"/><rect x="1347.7" y="423.4" width="1.4" height="1.4"/><rect x="1348.5" y="422.9" width="1.4" height="1.4"/><rect x="1349.4" y="422.1" width="1.4" height="1.4"/><rect x="1350.3" y="422.3" width="1.4" height="1.4"/><rect x="1351.2" y="421.2" width="1.4" height="1.4"/><rect x="1352.1" y="415.8" width="1.4" height="1.4"/><rect x="1353.0" y="419.3" width="1.4" height="1.4"/><rect x="1353.9" y="419.3" width="1.4" height="1.4"/><rect x="1354.7" y="418.4" width="1.4" height="1.4"/><rect x="1355.6" y="415.7" width="1.4" height="1.4"/><rect x="1356.5" y="414.2" width="1.4" height="1.4"/><rect x="1357.4" y="414.6" width="1.4" height="1.4"/><rect x="1358.3" y="412.0" width="1.4" height="1.4"/><rect x="1359.2" y="410.4" width="1.4" height="1.4"/><rect x="1360.1" y="410.1" width="1.4" height="1.4"/><rect x="1360.9" y="411.0" width="1.4" height="1.4"/><rect x="1361.8" y="408.8" width="1.4" height="1.4"/><rect x="1362.7" y="409.8" width="1.4" height="1.4"/><rect x="1363.6" y="405.3" width="1.4" height="1.4"/><rect x="1364.5" y="406.2" width="1.4" height="1.4"/><rect x="1365.4" y="404.2" width="1.4" height="1.4"/><rect x="1366.3" y="405.0" width="1.4" height="1.4"/><rect x="1367.1" y="401.9" width="1.4" height="1.4"/><rect x="1368.0" y="402.1" width="1.4" height="1.4"/><rect x="1368.9" y="402.0" width="1.4" height="1.4"/><rect x="1369.8" y="400.2" width="1.4" height="1.4"/><rect x="1370.7" y="395.2" width="1.4" height="1.4"/><rect x="1371.6" y="396.5" width="1.4" height="1.4"/><rect x="1372.5" y="396.3" width="1.4" height="1.4"/><rect x="1373.3" y="394.5" width="1.4" height="1.4"/><rect x="1374.2" y="392.3" width="1.4" height="1.4"/><rect x="1375.1" y="391.5" width="1.4" height="1.4"/><rect x="1376.0" y="390.6" width="1.4" height="1.4"/><rect x="1376.9" y="390.0" width="1.4" height="1.4"/><rect x="1377.8" y="389.1" width="1.4" height="1.4"/><rect x="1378.7" y="387.5" width="1.4" height="1.4"/><rect x="1379.5" y="381.9" width="1.4" height="1.4"/><rect x="1380.4" y="381.7" width="1.4" height="1.4"/><rect x="1381.3" y="381.8" width="1.4" height="1.4"/><rect x="1382.2" y="380.5" width="1.4" height="1.4"/><rect x="1383.1" y="376.1" width="1.4" height="1.4"/><rect x="1384.0" y="378.2" width="1.4" height="1.4"/><rect x="1384.9" y="373.9" width="1.4" height="1.4"/><rect x="1385.7" y="371.7" width="1.4" height="1.4"/><rect x="1386.6" y="372.9" width="1.4" height="1.4"/><rect x="1387.5" y="372.0" width="1.4" height="1.4"/><rect x="1388.4" y="370.7" width="1.4" height="1.4"/><rect x="1389.3" y="367.1" width="1.4" height="1.4"/><rect x="1390.2" y="365.1" width="1.4" height="1.4"/><rect x="1391.0" y="364.8" width="1.4" height="1.4"/><rect x="1391.9" y="361.8" width="1.4" height="1.4"/><rect x="1392.8" y="361.1" width="1.4" height="1.4"/><rect x="1393.7" y="359.9" width="1.4" height="1.4"/><rect x="1394.6" y="357.4" width="1.4" height="1.4"/><rect x="1395.5" y="353.2" width="1.4" height="1.4"/><rect x="1396.4" y="350.9" width="1.4" height="1.4"/><rect x="1397.2" y="346.9" width="1.4" height="1.4"/><rect x="1398.1" y="349.2" width="1.4" height="1.4"/><rect x="1399.0" y="347.3" width="1.4" height="1.4"/><rect x="1399.9" y="343.3" width="1.4" height="1.4"/><rect x="1400.8" y="343.1" width="1.4" height="1.4"/><rect x="1401.7" y="339.4" width="1.4" height="1.4"/><rect x="1402.6" y="338.3" width="1.4" height="1.4"/><rect x="1403.4" y="337.7" width="1.4" height="1.4"/><rect x="1404.3" y="333.3" width="1.4" height="1.4"/><rect x="1405.2" y="332.5" width="1.4" height="1.4"/><rect x="1406.1" y="331.3" width="1.4" height="1.4"/><rect x="1407.0" y="328.7" width="1.4" height="1.4"/><rect x="1407.9" y="323.5" width="1.4" height="1.4"/><rect x="1408.8" y="323.4" width="1.4" height="1.4"/><rect x="1409.6" y="318.8" width="1.4" height="1.4"/><rect x="1410.5" y="318.2" width="1.4" height="1.4"/><rect x="1411.4" y="314.4" width="1.4" height="1.4"/><rect x="1412.3" y="314.2" width="1.4" height="1.4"/><rect x="1413.2" y="311.1" width="1.4" height="1.4"/><rect x="1414.1" y="306.3" width="1.4" height="1.4"/><rect x="1415.0" y="303.9" width="1.4" height="1.4"/><rect x="1415.8" y="304.5" width="1.4" height="1.4"/><rect x="1416.7" y="301.1" width="1.4" height="1.4"/><rect x="1417.6" y="297.2" width="1.4" height="1.4"/><rect x="1418.5" y="296.5" width="1.4" height="1.4"/><rect x="1419.4" y="293.2" width="1.4" height="1.4"/><rect x="1420.3" y="290.6" width="1.4" height="1.4"/><rect x="1421.2" y="288.4" width="1.4" height="1.4"/><rect x="1422.0" y="280.6" width="1.4" height="1.4"/><rect x="1422.9" y="279.7" width="1.4" height="1.4"/><rect x="1423.8" y="277.8" width="1.4" height="1.4"/><rect x="1424.7" y="272.4" width="1.4" height="1.4"/><rect x="1425.6" y="272.9" width="1.4" height="1.4"/><rect x="1426.5" y="270.8" width="1.4" height="1.4"/><rect x="1427.4" y="269.0" width="1.4" height="1.4"/><rect x="1428.2" y="266.0" width="1.4" height="1.4"/><rect x="1429.1" y="265.5" width="1.4" height="1.4"/><rect x="1430.0" y="262.2" width="1.4" height="1.4"/><rect x="1430.9" y="257.6" width="1.4" height="1.4"/><rect x="1431.8" y="260.9" width="1.4" height="1.4"/><rect x="1432.7" y="257.0" width="1.4" height="1.4"/><rect x="1433.6" y="259.7" width="1.4" height="1.4"/><rect x="1434.4" y="261.2" width="1.4" height="1.4"/><rect x="1435.3" y="261.5" width="1.4" height="1.4"/><rect x="1436.2" y="263.5" width="1.4" height="1.4"/><rect x="1437.1" y="264.6" width="1.4" height="1.4"/><rect x="1438.0" y="263.8" width="1.4" height="1.4"/><rect x="1438.9" y="266.6" width="1.4" height="1.4"/><rect x="1439.8" y="268.2" width="1.4" height="1.4"/><rect x="1440.6" y="269.2" width="1.4" height="1.4"/><rect x="1441.5" y="273.1" width="1.4" height="1.4"/><rect x="1442.4" y="274.5" width="1.4" height="1.4"/><rect x="1443.3" y="275.4" width="1.4" height="1.4"/><rect x="1444.2" y="280.9" width="1.4" height="1.4"/><rect x="1445.1" y="280.3" width="1.4" height="1.4"/><rect x="1446.0" y="278.6" width="1.4" height="1.4"/><rect x="1446.8" y="285.0" width="1.4" height="1.4"/><rect x="1447.7" y="290.1" width="1.4" height="1.4"/><rect x="1448.6" y="291.4" width="1.4" height="1.4"/><rect x="1449.5" y="291.2" width="1.4" height="1.4"/><rect x="1450.4" y="292.8" width="1.4" height="1.4"/><rect x="1451.3" y="295.0" width="1.4" height="1.4"/><rect x="1452.2" y="298.3" width="1.4" height="1.4"/><rect x="1453.0" y="303.4" width="1.4" height="1.4"/><rect x="1453.9" y="296.0" width="1.4" height="1.4"/><rect x="1454.8" y="299.7" width="1.4" height="1.4"/><rect x="1455.7" y="309.4" width="1.4" height="1.4"/><rect x="1456.6" y="313.3" width="1.4" height="1.4"/><rect x="1457.5" y="309.8" width="1.4" height="1.4"/><rect x="1458.4" y="314.3" width="1.4" height="1.4"/><rect x="1459.2" y="318.7" width="1.4" height="1.4"/><rect x="1460.1" y="322.8" width="1.4" height="1.4"/><rect x="1461.0" y="321.7" width="1.4" height="1.4"/><rect x="1461.9" y="326.4" width="1.4" height="1.4"/><rect x="1462.8" y="321.4" width="1.4" height="1.4"/><rect x="1463.7" y="329.2" width="1.4" height="1.4"/><rect x="1464.6" y="323.5" width="1.4" height="1.4"/><rect x="1465.4" y="324.0" width="1.4" height="1.4"/><rect x="1466.3" y="330.2" width="1.4" height="1.4"/><rect x="1467.2" y="333.8" width="1.4" height="1.4"/><rect x="1468.1" y="340.8" width="1.4" height="1.4"/><rect x="1469.0" y="339.1" width="1.4" height="1.4"/><rect x="1469.9" y="339.6" width="1.4" height="1.4"/><rect x="1470.8" y="342.9" width="1.4" height="1.4"/><rect x="1471.6" y="345.4" width="1.4" height="1.4"/><rect x="1472.5" y="347.4" width="1.4" height="1.4"/><rect x="1473.4" y="351.7" width="1.4" height="1.4"/><rect x="1474.3" y="353.1" width="1.4" height="1.4"/><rect x="1475.2" y="351.4" width="1.4" height="1.4"/><rect x="1476.1" y="353.3" width="1.4" height="1.4"/><rect x="1477.0" y="358.8" width="1.4" height="1.4"/><rect x="1477.8" y="357.2" width="1.4" height="1.4"/><rect x="1478.7" y="357.2" width="1.4" height="1.4"/><rect x="1479.6" y="356.8" width="1.4" height="1.4"/><rect x="1480.5" y="359.9" width="1.4" height="1.4"/><rect x="1481.4" y="367.3" width="1.4" height="1.4"/><rect x="1482.3" y="368.5" width="1.4" height="1.4"/><rect x="1483.2" y="372.1" width="1.4" height="1.4"/><rect x="1484.0" y="368.6" width="1.4" height="1.4"/><rect x="1484.9" y="373.4" width="1.4" height="1.4"/><rect x="1485.8" y="370.9" width="1.4" height="1.4"/><rect x="1486.7" y="376.4" width="1.4" height="1.4"/><rect x="1487.6" y="368.6" width="1.4" height="1.4"/><rect x="1488.5" y="380.3" width="1.4" height="1.4"/><rect x="1489.4" y="376.1" width="1.4" height="1.4"/><rect x="1490.2" y="382.0" width="1.4" height="1.4"/><rect x="1491.1" y="380.8" width="1.4" height="1.4"/><rect x="1492.0" y="383.6" width="1.4" height="1.4"/><rect x="1492.9" y="383.5" width="1.4" height="1.4"/><rect x="1493.8" y="387.9" width="1.4" height="1.4"/><rect x="1494.7" y="385.4" width="1.4" height="1.4"/><rect x="1495.6" y="389.8" width="1.4" height="1.4"/><rect x="1496.4" y="391.8" width="1.4" height="1.4"/><rect x="1497.3" y="386.6" width="1.4" height="1.4"/><rect x="1498.2" y="385.7" width="1.4" height="1.4"/><rect x="1499.1" y="393.3" width="1.4" height="1.4"/><rect x="1500.0" y="392.6" width="1.4" height="1.4"/><rect x="1500.9" y="393.7" width="1.4" height="1.4"/><rect x="1501.7" y="397.7" width="1.4" height="1.4"/><rect x="1502.6" y="392.2" width="1.4" height="1.4"/><rect x="1503.5" y="398.9" width="1.4" height="1.4"/><rect x="1504.4" y="401.4" width="1.4" height="1.4"/><rect x="1505.3" y="398.5" width="1.4" height="1.4"/><rect x="1506.2" y="398.8" width="1.4" height="1.4"/><rect x="1507.1" y="402.9" width="1.4" height="1.4"/><rect x="1507.9" y="405.1" width="1.4" height="1.4"/><rect x="1508.8" y="405.7" width="1.4" height="1.4"/><rect x="1509.7" y="398.1" width="1.4" height="1.4"/><rect x="1510.6" y="407.2" width="1.4" height="1.4"/><rect x="1511.5" y="399.8" width="1.4" height="1.4"/><rect x="1512.4" y="403.0" width="1.4" height="1.4"/><rect x="1513.3" y="410.2" width="1.4" height="1.4"/><rect x="1514.1" y="406.5" width="1.4" height="1.4"/><rect x="1515.0" y="411.4" width="1.4" height="1.4"/><rect x="1515.9" y="408.4" width="1.4" height="1.4"/><rect x="1516.8" y="412.2" width="1.4" height="1.4"/><rect x="1517.7" y="409.5" width="1.4" height="1.4"/><rect x="1518.6" y="412.3" width="1.4" height="1.4"/><rect x="1519.5" y="415.7" width="1.4" height="1.4"/><rect x="1520.3" y="413.5" width="1.4" height="1.4"/><rect x="1521.2" y="412.8" width="1.4" height="1.4"/><rect x="1522.1" y="401.1" width="1.4" height="1.4"/><rect x="1523.0" y="416.9" width="1.4" height="1.4"/><rect x="1523.9" y="409.5" width="1.4" height="1.4"/><rect x="1524.8" y="419.0" width="1.4" height="1.4"/><rect x="1525.7" y="415.8" width="1.4" height="1.4"/><rect x="1526.5" y="420.6" width="1.4" height="1.4"/><rect x="1527.4" y="414.4" width="1.4" height="1.4"/><rect x="1528.3" y="413.2" width="1.4" height="1.4"/><rect x="1529.2" y="422.0" width="1.4" height="1.4"/><rect x="1530.1" y="423.1" width="1.4" height="1.4"/><rect x="1531.0" y="414.0" width="1.4" height="1.4"/><rect x="1531.9" y="421.2" width="1.4" height="1.4"/><rect x="1532.7" y="425.1" width="1.4" height="1.4"/><rect x="1533.6" y="423.1" width="1.4" height="1.4"/><rect x="1534.5" y="422.5" width="1.4" height="1.4"/><rect x="1535.4" y="409.6" width="1.4" height="1.4"/><rect x="1536.3" y="425.3" width="1.4" height="1.4"/><rect x="1537.2" y="418.2" width="1.4" height="1.4"/><rect x="1538.1" y="423.4" width="1.4" height="1.4"/><rect x="1538.9" y="427.0" width="1.4" height="1.4"/><rect x="1539.8" y="427.4" width="1.4" height="1.4"/><rect x="1540.7" y="429.5" width="1.4" height="1.4"/><rect x="1541.6" y="424.8" width="1.4" height="1.4"/><rect x="1542.5" y="428.0" width="1.4" height="1.4"/><rect x="1543.4" y="428.7" width="1.4" height="1.4"/><rect x="1544.3" y="424.5" width="1.4" height="1.4"/><rect x="1545.1" y="427.8" width="1.4" height="1.4"/><rect x="1546.0" y="430.6" width="1.4" height="1.4"/><rect x="1546.9" y="428.5" width="1.4" height="1.4"/><rect x="1547.8" y="430.9" width="1.4" height="1.4"/><rect x="1548.7" y="432.1" width="1.4" height="1.4"/><rect x="1549.6" y="434.3" width="1.4" height="1.4"/><rect x="1550.5" y="433.6" width="1.4" height="1.4"/><rect x="1551.3" y="424.2" width="1.4" height="1.4"/><rect x="1552.2" y="432.3" width="1.4" height="1.4"/><rect x="1553.1" y="433.5" width="1.4" height="1.4"/><rect x="1554.0" y="432.5" width="1.4" height="1.4"/><rect x="1554.9" y="431.6" width="1.4" height="1.4"/><rect x="1555.8" y="436.1" width="1.4" height="1.4"/><rect x="1556.7" y="436.6" width="1.4" height="1.4"/><rect x="1557.5" y="435.3" width="1.4" height="1.4"/><rect x="1558.4" y="435.2" width="1.4" height="1.4"/><rect x="1559.3" y="433.0" width="1.4" height="1.4"/><rect x="1560.2" y="432.8" width="1.4" height="1.4"/><rect x="1561.1" y="438.2" width="1.4" height="1.4"/><rect x="1562.0" y="438.6" width="1.4" height="1.4"/><rect x="1562.9" y="427.3" width="1.4" height="1.4"/><rect x="1563.7" y="434.3" width="1.4" height="1.4"/><rect x="1564.6" y="439.4" width="1.4" height="1.4"/><rect x="1565.5" y="436.1" width="1.4" height="1.4"/><rect x="1566.4" y="440.4" width="1.4" height="1.4"/><rect x="1567.3" y="438.0" width="1.4" height="1.4"/><rect x="1568.2" y="440.9" width="1.4" height="1.4"/><rect x="1569.1" y="438.1" width="1.4" height="1.4"/><rect x="1569.9" y="435.5" width="1.4" height="1.4"/><rect x="1570.8" y="441.6" width="1.4" height="1.4"/><rect x="1571.7" y="442.0" width="1.4" height="1.4"/><rect x="1572.6" y="443.0" width="1.4" height="1.4"/><rect x="1573.5" y="441.4" width="1.4" height="1.4"/><rect x="1574.4" y="443.8" width="1.4" height="1.4"/><rect x="1575.3" y="438.1" width="1.4" height="1.4"/><rect x="1576.1" y="440.4" width="1.4" height="1.4"/><rect x="1577.0" y="435.5" width="1.4" height="1.4"/><rect x="1577.9" y="435.8" width="1.4" height="1.4"/><rect x="1578.8" y="438.4" width="1.4" height="1.4"/><rect x="1579.7" y="440.3" width="1.4" height="1.4"/><rect x="1580.6" y="437.6" width="1.4" height="1.4"/><rect x="1581.5" y="442.2" width="1.4" height="1.4"/><rect x="1582.3" y="446.0" width="1.4" height="1.4"/><rect x="1583.2" y="436.6" width="1.4" height="1.4"/><rect x="1584.1" y="441.0" width="1.4" height="1.4"/><rect x="1585.0" y="442.5" width="1.4" height="1.4"/><rect x="1585.9" y="445.7" width="1.4" height="1.4"/><rect x="1586.8" y="446.6" width="1.4" height="1.4"/><rect x="1587.7" y="443.0" width="1.4" height="1.4"/><rect x="1588.5" y="445.6" width="1.4" height="1.4"/><rect x="1589.4" y="445.6" width="1.4" height="1.4"/><rect x="1590.3" y="442.7" width="1.4" height="1.4"/><rect x="1591.2" y="442.0" width="1.4" height="1.4"/><rect x="1592.1" y="441.4" width="1.4" height="1.4"/><rect x="1593.0" y="446.3" width="1.4" height="1.4"/><rect x="1593.9" y="447.5" width="1.4" height="1.4"/><rect x="1594.7" y="443.1" width="1.4" height="1.4"/><rect x="1595.6" y="443.6" width="1.4" height="1.4"/><rect x="1596.5" y="449.4" width="1.4" height="1.4"/><rect x="1597.4" y="448.9" width="1.4" height="1.4"/><rect x="1598.3" y="441.4" width="1.4" height="1.4"/><rect x="1599.2" y="447.6" width="1.4" height="1.4"/><rect x="1600.1" y="447.9" width="1.4" height="1.4"/><rect x="1600.9" y="444.3" width="1.4" height="1.4"/><rect x="1601.8" y="446.1" width="1.4" height="1.4"/><rect x="1602.7" y="442.7" width="1.4" height="1.4"/><rect x="1603.6" y="444.3" width="1.4" height="1.4"/><rect x="1604.5" y="442.9" width="1.4" height="1.4"/><rect x="1605.4" y="444.5" width="1.4" height="1.4"/><rect x="1606.3" y="449.9" width="1.4" height="1.4"/><rect x="1607.1" y="445.7" width="1.4" height="1.4"/><rect x="1608.0" y="450.9" width="1.4" height="1.4"/><rect x="1608.9" y="450.1" width="1.4" height="1.4"/><rect x="1609.8" y="449.6" width="1.4" height="1.4"/><rect x="1610.7" y="439.2" width="1.4" height="1.4"/><rect x="1611.6" y="441.1" width="1.4" height="1.4"/><rect x="1612.4" y="446.6" width="1.4" height="1.4"/><rect x="1613.3" y="447.9" width="1.4" height="1.4"/><rect x="1614.2" y="452.7" width="1.4" height="1.4"/><rect x="1615.1" y="444.5" width="1.4" height="1.4"/><rect x="1616.0" y="451.2" width="1.4" height="1.4"/><rect x="1616.9" y="450.2" width="1.4" height="1.4"/><rect x="1617.8" y="452.8" width="1.4" height="1.4"/><rect x="1618.6" y="452.5" width="1.4" height="1.4"/><rect x="1619.5" y="452.1" width="1.4" height="1.4"/><rect x="1620.4" y="448.1" width="1.4" height="1.4"/><rect x="1621.3" y="453.9" width="1.4" height="1.4"/><rect x="1622.2" y="452.0" width="1.4" height="1.4"/><rect x="1623.1" y="454.8" width="1.4" height="1.4"/><rect x="1624.0" y="453.1" width="1.4" height="1.4"/><rect x="1624.8" y="450.4" width="1.4" height="1.4"/><rect x="1625.7" y="454.1" width="1.4" height="1.4"/><rect x="1626.6" y="454.0" width="1.4" height="1.4"/><rect x="1627.5" y="454.4" width="1.4" height="1.4"/></g>
<g clip-path="url(#cib)" fill="#2a7fff"><rect x="1456.7" y="311.3" width="1.2" height="1.2"/><rect x="1457.9" y="315.8" width="1.2" height="1.2"/><rect x="1459.0" y="317.7" width="1.2" height="1.2"/><rect x="1460.2" y="318.5" width="1.2" height="1.2"/><rect x="1461.4" y="324.7" width="1.2" height="1.2"/><rect x="1462.6" y="327.5" width="1.2" height="1.2"/><rect x="1463.8" y="329.8" width="1.2" height="1.2"/><rect x="1464.9" y="332.5" width="1.2" height="1.2"/><rect x="1466.1" y="334.2" width="1.2" height="1.2"/><rect x="1467.3" y="338.2" width="1.2" height="1.2"/><rect x="1468.5" y="341.2" width="1.2" height="1.2"/><rect x="1469.7" y="342.6" width="1.2" height="1.2"/><rect x="1470.9" y="348.7" width="1.2" height="1.2"/><rect x="1472.0" y="349.9" width="1.2" height="1.2"/><rect x="1473.2" y="348.6" width="1.2" height="1.2"/><rect x="1474.4" y="351.7" width="1.2" height="1.2"/><rect x="1475.6" y="352.9" width="1.2" height="1.2"/><rect x="1476.8" y="360.2" width="1.2" height="1.2"/><rect x="1477.9" y="363.3" width="1.2" height="1.2"/><rect x="1479.1" y="365.1" width="1.2" height="1.2"/><rect x="1480.3" y="365.4" width="1.2" height="1.2"/><rect x="1481.5" y="363.3" width="1.2" height="1.2"/><rect x="1482.7" y="370.9" width="1.2" height="1.2"/><rect x="1483.8" y="372.3" width="1.2" height="1.2"/><rect x="1485.0" y="370.4" width="1.2" height="1.2"/><rect x="1486.2" y="377.2" width="1.2" height="1.2"/><rect x="1487.4" y="377.1" width="1.2" height="1.2"/><rect x="1488.6" y="380.8" width="1.2" height="1.2"/><rect x="1489.7" y="379.7" width="1.2" height="1.2"/><rect x="1490.9" y="385.1" width="1.2" height="1.2"/><rect x="1492.1" y="382.1" width="1.2" height="1.2"/><rect x="1493.3" y="387.5" width="1.2" height="1.2"/><rect x="1494.5" y="386.9" width="1.2" height="1.2"/><rect x="1495.7" y="389.8" width="1.2" height="1.2"/><rect x="1496.8" y="388.5" width="1.2" height="1.2"/><rect x="1498.0" y="389.4" width="1.2" height="1.2"/><rect x="1499.2" y="395.5" width="1.2" height="1.2"/><rect x="1500.4" y="395.0" width="1.2" height="1.2"/><rect x="1501.6" y="393.0" width="1.2" height="1.2"/><rect x="1502.7" y="400.4" width="1.2" height="1.2"/><rect x="1503.9" y="401.1" width="1.2" height="1.2"/><rect x="1505.1" y="399.7" width="1.2" height="1.2"/><rect x="1506.3" y="401.3" width="1.2" height="1.2"/><rect x="1507.5" y="404.5" width="1.2" height="1.2"/><rect x="1508.6" y="405.0" width="1.2" height="1.2"/><rect x="1509.8" y="405.9" width="1.2" height="1.2"/><rect x="1511.0" y="407.5" width="1.2" height="1.2"/><rect x="1512.2" y="404.5" width="1.2" height="1.2"/><rect x="1513.4" y="409.1" width="1.2" height="1.2"/><rect x="1514.5" y="412.1" width="1.2" height="1.2"/><rect x="1515.7" y="412.4" width="1.2" height="1.2"/><rect x="1516.9" y="413.3" width="1.2" height="1.2"/><rect x="1518.1" y="410.1" width="1.2" height="1.2"/><rect x="1519.3" y="411.8" width="1.2" height="1.2"/><rect x="1520.4" y="411.8" width="1.2" height="1.2"/><rect x="1521.6" y="414.9" width="1.2" height="1.2"/><rect x="1522.8" y="417.4" width="1.2" height="1.2"/><rect x="1524.0" y="417.5" width="1.2" height="1.2"/><rect x="1525.2" y="417.4" width="1.2" height="1.2"/><rect x="1526.4" y="419.8" width="1.2" height="1.2"/><rect x="1527.5" y="417.2" width="1.2" height="1.2"/><rect x="1528.7" y="417.8" width="1.2" height="1.2"/><rect x="1529.9" y="421.1" width="1.2" height="1.2"/><rect x="1531.1" y="423.8" width="1.2" height="1.2"/><rect x="1532.3" y="425.3" width="1.2" height="1.2"/><rect x="1533.4" y="425.5" width="1.2" height="1.2"/><rect x="1534.6" y="426.3" width="1.2" height="1.2"/><rect x="1535.8" y="426.3" width="1.2" height="1.2"/><rect x="1537.0" y="426.7" width="1.2" height="1.2"/><rect x="1538.2" y="425.7" width="1.2" height="1.2"/><rect x="1539.3" y="428.7" width="1.2" height="1.2"/><rect x="1540.5" y="428.2" width="1.2" height="1.2"/><rect x="1541.7" y="427.5" width="1.2" height="1.2"/><rect x="1542.9" y="431.8" width="1.2" height="1.2"/><rect x="1544.1" y="431.1" width="1.2" height="1.2"/><rect x="1545.2" y="432.1" width="1.2" height="1.2"/><rect x="1546.4" y="426.9" width="1.2" height="1.2"/><rect x="1547.6" y="432.9" width="1.2" height="1.2"/><rect x="1548.8" y="430.9" width="1.2" height="1.2"/><rect x="1550.0" y="432.3" width="1.2" height="1.2"/><rect x="1551.1" y="431.4" width="1.2" height="1.2"/><rect x="1552.3" y="430.9" width="1.2" height="1.2"/><rect x="1553.5" y="436.4" width="1.2" height="1.2"/><rect x="1554.7" y="436.5" width="1.2" height="1.2"/><rect x="1555.9" y="438.0" width="1.2" height="1.2"/><rect x="1557.1" y="435.0" width="1.2" height="1.2"/><rect x="1558.2" y="436.5" width="1.2" height="1.2"/><rect x="1559.4" y="435.2" width="1.2" height="1.2"/><rect x="1560.6" y="438.8" width="1.2" height="1.2"/><rect x="1561.8" y="438.3" width="1.2" height="1.2"/><rect x="1563.0" y="440.0" width="1.2" height="1.2"/><rect x="1564.1" y="439.0" width="1.2" height="1.2"/><rect x="1565.3" y="440.1" width="1.2" height="1.2"/><rect x="1566.5" y="440.7" width="1.2" height="1.2"/><rect x="1567.7" y="440.7" width="1.2" height="1.2"/><rect x="1568.9" y="437.9" width="1.2" height="1.2"/><rect x="1570.0" y="440.1" width="1.2" height="1.2"/><rect x="1571.2" y="442.9" width="1.2" height="1.2"/><rect x="1572.4" y="442.7" width="1.2" height="1.2"/><rect x="1573.6" y="443.9" width="1.2" height="1.2"/><rect x="1574.8" y="439.2" width="1.2" height="1.2"/><rect x="1575.9" y="443.4" width="1.2" height="1.2"/><rect x="1577.1" y="443.7" width="1.2" height="1.2"/><rect x="1578.3" y="445.9" width="1.2" height="1.2"/><rect x="1579.5" y="442.4" width="1.2" height="1.2"/><rect x="1580.7" y="447.1" width="1.2" height="1.2"/><rect x="1581.8" y="445.7" width="1.2" height="1.2"/><rect x="1583.0" y="446.0" width="1.2" height="1.2"/><rect x="1584.2" y="447.8" width="1.2" height="1.2"/><rect x="1585.4" y="446.1" width="1.2" height="1.2"/><rect x="1586.6" y="447.3" width="1.2" height="1.2"/><rect x="1587.8" y="444.5" width="1.2" height="1.2"/><rect x="1588.9" y="442.0" width="1.2" height="1.2"/><rect x="1590.1" y="446.4" width="1.2" height="1.2"/><rect x="1591.3" y="448.4" width="1.2" height="1.2"/><rect x="1592.5" y="445.4" width="1.2" height="1.2"/><rect x="1593.7" y="448.2" width="1.2" height="1.2"/><rect x="1594.8" y="446.9" width="1.2" height="1.2"/><rect x="1596.0" y="450.8" width="1.2" height="1.2"/><rect x="1597.2" y="448.4" width="1.2" height="1.2"/><rect x="1598.4" y="450.2" width="1.2" height="1.2"/><rect x="1599.6" y="451.3" width="1.2" height="1.2"/><rect x="1600.7" y="451.8" width="1.2" height="1.2"/><rect x="1601.9" y="451.2" width="1.2" height="1.2"/><rect x="1603.1" y="445.8" width="1.2" height="1.2"/><rect x="1604.3" y="452.9" width="1.2" height="1.2"/><rect x="1605.5" y="450.1" width="1.2" height="1.2"/><rect x="1606.6" y="450.4" width="1.2" height="1.2"/><rect x="1607.8" y="451.0" width="1.2" height="1.2"/><rect x="1609.0" y="450.0" width="1.2" height="1.2"/><rect x="1610.2" y="448.4" width="1.2" height="1.2"/><rect x="1611.4" y="451.3" width="1.2" height="1.2"/><rect x="1612.5" y="451.2" width="1.2" height="1.2"/><rect x="1613.7" y="451.1" width="1.2" height="1.2"/><rect x="1614.9" y="455.0" width="1.2" height="1.2"/><rect x="1616.1" y="454.4" width="1.2" height="1.2"/><rect x="1617.3" y="445.9" width="1.2" height="1.2"/><rect x="1618.5" y="453.8" width="1.2" height="1.2"/><rect x="1619.6" y="450.1" width="1.2" height="1.2"/><rect x="1620.8" y="450.3" width="1.2" height="1.2"/><rect x="1622.0" y="454.5" width="1.2" height="1.2"/><rect x="1623.2" y="455.5" width="1.2" height="1.2"/><rect x="1624.4" y="454.8" width="1.2" height="1.2"/><rect x="1625.5" y="451.6" width="1.2" height="1.2"/><rect x="1626.7" y="451.4" width="1.2" height="1.2"/></g>
<path clip-path="url(#cib)" fill="none" stroke="#ff3030" stroke-width="2.2" d="M1445.5 293.8 L1447.0 294.6 L1448.4 296.0 L1449.9 297.9 L1451.4 300.0 L1452.9 302.5 L1454.3 305.1 L1455.8 308.0 L1457.3 311.0 L1458.8 314.1 L1460.2 317.3 L1461.7 320.5 L1463.2 323.8 L1464.7 327.1 L1466.1 330.4 L1467.6 333.7 L1469.1 337.0 L1470.6 340.3 L1472.0 343.5 L1473.5 346.7 L1475.0 349.8 L1476.5 352.8 L1477.9 355.9 L1479.4 358.8 L1480.9 361.7 L1482.4 364.5 L1483.9 367.2 L1485.3 369.9 L1486.8 372.5 L1488.3 375.0 L1489.8 377.5 L1491.2 379.9 L1492.7 382.2 L1494.2 384.5 L1495.7 386.7 L1497.1 388.8 L1498.6 390.9 L1500.1 392.9 L1501.6 394.8 L1503.0 396.7 L1504.5 398.5 L1506.0 400.3 L1507.5 402.0 L1508.9 403.7 L1510.4 405.4 L1511.9 406.9 L1513.4 408.5 L1514.8 409.9 L1516.3 411.4 L1517.8 412.8 L1519.3 414.1 L1520.8 415.5 L1522.2 416.8 L1523.7 418.0 L1525.2 419.2 L1526.7 420.4 L1528.1 421.5 L1529.6 422.6 L1531.1 423.7 L1532.6 424.8 L1534.0 425.8 L1535.5 426.8 L1537.0 427.7 L1538.5 428.7 L1539.9 429.6 L1541.4 430.5 L1542.9 431.3 L1544.4 432.2 L1545.8 433.0 L1547.3 433.8 L1548.8 434.6 L1550.3 435.3 L1551.7 436.0 L1553.2 436.8 L1554.7 437.5 L1556.2 438.1 L1557.7 438.8 L1559.1 439.5 L1560.6 440.1 L1562.1 440.7 L1563.6 441.3 L1565.0 441.9 L1566.5 442.5 L1568.0 443.0 L1569.5 443.6 L1570.9 444.1 L1572.4 444.6 L1573.9 445.2 L1575.4 445.6 L1576.8 446.1 L1578.3 446.6 L1579.8 447.1 L1581.3 447.5 L1582.7 448.0 L1584.2 448.4 L1585.7 448.8 L1587.2 449.3 L1588.6 449.7 L1590.1 450.1 L1591.6 450.4 L1593.1 450.8 L1594.6 451.2 L1596.0 451.6 L1597.5 451.9 L1599.0 452.3 L1600.5 452.6 L1601.9 453.0 L1603.4 453.3 L1604.9 453.6 L1606.4 453.9 L1607.8 454.2 L1609.3 454.6 L1610.8 454.8 L1612.3 455.1 L1613.7 455.4 L1615.2 455.7 L1616.7 456.0 L1618.2 456.3 L1619.6 456.5 L1621.1 456.8 L1622.6 457.0 L1624.1 457.3 L1625.5 457.5 L1627.0 457.8 L1628.5 458.0"/>
<g clip-path="url(#cib)"><rect x="1481.6" y="389.3" width="1.6" height="1.6" fill="#2a7fff"/><rect x="1338.0" y="452.4" width="1.6" height="1.6" fill="#2ca05a"/><rect x="1583.9" y="454.7" width="1.6" height="1.6" fill="#b07cf0"/><rect x="1491.1" y="399.8" width="1.6" height="1.6" fill="#d4a000"/><rect x="1475.2" y="388.3" width="1.6" height="1.6" fill="#22cccc"/><rect x="1419.3" y="346.0" width="1.6" height="1.6" fill="#8b4a3a"/><rect x="1409.6" y="395.4" width="1.6" height="1.6" fill="#ff6a00"/><rect x="1544.4" y="441.3" width="1.6" height="1.6" fill="#888888"/><rect x="1455.5" y="316.7" width="1.6" height="1.6" fill="#2a7fff"/><rect x="1437.9" y="325.5" width="1.6" height="1.6" fill="#2ca05a"/><rect x="1553.3" y="448.7" width="1.6" height="1.6" fill="#b07cf0"/><rect x="1392.3" y="408.2" width="1.6" height="1.6" fill="#d4a000"/><rect x="1378.5" y="419.1" width="1.6" height="1.6" fill="#22cccc"/><rect x="1496.2" y="397.8" width="1.6" height="1.6" fill="#8b4a3a"/><rect x="1491.0" y="396.0" width="1.6" height="1.6" fill="#ff6a00"/><rect x="1467.1" y="340.3" width="1.6" height="1.6" fill="#888888"/><rect x="1544.7" y="441.3" width="1.6" height="1.6" fill="#2a7fff"/><rect x="1338.0" y="441.4" width="1.6" height="1.6" fill="#2ca05a"/><rect x="1477.6" y="371.3" width="1.6" height="1.6" fill="#b07cf0"/><rect x="1500.1" y="407.8" width="1.6" height="1.6" fill="#d4a000"/><rect x="1529.5" y="434.5" width="1.6" height="1.6" fill="#22cccc"/><rect x="1557.9" y="440.5" width="1.6" height="1.6" fill="#8b4a3a"/><rect x="1614.8" y="458.9" width="1.6" height="1.6" fill="#ff6a00"/><rect x="1466.3" y="360.8" width="1.6" height="1.6" fill="#888888"/><rect x="1399.9" y="381.6" width="1.6" height="1.6" fill="#2a7fff"/><rect x="1481.0" y="388.9" width="1.6" height="1.6" fill="#2ca05a"/><rect x="1585.4" y="451.7" width="1.6" height="1.6" fill="#b07cf0"/><rect x="1615.4" y="457.6" width="1.6" height="1.6" fill="#d4a000"/><rect x="1473.0" y="387.0" width="1.6" height="1.6" fill="#22cccc"/><rect x="1576.2" y="449.3" width="1.6" height="1.6" fill="#8b4a3a"/><rect x="1382.0" y="405.2" width="1.6" height="1.6" fill="#ff6a00"/><rect x="1515.2" y="419.9" width="1.6" height="1.6" fill="#888888"/><rect x="1473.8" y="382.5" width="1.6" height="1.6" fill="#2a7fff"/><rect x="1417.1" y="354.6" width="1.6" height="1.6" fill="#2ca05a"/><rect x="1599.8" y="454.8" width="1.6" height="1.6" fill="#b07cf0"/><rect x="1606.7" y="460.1" width="1.6" height="1.6" fill="#d4a000"/><rect x="1380.5" y="410.8" width="1.6" height="1.6" fill="#22cccc"/><rect x="1343.4" y="441.2" width="1.6" height="1.6" fill="#8b4a3a"/><rect x="1585.8" y="455.9" width="1.6" height="1.6" fill="#ff6a00"/><rect x="1599.7" y="452.8" width="1.6" height="1.6" fill="#888888"/><rect x="1342.3" y="443.8" width="1.6" height="1.6" fill="#2a7fff"/><rect x="1490.8" y="389.3" width="1.6" height="1.6" fill="#2ca05a"/><rect x="1491.5" y="405.4" width="1.6" height="1.6" fill="#b07cf0"/><rect x="1546.9" y="438.0" width="1.6" height="1.6" fill="#d4a000"/><rect x="1396.5" y="393.8" width="1.6" height="1.6" fill="#22cccc"/><rect x="1372.6" y="429.0" width="1.6" height="1.6" fill="#8b4a3a"/><rect x="1554.0" y="446.0" width="1.6" height="1.6" fill="#ff6a00"/><rect x="1337.1" y="450.1" width="1.6" height="1.6" fill="#888888"/><rect x="1589.6" y="452.3" width="1.6" height="1.6" fill="#2a7fff"/><rect x="1342.9" y="445.2" width="1.6" height="1.6" fill="#2ca05a"/><rect x="1583.2" y="451.2" width="1.6" height="1.6" fill="#b07cf0"/><rect x="1359.4" y="423.6" width="1.6" height="1.6" fill="#d4a000"/><rect x="1513.8" y="420.8" width="1.6" height="1.6" fill="#22cccc"/><rect x="1395.1" y="407.6" width="1.6" height="1.6" fill="#8b4a3a"/><rect x="1384.9" y="418.3" width="1.6" height="1.6" fill="#ff6a00"/><rect x="1557.8" y="446.3" width="1.6" height="1.6" fill="#888888"/><rect x="1485.2" y="402.8" width="1.6" height="1.6" fill="#2a7fff"/><rect x="1358.6" y="438.5" width="1.6" height="1.6" fill="#2ca05a"/><rect x="1389.4" y="393.5" width="1.6" height="1.6" fill="#b07cf0"/><rect x="1485.4" y="385.8" width="1.6" height="1.6" fill="#d4a000"/><rect x="1566.4" y="446.1" width="1.6" height="1.6" fill="#22cccc"/><rect x="1409.1" y="375.7" width="1.6" height="1.6" fill="#8b4a3a"/><rect x="1387.1" y="404.3" width="1.6" height="1.6" fill="#ff6a00"/><rect x="1500.8" y="404.0" width="1.6" height="1.6" fill="#888888"/><rect x="1547.7" y="446.4" width="1.6" height="1.6" fill="#2a7fff"/><rect x="1402.9" y="395.1" width="1.6" height="1.6" fill="#2ca05a"/><rect x="1519.5" y="425.6" width="1.6" height="1.6" fill="#b07cf0"/><rect x="1512.5" y="410.9" width="1.6" height="1.6" fill="#d4a000"/><rect x="1468.0" y="375.9" width="1.6" height="1.6" fill="#22cccc"/><rect x="1432.7" y="290.3" width="1.6" height="1.6" fill="#8b4a3a"/></g>
<path d="M1328.8 478.7H1333.3M1624.0 478.7H1628.5M1331.1 472.4H1333.3M1626.3 472.4H1628.5M1331.1 466.0H1333.3M1626.3 466.0H1628.5M1331.1 459.7H1333.3M1626.3 459.7H1628.5M1331.1 453.4H1333.3M1626.3 453.4H1628.5M1328.8 447.0H1333.3M1624.0 447.0H1628.5M1331.1 440.7H1333.3M1626.3 440.7H1628.5M1331.1 434.4H1333.3M1626.3 434.4H1628.5M1331.1 428.0H1333.3M1626.3 428.0H1628.5M1331.1 421.7H1333.3M1626.3 421.7H1628.5M1328.8 415.4H1333.3M1624.0 415.4H1628.5M1331.1 409.0H1333.3M1626.3 409.0H1628.5M1331.1 402.7H1333.3M1626.3 402.7H1628.5M1331.1 396.4H1333.3M1626.3 396.4H1628.5M1331.1 390.0H1333.3M1626.3 390.0H1628.5M1328.8 383.7H1333.3M1624.0 383.7H1628.5M1331.1 377.4H1333.3M1626.3 377.4H1628.5M1331.1 371.0H1333.3M1626.3 371.0H1628.5M1331.1 364.7H1333.3M1626.3 364.7H1628.5M1331.1 358.3H1333.3M1626.3 358.3H1628.5M1328.8 352.0H1333.3M1624.0 352.0H1628.5M1331.1 345.7H1333.3M1626.3 345.7H1628.5M1331.1 339.3H1333.3M1626.3 339.3H1628.5M1331.1 333.0H1333.3M1626.3 333.0H1628.5M1331.1 326.7H1333.3M1626.3 326.7H1628.5M1328.8 320.3H1333.3M1624.0 320.3H1628.5M1331.1 314.0H1333.3M1626.3 314.0H1628.5M1331.1 307.7H1333.3M1626.3 307.7H1628.5M1331.1 301.3H1333.3M1626.3 301.3H1628.5M1331.1 295.0H1333.3M1626.3 295.0H1628.5M1328.8 288.7H1333.3M1624.0 288.7H1628.5M1331.1 282.3H1333.3M1626.3 282.3H1628.5M1331.1 276.0H1333.3M1626.3 276.0H1628.5M1331.1 269.7H1333.3M1626.3 269.7H1628.5M1331.1 263.3H1333.3M1626.3 263.3H1628.5M1328.8 257.0H1333.3M1624.0 257.0H1628.5M1331.1 250.7H1333.3M1626.3 250.7H1628.5M1331.1 244.3H1333.3M1626.3 244.3H1628.5M1331.1 238.0H1333.3M1626.3 238.0H1628.5M1339.2 478.7V480.9M1339.2 238.0V240.2M1354.0 478.7V483.2M1354.0 238.0V242.5M1368.7 478.7V480.9M1368.7 238.0V240.2M1383.5 478.7V480.9M1383.5 238.0V240.2M1398.2 478.7V480.9M1398.2 238.0V240.2M1413.0 478.7V480.9M1413.0 238.0V240.2M1427.8 478.7V483.2M1427.8 238.0V242.5M1442.5 478.7V480.9M1442.5 238.0V240.2M1457.3 478.7V480.9M1457.3 238.0V240.2M1472.0 478.7V480.9M1472.0 238.0V240.2M1486.8 478.7V480.9M1486.8 238.0V240.2M1501.6 478.7V483.2M1501.6 238.0V242.5M1516.3 478.7V480.9M1516.3 238.0V240.2M1531.1 478.7V480.9M1531.1 238.0V240.2M1545.8 478.7V480.9M1545.8 238.0V240.2M1560.6 478.7V480.9M1560.6 238.0V240.2M1575.4 478.7V483.2M1575.4 238.0V242.5M1590.1 478.7V480.9M1590.1 238.0V240.2M1604.9 478.7V480.9M1604.9 238.0V240.2M1619.6 478.7V480.9M1619.6 238.0V240.2" stroke="#000" stroke-width="1.4" fill="none"/>
<rect x="1333.3" y="238.0" width="295.2" height="240.7" fill="none" stroke="#000" stroke-width="1.6"/>
<text transform="translate(1326.4,487.9) scale(1,1.035)" font-size="26" text-anchor="end">0</text>
<text transform="translate(1326.4,456.2) scale(1,1.035)" font-size="26" text-anchor="end">5k</text>
<text transform="translate(1326.4,424.6) scale(1,1.035)" font-size="26" text-anchor="end">10k</text>
<text transform="translate(1326.4,392.9) scale(1,1.035)" font-size="26" text-anchor="end">15k</text>
<text transform="translate(1326.4,361.2) scale(1,1.035)" font-size="26" text-anchor="end">20k</text>
<text transform="translate(1326.4,329.5) scale(1,1.035)" font-size="26" text-anchor="end">25k</text>
<text transform="translate(1326.4,297.9) scale(1,1.035)" font-size="26" text-anchor="end">30k</text>
<text transform="translate(1326.4,266.2) scale(1,1.035)" font-size="26" text-anchor="end">35k</text>
<text transform="translate(1354.0,507.2) scale(1,1.035)" font-size="26" text-anchor="middle">400</text>
<text transform="translate(1427.8,507.2) scale(1,1.035)" font-size="26" text-anchor="middle">450</text>
<text transform="translate(1501.6,507.2) scale(1,1.035)" font-size="26" text-anchor="middle">500</text>
<text transform="translate(1575.4,507.2) scale(1,1.035)" font-size="26" text-anchor="middle">550</text>
<text x="1477.6" y="537.9" font-size="32.3" text-anchor="middle">T (K)</text>
<text transform="translate(1269.2,369.5) rotate(-90)" font-size="31">ε<tspan font-size="22" dy="7">r</tspan></text>
<path d="M1412.7 281.7L1429.5 333" stroke="#000" stroke-width="2"/>
<path d="M1434.5 345L1425.2 333.2L1435.6 331Z" fill="#000"/>
<text x="1362.2" y="277.9" font-size="32.5">kHz</text>
<text x="1413.2" y="375.1" font-size="32.5">MHz</text>
<text transform="translate(955,562.2) scale(1,1.035)" font-size="40.5" text-anchor="end">8</text>
<text transform="translate(955,495.8) scale(1,1.035)" font-size="40.5" text-anchor="end">9</text>
<text transform="translate(955,429.3) scale(1,1.035)" font-size="40.5" text-anchor="end">10</text>
<text transform="translate(955,362.8) scale(1,1.035)" font-size="40.5" text-anchor="end">11</text>
<text transform="translate(955,296.4) scale(1,1.035)" font-size="40.5" text-anchor="end">12</text>
<text transform="translate(955,229.9) scale(1,1.035)" font-size="40.5" text-anchor="end">13</text>
<text transform="translate(955,163.5) scale(1,1.035)" font-size="40.5" text-anchor="end">14</text>
<text transform="translate(955,97.0) scale(1,1.035)" font-size="40.5" text-anchor="end">15</text>
<text transform="translate(955,30.6) scale(1,1.035)" font-size="40.5" text-anchor="end">16</text>
<text transform="translate(1018.8,597.6) scale(1,1.035)" font-size="40.5" text-anchor="middle">460</text>
<text transform="translate(1114.6,597.6) scale(1,1.035)" font-size="40.5" text-anchor="middle">462</text>
<text transform="translate(1210.5,597.6) scale(1,1.035)" font-size="40.5" text-anchor="middle">464</text>
<text transform="translate(1306.4,597.6) scale(1,1.035)" font-size="40.5" text-anchor="middle">466</text>
<text transform="translate(1402.3,597.6) scale(1,1.035)" font-size="40.5" text-anchor="middle">468</text>
<text transform="translate(1498.2,597.6) scale(1,1.035)" font-size="40.5" text-anchor="middle">470</text>
<text transform="translate(1594.2,597.6) scale(1,1.035)" font-size="40.5" text-anchor="middle">472</text>
<text x="1221.6" y="649.2" font-size="49">T<tspan font-size="33" dy="12.3">max</tspan><tspan dy="-12.3"> (K)</tspan></text>
<text transform="translate(885.5,357.3) rotate(-90)" font-size="49">ln(f<tspan font-size="33.5" dy="12.5">max</tspan><tspan dy="-12.5">)</tspan></text>
<text x="850.1" y="40.4" font-size="53">b</text>
</svg>
</body></html>
